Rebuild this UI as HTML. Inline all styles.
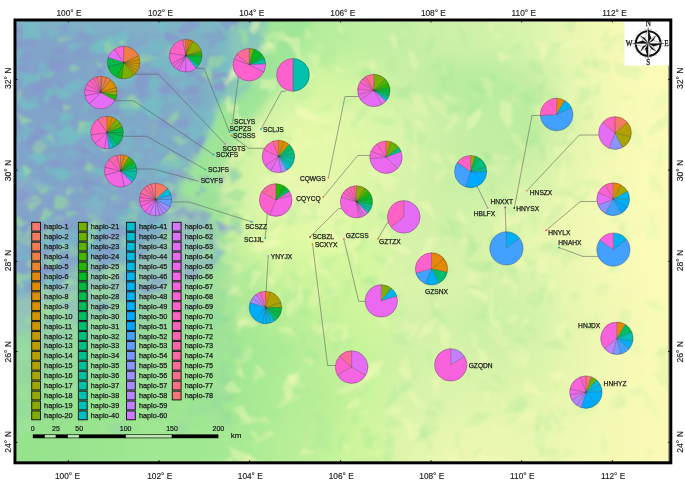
<!DOCTYPE html>
<html><head><meta charset="utf-8"><style>
html,body{margin:0;padding:0;background:#fff;}
body{width:685px;height:487px;overflow:hidden;}
svg{display:block;}
text{font-family:"Liberation Sans",sans-serif;}
.axv{font-size:8.6px !important;}
.ax{font-size:8.3px;fill:#1a1a1a;stroke:#1a1a1a;stroke-width:0.15px;}
.st{font-size:6.65px;fill:#1a1a1a;stroke:#1a1a1a;stroke-width:0.25px;}
.lg{font-size:7.3px;fill:#1a1a1a;stroke:#1a1a1a;stroke-width:0.25px;}
.sb{font-size:7px;fill:#1a1a1a;stroke:#1a1a1a;stroke-width:0.2px;}
.km{font-size:8px;fill:#1a1a1a;stroke:#1a1a1a;stroke-width:0.2px;}
.cp{font-family:"Liberation Serif",serif;font-size:7.2px;fill:#111;stroke:#111;stroke-width:0.25px;}
</style></head><body>
<svg width="685" height="487" viewBox="0 0 685 487">
<defs>
<filter id="bl" x="-5%" y="-5%" width="110%" height="110%"><feGaussianBlur stdDeviation="14"/></filter>
<filter id="bl2" x="-5%" y="-5%" width="110%" height="110%"><feGaussianBlur stdDeviation="4"/></filter>
<linearGradient id="bg1" gradientUnits="userSpaceOnUse" x1="0" y1="0" x2="240" y2="0">
<stop offset="0" stop-color="#82A2CA"/><stop offset="0.6" stop-color="#81A8C8"/><stop offset="0.85" stop-color="#7FB0C6"/><stop offset="1" stop-color="#7EBAC4"/></linearGradient>
<clipPath id="bc"><polygon points="0,0 238,0 238,22 236,45 231,70 224,90 218,106 211,125 204,142 194,160 184,176 176,192 168,210 160,235 140,255 110,268 70,280 40,290 0,300"/></clipPath>
<filter id="bl3" x="-5%" y="-5%" width="110%" height="110%"><feGaussianBlur stdDeviation="1.6"/></filter>
<clipPath id="mc"><rect x="16.5" y="21.5" width="652.8" height="440"/></clipPath>
</defs>
<g clip-path="url(#mc)">
<g filter="url(#bl)">
<rect x="-13" y="-8" width="71.5" height="70.5" fill="#86A2CC"/>
<rect x="58" y="-8" width="41.5" height="70.5" fill="#84ABC9"/>
<rect x="99" y="-8" width="41.5" height="70.5" fill="#82AFC8"/>
<rect x="140" y="-8" width="41.5" height="70.5" fill="#80B2C8"/>
<rect x="181" y="-8" width="41.5" height="70.5" fill="#7FB8C6"/>
<rect x="222" y="-8" width="41.5" height="70.5" fill="#8CCCB8"/>
<rect x="263" y="-8" width="41.5" height="70.5" fill="#A6E89B"/>
<rect x="304" y="-8" width="41.5" height="70.5" fill="#B6EE9B"/>
<rect x="345" y="-8" width="41.5" height="70.5" fill="#BEF09F"/>
<rect x="386" y="-8" width="41.5" height="70.5" fill="#C4EFA5"/>
<rect x="427" y="-8" width="41.5" height="70.5" fill="#CCF1A8"/>
<rect x="468" y="-8" width="41.5" height="70.5" fill="#D0F2A8"/>
<rect x="509" y="-8" width="41.5" height="70.5" fill="#D8F4AC"/>
<rect x="550" y="-8" width="41.5" height="70.5" fill="#E9F7B1"/>
<rect x="591" y="-8" width="41.5" height="70.5" fill="#F5F9B4"/>
<rect x="632" y="-8" width="71.5" height="70.5" fill="#FAFBB7"/>
<rect x="-13" y="62" width="71.5" height="40.5" fill="#879FCD"/>
<rect x="58" y="62" width="41.5" height="40.5" fill="#84A8CA"/>
<rect x="99" y="62" width="41.5" height="40.5" fill="#86A6CC"/>
<rect x="140" y="62" width="41.5" height="40.5" fill="#82AEC8"/>
<rect x="181" y="62" width="41.5" height="40.5" fill="#84AACA"/>
<rect x="222" y="62" width="41.5" height="40.5" fill="#A2DEA3"/>
<rect x="263" y="62" width="41.5" height="40.5" fill="#BEF09F"/>
<rect x="304" y="62" width="41.5" height="40.5" fill="#D6F6A3"/>
<rect x="345" y="62" width="41.5" height="40.5" fill="#CEF4A3"/>
<rect x="386" y="62" width="41.5" height="40.5" fill="#C8F0A6"/>
<rect x="427" y="62" width="41.5" height="40.5" fill="#B8EC9E"/>
<rect x="468" y="62" width="41.5" height="40.5" fill="#B4EC9E"/>
<rect x="509" y="62" width="41.5" height="40.5" fill="#C4EEA4"/>
<rect x="550" y="62" width="41.5" height="40.5" fill="#E1F6AE"/>
<rect x="591" y="62" width="41.5" height="40.5" fill="#F4F9B4"/>
<rect x="632" y="62" width="71.5" height="40.5" fill="#FAFBB7"/>
<rect x="-13" y="102" width="71.5" height="40.5" fill="#83A6CA"/>
<rect x="58" y="102" width="41.5" height="40.5" fill="#869FCD"/>
<rect x="99" y="102" width="41.5" height="40.5" fill="#889ACE"/>
<rect x="140" y="102" width="41.5" height="40.5" fill="#879FCD"/>
<rect x="181" y="102" width="41.5" height="40.5" fill="#88AEC4"/>
<rect x="222" y="102" width="41.5" height="40.5" fill="#C2EEA1"/>
<rect x="263" y="102" width="41.5" height="40.5" fill="#DEF8A7"/>
<rect x="304" y="102" width="41.5" height="40.5" fill="#E4F9A9"/>
<rect x="345" y="102" width="41.5" height="40.5" fill="#DAF7A7"/>
<rect x="386" y="102" width="41.5" height="40.5" fill="#D8F4AA"/>
<rect x="427" y="102" width="41.5" height="40.5" fill="#C8F0A6"/>
<rect x="468" y="102" width="41.5" height="40.5" fill="#C0EEA2"/>
<rect x="509" y="102" width="41.5" height="40.5" fill="#B8EC9E"/>
<rect x="550" y="102" width="41.5" height="40.5" fill="#DBF4AC"/>
<rect x="591" y="102" width="41.5" height="40.5" fill="#F3F9B4"/>
<rect x="632" y="102" width="71.5" height="40.5" fill="#FAFBB7"/>
<rect x="-13" y="142" width="71.5" height="40.5" fill="#869FCD"/>
<rect x="58" y="142" width="41.5" height="40.5" fill="#86A4CB"/>
<rect x="99" y="142" width="41.5" height="40.5" fill="#889ECE"/>
<rect x="140" y="142" width="41.5" height="40.5" fill="#84A6CA"/>
<rect x="181" y="142" width="41.5" height="40.5" fill="#A6DEA3"/>
<rect x="222" y="142" width="41.5" height="40.5" fill="#D2F4A3"/>
<rect x="263" y="142" width="41.5" height="40.5" fill="#E2F8A9"/>
<rect x="304" y="142" width="41.5" height="40.5" fill="#E4F9A9"/>
<rect x="345" y="142" width="41.5" height="40.5" fill="#DEF8A7"/>
<rect x="386" y="142" width="41.5" height="40.5" fill="#D8F4AA"/>
<rect x="427" y="142" width="41.5" height="40.5" fill="#C8F0A4"/>
<rect x="468" y="142" width="41.5" height="40.5" fill="#C0EEA2"/>
<rect x="509" y="142" width="41.5" height="40.5" fill="#CCF0A6"/>
<rect x="550" y="142" width="41.5" height="40.5" fill="#E4F6AE"/>
<rect x="591" y="142" width="41.5" height="40.5" fill="#F5F9B4"/>
<rect x="632" y="142" width="71.5" height="40.5" fill="#FAFBB7"/>
<rect x="-13" y="182" width="71.5" height="40.5" fill="#8AAAC8"/>
<rect x="58" y="182" width="41.5" height="40.5" fill="#889FCD"/>
<rect x="99" y="182" width="41.5" height="40.5" fill="#8AA2CC"/>
<rect x="140" y="182" width="41.5" height="40.5" fill="#88A8C8"/>
<rect x="181" y="182" width="41.5" height="40.5" fill="#A6DAA5"/>
<rect x="222" y="182" width="41.5" height="40.5" fill="#D6F4A5"/>
<rect x="263" y="182" width="41.5" height="40.5" fill="#E8F7B0"/>
<rect x="304" y="182" width="41.5" height="40.5" fill="#E8F7B0"/>
<rect x="345" y="182" width="41.5" height="40.5" fill="#DAF6A7"/>
<rect x="386" y="182" width="41.5" height="40.5" fill="#D4F2A8"/>
<rect x="427" y="182" width="41.5" height="40.5" fill="#CCF0A6"/>
<rect x="468" y="182" width="41.5" height="40.5" fill="#D0F2A8"/>
<rect x="509" y="182" width="41.5" height="40.5" fill="#DCF4AC"/>
<rect x="550" y="182" width="41.5" height="40.5" fill="#EEF8B1"/>
<rect x="591" y="182" width="41.5" height="40.5" fill="#F6FAB6"/>
<rect x="632" y="182" width="71.5" height="40.5" fill="#FAFBB7"/>
<rect x="-13" y="222" width="71.5" height="40.5" fill="#8CAEC6"/>
<rect x="58" y="222" width="41.5" height="40.5" fill="#8CA8C8"/>
<rect x="99" y="222" width="41.5" height="40.5" fill="#8EAEC6"/>
<rect x="140" y="222" width="41.5" height="40.5" fill="#94BCBC"/>
<rect x="181" y="222" width="41.5" height="40.5" fill="#A1D8A2"/>
<rect x="222" y="222" width="41.5" height="40.5" fill="#CDF49E"/>
<rect x="263" y="222" width="41.5" height="40.5" fill="#DDF9A2"/>
<rect x="304" y="222" width="41.5" height="40.5" fill="#E3FBA4"/>
<rect x="345" y="222" width="41.5" height="40.5" fill="#D5F8A0"/>
<rect x="386" y="222" width="41.5" height="40.5" fill="#D4F2A8"/>
<rect x="427" y="222" width="41.5" height="40.5" fill="#D4F2A8"/>
<rect x="468" y="222" width="41.5" height="40.5" fill="#D8F4AA"/>
<rect x="509" y="222" width="41.5" height="40.5" fill="#E4F6AE"/>
<rect x="550" y="222" width="41.5" height="40.5" fill="#F0F8B3"/>
<rect x="591" y="222" width="41.5" height="40.5" fill="#F7FAB6"/>
<rect x="632" y="222" width="71.5" height="40.5" fill="#FAFBB7"/>
<rect x="-13" y="262" width="71.5" height="40.5" fill="#90BCC0"/>
<rect x="58" y="262" width="41.5" height="40.5" fill="#90B8C0"/>
<rect x="99" y="262" width="41.5" height="40.5" fill="#94C0BA"/>
<rect x="140" y="262" width="41.5" height="40.5" fill="#98C8B4"/>
<rect x="181" y="262" width="41.5" height="40.5" fill="#9DD8A0"/>
<rect x="222" y="262" width="41.5" height="40.5" fill="#B5EC98"/>
<rect x="263" y="262" width="41.5" height="40.5" fill="#C5F29A"/>
<rect x="304" y="262" width="41.5" height="40.5" fill="#CDF49C"/>
<rect x="345" y="262" width="41.5" height="40.5" fill="#D1F69E"/>
<rect x="386" y="262" width="41.5" height="40.5" fill="#DCF4AC"/>
<rect x="427" y="262" width="41.5" height="40.5" fill="#DCF4AC"/>
<rect x="468" y="262" width="41.5" height="40.5" fill="#D4F2A8"/>
<rect x="509" y="262" width="41.5" height="40.5" fill="#D8F4AA"/>
<rect x="550" y="262" width="41.5" height="40.5" fill="#E9F7B0"/>
<rect x="591" y="262" width="41.5" height="40.5" fill="#F4F9B4"/>
<rect x="632" y="262" width="71.5" height="40.5" fill="#FAFBB6"/>
<rect x="-13" y="302" width="71.5" height="40.5" fill="#94C8B6"/>
<rect x="58" y="302" width="41.5" height="40.5" fill="#96CCB2"/>
<rect x="99" y="302" width="41.5" height="40.5" fill="#95D4A4"/>
<rect x="140" y="302" width="41.5" height="40.5" fill="#99DA9E"/>
<rect x="181" y="302" width="41.5" height="40.5" fill="#9DE09A"/>
<rect x="222" y="302" width="41.5" height="40.5" fill="#A5E892"/>
<rect x="263" y="302" width="41.5" height="40.5" fill="#B5EE96"/>
<rect x="304" y="302" width="41.5" height="40.5" fill="#C5F29A"/>
<rect x="345" y="302" width="41.5" height="40.5" fill="#CDF69C"/>
<rect x="386" y="302" width="41.5" height="40.5" fill="#D4F2A8"/>
<rect x="427" y="302" width="41.5" height="40.5" fill="#D0F2A6"/>
<rect x="468" y="302" width="41.5" height="40.5" fill="#C8F0A4"/>
<rect x="509" y="302" width="41.5" height="40.5" fill="#D0F2A8"/>
<rect x="550" y="302" width="41.5" height="40.5" fill="#E4F6AE"/>
<rect x="591" y="302" width="41.5" height="40.5" fill="#F1F8B2"/>
<rect x="632" y="302" width="71.5" height="40.5" fill="#F9FAB6"/>
<rect x="-13" y="342" width="71.5" height="40.5" fill="#95D4A2"/>
<rect x="58" y="342" width="41.5" height="40.5" fill="#97DA9C"/>
<rect x="99" y="342" width="41.5" height="40.5" fill="#99DE98"/>
<rect x="140" y="342" width="41.5" height="40.5" fill="#9DE296"/>
<rect x="181" y="342" width="41.5" height="40.5" fill="#9DE492"/>
<rect x="222" y="342" width="41.5" height="40.5" fill="#A1E892"/>
<rect x="263" y="342" width="41.5" height="40.5" fill="#ADEC96"/>
<rect x="304" y="342" width="41.5" height="40.5" fill="#BDF098"/>
<rect x="345" y="342" width="41.5" height="40.5" fill="#C5F49A"/>
<rect x="386" y="342" width="41.5" height="40.5" fill="#D0F2A6"/>
<rect x="427" y="342" width="41.5" height="40.5" fill="#D8F4AA"/>
<rect x="468" y="342" width="41.5" height="40.5" fill="#D4F2A8"/>
<rect x="509" y="342" width="41.5" height="40.5" fill="#D8F4AA"/>
<rect x="550" y="342" width="41.5" height="40.5" fill="#E7F6AE"/>
<rect x="591" y="342" width="41.5" height="40.5" fill="#F3F9B4"/>
<rect x="632" y="342" width="71.5" height="40.5" fill="#F9FAB6"/>
<rect x="-13" y="382" width="71.5" height="40.5" fill="#95E092"/>
<rect x="58" y="382" width="41.5" height="40.5" fill="#95E28E"/>
<rect x="99" y="382" width="41.5" height="40.5" fill="#99E48E"/>
<rect x="140" y="382" width="41.5" height="40.5" fill="#9DE492"/>
<rect x="181" y="382" width="41.5" height="40.5" fill="#9DE690"/>
<rect x="222" y="382" width="41.5" height="40.5" fill="#A5E892"/>
<rect x="263" y="382" width="41.5" height="40.5" fill="#B1EC96"/>
<rect x="304" y="382" width="41.5" height="40.5" fill="#B9EE96"/>
<rect x="345" y="382" width="41.5" height="40.5" fill="#C9F49C"/>
<rect x="386" y="382" width="41.5" height="40.5" fill="#D8F4AA"/>
<rect x="427" y="382" width="41.5" height="40.5" fill="#DCF4AC"/>
<rect x="468" y="382" width="41.5" height="40.5" fill="#E0F5AC"/>
<rect x="509" y="382" width="41.5" height="40.5" fill="#E0F5AC"/>
<rect x="550" y="382" width="41.5" height="40.5" fill="#E9F7B0"/>
<rect x="591" y="382" width="41.5" height="40.5" fill="#F3F9B4"/>
<rect x="632" y="382" width="71.5" height="40.5" fill="#F9FAB6"/>
<rect x="-13" y="422" width="71.5" height="70.5" fill="#95E48C"/>
<rect x="58" y="422" width="41.5" height="70.5" fill="#99E48E"/>
<rect x="99" y="422" width="41.5" height="70.5" fill="#9DE690"/>
<rect x="140" y="422" width="41.5" height="70.5" fill="#A1E892"/>
<rect x="181" y="422" width="41.5" height="70.5" fill="#A1E892"/>
<rect x="222" y="422" width="41.5" height="70.5" fill="#A9EA94"/>
<rect x="263" y="422" width="41.5" height="70.5" fill="#B5EE96"/>
<rect x="304" y="422" width="41.5" height="70.5" fill="#C1F29A"/>
<rect x="345" y="422" width="41.5" height="70.5" fill="#D1F69E"/>
<rect x="386" y="422" width="41.5" height="70.5" fill="#E0F5AC"/>
<rect x="427" y="422" width="41.5" height="70.5" fill="#E8F7B0"/>
<rect x="468" y="422" width="41.5" height="70.5" fill="#ECF8B2"/>
<rect x="509" y="422" width="41.5" height="70.5" fill="#E8F7B0"/>
<rect x="550" y="422" width="41.5" height="70.5" fill="#EFF8B3"/>
<rect x="591" y="422" width="41.5" height="70.5" fill="#F5F9B4"/>
<rect x="632" y="422" width="71.5" height="70.5" fill="#F9FAB6"/>
</g>
<g filter="url(#bl2)">
<polygon points="250,0 318,0 308,30 294,60 278,85 262,105 246,125 232,145 222,165 216,185 220,210 224,235 228,262 215,285 150,292 176,192 184,176 194,160 204,142 211,125 218,106 225,90 229,70 233,45 236,22" fill="#9EE598" />
<polygon points="176,192 196,205 212,222 220,245 214,268 190,285 150,292 100,300 50,312 0,325 0,300 40,290 70,280 110,268 140,255 160,235 168,210" fill="#94C2B8" />
<polygon points="0,0 238,0 238,22 236,45 231,70 224,90 218,106 211,125 204,142 194,160 184,176 176,192 168,210 160,235 140,255 110,268 70,280 40,290 0,300" fill="url(#bg1)" />
<polygon points="222,0 266,0 266,30 261,60 250,85 236,100 220,100 228,60 230,30" fill="#88C6BA" />
<polygon points="0,0 230,0 230,34 0,34" fill="#7EBCC6" fill-opacity="0.45"/>
</g>
<g filter="url(#bl3)">
<polygon points="639.4,449.7 633.7,442.6 627.9,430.2 631.7,426.8 637.5,440.1" fill="#F4FAB8" fill-opacity="0.27"/>
<polygon points="494.2,226.6 500.6,203.5 510.8,207.3" fill="#F4FAB8" fill-opacity="0.30"/>
<polygon points="511.2,164.7 513.8,156.8 524.1,152.3 523.1,158.6 518.3,166.2" fill="#A6E896" fill-opacity="0.26"/>
<polygon points="633.2,148.5 636.3,141.4 654.2,139.0 643.0,149.6" fill="#F4FAB8" fill-opacity="0.28"/>
<polygon points="297.2,351.3 282.2,357.0 270.1,343.4 295.0,344.2" fill="#A6E896" fill-opacity="0.33"/>
<polygon points="674.3,351.9 660.1,356.0 655.7,351.3 664.0,346.0" fill="#A6E896" fill-opacity="0.18"/>
<polygon points="535.6,287.4 522.0,254.5 535.8,261.5" fill="#A6E896" fill-opacity="0.16"/>
<polygon points="537.4,397.0 530.9,391.7 527.1,382.4 539.0,387.7" fill="#F4FAB8" fill-opacity="0.31"/>
<polygon points="424.0,102.6 415.4,102.3 409.0,94.0 413.6,89.2 421.5,95.7" fill="#F4FAB8" fill-opacity="0.33"/>
<polygon points="536.1,110.1 521.7,96.1 526.7,93.0" fill="#A6E896" fill-opacity="0.28"/>
<polygon points="659.0,131.2 659.8,120.4 674.2,104.2 670.9,123.2" fill="#A6E896" fill-opacity="0.17"/>
<polygon points="402.5,394.6 409.9,376.9 417.7,370.3 412.0,386.4" fill="#A6E896" fill-opacity="0.27"/>
<polygon points="560.7,25.4 570.8,22.8 569.7,27.3" fill="#A6E896" fill-opacity="0.22"/>
<polygon points="584.3,61.8 594.5,59.3 603.0,57.1 599.6,64.2 590.1,67.5" fill="#F4FAB8" fill-opacity="0.35"/>
<polygon points="351.2,428.0 352.4,413.3 360.7,415.6" fill="#A6E896" fill-opacity="0.34"/>
<polygon points="414.0,174.7 408.8,158.5 416.8,143.5 418.8,163.1" fill="#F4FAB8" fill-opacity="0.38"/>
<polygon points="652.7,165.4 657.1,156.3 668.5,149.3 661.6,165.7" fill="#F4FAB8" fill-opacity="0.37"/>
<polygon points="413.7,143.6 403.2,139.7 403.6,112.5 413.1,125.1" fill="#A6E896" fill-opacity="0.26"/>
<polygon points="312.2,367.1 301.6,358.6 312.6,356.7" fill="#F4FAB8" fill-opacity="0.36"/>
<polygon points="507.3,151.6 527.2,133.5 531.6,144.8" fill="#A6E896" fill-opacity="0.29"/>
<polygon points="592.7,82.5 574.0,75.0 576.5,66.3" fill="#A6E896" fill-opacity="0.21"/>
<polygon points="563.0,157.7 574.0,145.9 582.8,143.3 580.2,153.4 572.3,155.8" fill="#F4FAB8" fill-opacity="0.26"/>
<polygon points="265.2,376.7 260.3,373.7 254.1,366.1 258.9,366.1 263.7,372.2" fill="#F4FAB8" fill-opacity="0.49"/>
<polygon points="614.1,239.2 594.1,244.6 577.7,235.2 589.3,228.4" fill="#F4FAB8" fill-opacity="0.47"/>
<polygon points="381.9,284.2 380.1,278.2 381.1,273.6 383.6,280.0" fill="#F4FAB8" fill-opacity="0.48"/>
<polygon points="308.4,390.3 289.5,387.3 287.7,376.1 294.2,374.4" fill="#F4FAB8" fill-opacity="0.28"/>
<polygon points="271.9,286.9 265.7,277.1 272.1,275.9" fill="#F4FAB8" fill-opacity="0.46"/>
<polygon points="300.4,306.5 285.0,303.5 284.1,295.5 285.6,289.7 297.5,300.4" fill="#A6E896" fill-opacity="0.23"/>
<polygon points="241.0,445.1 245.4,421.9 253.8,418.1 255.1,432.4" fill="#A6E896" fill-opacity="0.44"/>
<polygon points="224.7,276.4 237.6,258.3 244.4,271.8" fill="#F4FAB8" fill-opacity="0.27"/>
<polygon points="649.9,307.2 640.5,301.5 639.7,294.7 646.8,299.8" fill="#F4FAB8" fill-opacity="0.29"/>
<polygon points="340.2,353.8 340.6,339.0 346.2,323.8 348.8,338.4" fill="#F4FAB8" fill-opacity="0.45"/>
<polygon points="225.3,296.1 237.9,284.8 240.0,289.8" fill="#F4FAB8" fill-opacity="0.34"/>
<polygon points="467.9,463.0 458.6,458.2 457.5,445.3 463.4,449.7 466.3,453.4" fill="#A6E896" fill-opacity="0.16"/>
<polygon points="615.5,157.8 604.1,150.6 602.5,143.6 605.9,138.0 617.5,147.8" fill="#A6E896" fill-opacity="0.11"/>
<polygon points="239.8,318.4 235.7,300.8 250.0,307.4" fill="#A6E896" fill-opacity="0.43"/>
<polygon points="424.8,131.0 412.4,122.8 421.1,119.8" fill="#F4FAB8" fill-opacity="0.41"/>
<polygon points="355.4,244.7 336.7,236.9 333.5,229.5 345.3,231.4" fill="#A6E896" fill-opacity="0.25"/>
<polygon points="592.4,118.7 585.8,119.9 581.0,117.9 583.7,115.5 589.7,114.1" fill="#A6E896" fill-opacity="0.25"/>
<polygon points="229.0,206.6 235.3,199.7 240.0,198.1 248.5,206.4 230.0,211.8" fill="#A6E896" fill-opacity="0.24"/>
<polygon points="419.4,151.6 417.2,128.4 427.4,136.4" fill="#A6E896" fill-opacity="0.27"/>
<polygon points="323.2,301.6 327.3,287.7 331.7,279.5 340.7,284.6 337.1,295.7" fill="#F4FAB8" fill-opacity="0.33"/>
<polygon points="511.3,159.0 493.8,162.8 491.7,151.9" fill="#F4FAB8" fill-opacity="0.31"/>
<polygon points="486.2,418.6 484.3,420.7 475.6,419.0 479.9,415.0 485.2,416.1" fill="#A6E896" fill-opacity="0.16"/>
<polygon points="557.2,53.8 542.3,55.4 532.8,38.2 556.3,46.7" fill="#F4FAB8" fill-opacity="0.48"/>
<polygon points="577.7,199.0 566.1,195.1 563.0,187.2 571.9,188.6" fill="#A6E896" fill-opacity="0.21"/>
<polygon points="565.7,387.4 560.3,379.3 562.8,375.6" fill="#A6E896" fill-opacity="0.19"/>
<polygon points="296.1,166.0 292.9,155.7 292.1,140.0 301.1,155.0" fill="#F4FAB8" fill-opacity="0.30"/>
<polygon points="322.7,274.6 320.7,268.2 327.3,257.5 326.1,269.2" fill="#A6E896" fill-opacity="0.27"/>
<polygon points="537.0,433.3 533.9,427.1 538.1,411.1 544.0,415.3 541.0,427.3" fill="#A6E896" fill-opacity="0.22"/>
<polygon points="241.0,77.6 231.2,80.5 221.2,79.4 216.5,72.7 239.1,70.0" fill="#F4FAB8" fill-opacity="0.27"/>
<polygon points="568.3,140.3 563.2,138.4 564.0,128.4 569.4,130.2" fill="#A6E896" fill-opacity="0.17"/>
<polygon points="512.1,56.2 499.5,62.8 497.3,51.4" fill="#F4FAB8" fill-opacity="0.50"/>
<polygon points="558.7,132.8 549.8,123.0 558.6,119.8" fill="#A6E896" fill-opacity="0.16"/>
<polygon points="317.0,332.8 318.8,322.4 334.2,314.5 337.3,323.5 329.6,331.5" fill="#A6E896" fill-opacity="0.20"/>
<polygon points="319.1,300.5 312.2,297.2 303.1,288.7 314.6,292.6" fill="#A6E896" fill-opacity="0.36"/>
<polygon points="224.3,87.5 224.4,76.9 235.2,62.4 238.2,66.0 235.7,76.3" fill="#F4FAB8" fill-opacity="0.45"/>
<polygon points="390.3,190.3 375.4,188.3 377.6,182.7" fill="#A6E896" fill-opacity="0.18"/>
<polygon points="334.5,240.6 330.7,236.7 350.1,226.1 357.4,230.3 339.8,244.2" fill="#F4FAB8" fill-opacity="0.34"/>
<polygon points="595.5,260.7 592.3,260.5 587.8,254.3 588.8,251.1 595.2,256.8" fill="#A6E896" fill-opacity="0.11"/>
<polygon points="461.3,174.2 464.2,163.9 469.8,164.9" fill="#A6E896" fill-opacity="0.37"/>
<polygon points="249.9,129.0 240.4,129.4 234.4,112.7 252.0,123.3" fill="#F4FAB8" fill-opacity="0.44"/>
<polygon points="548.4,274.8 544.0,278.0 535.2,271.4 545.5,271.8" fill="#A6E896" fill-opacity="0.28"/>
<polygon points="350.7,210.9 365.0,199.5 381.3,196.9 367.9,207.9" fill="#A6E896" fill-opacity="0.14"/>
<polygon points="516.5,102.8 523.7,91.2 542.6,83.8 545.6,92.4 533.3,98.8" fill="#A6E896" fill-opacity="0.25"/>
<polygon points="608.2,180.6 615.1,175.8 622.7,175.2 622.4,179.5 618.3,182.7" fill="#A6E896" fill-opacity="0.20"/>
<polygon points="285.4,152.2 294.3,142.9 311.8,137.3 320.0,142.2 299.2,152.0" fill="#F4FAB8" fill-opacity="0.29"/>
<polygon points="587.8,70.7 581.9,62.5 588.1,56.3" fill="#A6E896" fill-opacity="0.20"/>
<polygon points="638.8,80.2 619.1,75.6 615.6,70.9 612.9,60.0 637.1,70.0" fill="#A6E896" fill-opacity="0.17"/>
<polygon points="256.3,86.2 251.6,80.5 247.1,76.3 251.9,73.6 257.0,78.7" fill="#F4FAB8" fill-opacity="0.30"/>
<polygon points="269.1,180.0 269.3,170.2 277.4,158.4 277.6,172.4" fill="#A6E896" fill-opacity="0.20"/>
<polygon points="271.1,42.4 263.1,37.5 251.3,26.3 254.3,20.9 265.7,29.3" fill="#A6E896" fill-opacity="0.34"/>
<polygon points="226.8,186.0 224.2,187.1 221.4,175.2 225.2,176.6 228.9,182.2" fill="#F4FAB8" fill-opacity="0.25"/>
<polygon points="431.5,435.0 422.6,436.2 411.2,427.1 424.9,426.9" fill="#A6E896" fill-opacity="0.19"/>
<polygon points="502.9,334.1 490.1,324.3 490.0,317.5 499.7,321.1" fill="#F4FAB8" fill-opacity="0.47"/>
<polygon points="493.2,300.9 487.4,289.6 493.4,286.6" fill="#F4FAB8" fill-opacity="0.29"/>
<polygon points="234.2,90.7 237.7,79.8 252.4,74.4 249.3,82.5 245.8,85.2" fill="#A6E896" fill-opacity="0.29"/>
<polygon points="564.1,258.1 546.0,246.5 554.7,243.9" fill="#A6E896" fill-opacity="0.16"/>
<polygon points="353.0,239.4 348.6,235.4 352.0,225.7 355.8,226.0 355.6,235.9" fill="#A6E896" fill-opacity="0.27"/>
<polygon points="426.2,327.0 434.4,315.5 437.3,319.7" fill="#A6E896" fill-opacity="0.17"/>
<polygon points="344.9,33.3 343.0,37.3 337.0,27.7 337.8,24.4 342.7,28.2" fill="#F4FAB8" fill-opacity="0.39"/>
<polygon points="398.8,141.8 401.3,125.4 406.4,130.7" fill="#F4FAB8" fill-opacity="0.27"/>
<polygon points="495.3,270.4 475.5,272.8 461.5,261.3 489.0,261.1" fill="#A6E896" fill-opacity="0.30"/>
<polygon points="302.0,348.4 298.5,340.5 303.9,330.0 306.0,342.1" fill="#A6E896" fill-opacity="0.38"/>
<polygon points="251.8,156.1 248.3,155.8 243.6,146.4 250.3,143.2 252.5,151.8" fill="#A6E896" fill-opacity="0.34"/>
<polygon points="434.8,184.0 435.2,175.5 444.4,167.6 447.2,170.5 444.4,178.1" fill="#F4FAB8" fill-opacity="0.36"/>
<polygon points="390.6,468.8 384.4,458.4 385.3,433.3 392.1,433.6 394.9,448.3" fill="#A6E896" fill-opacity="0.27"/>
<polygon points="518.4,238.7 494.0,247.1 486.7,237.3 499.0,233.0" fill="#A6E896" fill-opacity="0.28"/>
<polygon points="459.9,118.7 450.9,119.3 449.0,112.5" fill="#A6E896" fill-opacity="0.28"/>
<polygon points="333.1,440.6 322.0,435.3 312.2,413.7 323.0,414.2 330.2,421.0" fill="#A6E896" fill-opacity="0.27"/>
<polygon points="588.3,169.6 586.4,162.8 589.1,157.1 590.4,166.6" fill="#F4FAB8" fill-opacity="0.26"/>
<polygon points="617.2,274.4 621.8,259.6 627.2,257.9 624.4,267.6" fill="#F4FAB8" fill-opacity="0.41"/>
<polygon points="283.6,378.1 295.6,373.4 301.0,377.0 293.4,382.1" fill="#F4FAB8" fill-opacity="0.34"/>
<polygon points="361.7,128.8 355.1,117.5 359.0,113.1 364.3,119.7" fill="#F4FAB8" fill-opacity="0.30"/>
<polygon points="434.1,454.1 419.4,434.6 430.2,435.5" fill="#A6E896" fill-opacity="0.20"/>
<polygon points="257.0,149.3 249.3,140.6 263.3,117.6 264.0,144.2" fill="#F4FAB8" fill-opacity="0.48"/>
<polygon points="348.6,325.8 330.1,333.2 313.2,323.4 329.7,321.5" fill="#F4FAB8" fill-opacity="0.28"/>
<polygon points="345.8,410.3 348.2,403.2 355.5,398.3 362.6,399.0 355.3,407.4" fill="#F4FAB8" fill-opacity="0.44"/>
<polygon points="393.7,160.4 384.9,150.6 391.5,149.0" fill="#F4FAB8" fill-opacity="0.43"/>
<polygon points="518.8,234.3 516.6,218.8 523.8,219.8" fill="#A6E896" fill-opacity="0.23"/>
<polygon points="369.7,451.8 382.3,439.9 384.4,447.0" fill="#A6E896" fill-opacity="0.19"/>
<polygon points="225.6,112.0 227.3,106.2 237.4,103.7 239.4,108.1 231.2,113.5" fill="#F4FAB8" fill-opacity="0.39"/>
<polygon points="231.9,409.2 224.4,407.6 216.7,390.1 223.3,389.1 230.0,399.3" fill="#A6E896" fill-opacity="0.36"/>
<polygon points="436.3,411.2 414.8,408.3 412.5,394.7" fill="#F4FAB8" fill-opacity="0.25"/>
<polygon points="539.5,146.8 530.1,142.6 529.5,127.7 538.6,135.2" fill="#A6E896" fill-opacity="0.26"/>
<polygon points="344.1,302.3 343.7,279.2 354.6,281.3" fill="#A6E896" fill-opacity="0.24"/>
<polygon points="261.8,189.6 267.9,182.7 282.4,188.4 280.1,196.7" fill="#F4FAB8" fill-opacity="0.30"/>
<polygon points="617.2,63.1 614.9,50.5 624.7,43.8" fill="#F4FAB8" fill-opacity="0.38"/>
<polygon points="416.9,432.3 425.9,420.1 432.3,412.2 437.2,421.1 427.3,429.1" fill="#A6E896" fill-opacity="0.17"/>
<polygon points="563.2,231.4 553.9,229.9 556.3,214.7 563.8,213.6 569.9,227.5" fill="#F4FAB8" fill-opacity="0.40"/>
<polygon points="417.9,339.5 423.5,325.1 438.8,315.7 430.5,333.2" fill="#F4FAB8" fill-opacity="0.47"/>
<polygon points="474.7,468.1 459.9,456.6 455.6,447.2 467.8,449.8" fill="#F4FAB8" fill-opacity="0.31"/>
<polygon points="407.0,341.1 418.0,323.3 418.8,330.0" fill="#F4FAB8" fill-opacity="0.48"/>
<polygon points="521.7,446.8 519.9,441.5 524.5,433.5 523.9,441.6" fill="#F4FAB8" fill-opacity="0.33"/>
<polygon points="443.3,135.2 453.1,111.1 459.8,118.8" fill="#F4FAB8" fill-opacity="0.42"/>
<polygon points="382.7,444.0 389.7,437.8 397.9,436.6 390.6,446.6" fill="#A6E896" fill-opacity="0.19"/>
<polygon points="332.0,231.1 335.0,218.9 347.2,219.7" fill="#A6E896" fill-opacity="0.24"/>
<polygon points="251.5,423.6 231.7,409.3 243.2,404.4" fill="#F4FAB8" fill-opacity="0.42"/>
<polygon points="348.4,454.4 343.7,448.6 339.4,438.4 349.6,445.7" fill="#F4FAB8" fill-opacity="0.27"/>
<polygon points="563.3,146.0 570.4,132.1 574.2,135.4" fill="#F4FAB8" fill-opacity="0.45"/>
<polygon points="242.6,235.0 247.4,225.7 259.6,228.2" fill="#F4FAB8" fill-opacity="0.26"/>
<polygon points="570.0,152.3 562.8,151.0 556.0,143.7 555.1,139.4 566.2,144.6" fill="#F4FAB8" fill-opacity="0.33"/>
<polygon points="579.1,193.8 574.0,189.5 570.9,172.8 581.2,186.4" fill="#A6E896" fill-opacity="0.14"/>
<polygon points="567.7,304.1 563.3,303.4 561.7,293.9 566.1,290.7 567.7,298.7" fill="#F4FAB8" fill-opacity="0.43"/>
<polygon points="369.6,237.3 368.0,234.4 376.5,225.8 380.3,230.0 371.9,241.5" fill="#F4FAB8" fill-opacity="0.50"/>
<polygon points="505.6,320.6 512.6,313.5 519.1,316.2 512.9,325.0" fill="#F4FAB8" fill-opacity="0.42"/>
<polygon points="570.3,340.0 565.7,338.4 562.8,330.2 566.4,326.9 569.6,333.9" fill="#A6E896" fill-opacity="0.26"/>
<polygon points="651.0,103.0 662.9,96.6 665.3,100.8 663.4,105.6" fill="#F4FAB8" fill-opacity="0.29"/>
<polygon points="471.1,241.9 459.9,244.1 451.4,237.2 463.3,236.9" fill="#F4FAB8" fill-opacity="0.37"/>
<polygon points="444.0,412.5 436.1,408.1 430.1,399.0 437.8,400.8 443.3,401.8" fill="#A6E896" fill-opacity="0.20"/>
<polygon points="396.8,78.7 390.9,73.1 385.3,60.5 392.7,60.0 394.9,66.7" fill="#A6E896" fill-opacity="0.22"/>
<polygon points="245.2,47.8 240.4,41.1 243.2,27.7 247.6,32.0 248.6,42.7" fill="#A6E896" fill-opacity="0.44"/>
<polygon points="275.4,409.9 286.7,391.5 303.7,396.4" fill="#F4FAB8" fill-opacity="0.30"/>
<polygon points="290.3,39.4 286.3,41.8 267.3,37.4 269.8,32.6 283.2,31.1" fill="#F4FAB8" fill-opacity="0.42"/>
<polygon points="592.7,95.3 589.2,94.7 597.3,83.4 601.7,81.7 599.0,95.7" fill="#A6E896" fill-opacity="0.20"/>
<polygon points="448.1,120.5 431.6,105.7 425.4,92.7 444.9,104.0" fill="#F4FAB8" fill-opacity="0.35"/>
<polygon points="237.3,334.1 235.9,313.0 244.3,304.5 248.9,320.2" fill="#F4FAB8" fill-opacity="0.37"/>
<polygon points="475.4,320.1 485.0,307.4 492.1,302.7 500.1,308.8 491.0,316.5" fill="#A6E896" fill-opacity="0.23"/>
<polygon points="495.3,40.4 493.3,36.4 501.2,30.1 501.8,34.2 498.2,39.5" fill="#F4FAB8" fill-opacity="0.32"/>
<polygon points="271.1,89.0 263.1,88.2 256.1,83.8 256.5,78.6 263.6,78.8" fill="#A6E896" fill-opacity="0.47"/>
<polygon points="649.9,59.9 657.2,58.2 658.7,63.1" fill="#F4FAB8" fill-opacity="0.35"/>
<polygon points="297.0,303.3 286.8,289.1 291.5,280.8" fill="#A6E896" fill-opacity="0.25"/>
<polygon points="475.2,345.8 469.0,333.5 476.2,331.9" fill="#F4FAB8" fill-opacity="0.37"/>
<polygon points="395.6,315.5 405.1,311.6 404.7,315.8" fill="#A6E896" fill-opacity="0.28"/>
<polygon points="598.9,55.9 602.3,45.3 611.2,43.4 613.8,45.4 608.4,53.5" fill="#A6E896" fill-opacity="0.14"/>
<polygon points="543.7,75.4 537.2,73.0 527.4,66.5 531.1,59.3 541.4,64.5" fill="#A6E896" fill-opacity="0.30"/>
<polygon points="272.0,239.7 269.7,234.2 281.3,223.2 279.2,235.2" fill="#F4FAB8" fill-opacity="0.45"/>
<polygon points="363.4,88.7 361.5,76.0 366.0,57.0 372.0,74.5" fill="#A6E896" fill-opacity="0.32"/>
<polygon points="345.5,395.0 367.2,366.2 372.9,376.1" fill="#F4FAB8" fill-opacity="0.35"/>
<polygon points="372.7,74.2 360.6,77.8 356.2,71.5 368.3,70.3" fill="#A6E896" fill-opacity="0.24"/>
<polygon points="606.1,155.6 601.1,138.0 609.1,135.7" fill="#A6E896" fill-opacity="0.14"/>
<polygon points="625.3,297.7 612.9,293.2 605.8,275.0 616.6,280.6" fill="#F4FAB8" fill-opacity="0.34"/>
<polygon points="646.7,240.0 646.4,228.8 650.9,220.9 656.6,222.6 654.9,230.0" fill="#A6E896" fill-opacity="0.14"/>
<polygon points="261.1,141.8 272.7,136.8 278.7,136.8 275.7,140.9" fill="#A6E896" fill-opacity="0.17"/>
<polygon points="332.3,254.6 327.2,238.8 333.5,225.6 337.9,239.8" fill="#F4FAB8" fill-opacity="0.30"/>
<polygon points="526.9,253.4 508.9,250.5 513.3,239.7" fill="#F4FAB8" fill-opacity="0.35"/>
<polygon points="310.6,37.6 307.7,43.7 288.1,33.4 291.2,25.5 307.6,33.0" fill="#A6E896" fill-opacity="0.38"/>
<polygon points="547.1,475.9 546.3,461.2 555.5,446.8 557.2,457.9 555.9,468.2" fill="#A6E896" fill-opacity="0.14"/>
<polygon points="360.9,281.0 351.9,269.0 348.0,249.6 360.1,265.1" fill="#A6E896" fill-opacity="0.23"/>
<polygon points="332.9,449.3 323.5,451.0 311.1,435.5 317.8,430.4 329.0,440.9" fill="#A6E896" fill-opacity="0.35"/>
<polygon points="305.8,225.5 297.9,224.6 292.4,218.2 303.2,220.9" fill="#F4FAB8" fill-opacity="0.37"/>
<polygon points="259.3,437.4 264.8,430.6 275.2,426.0 277.7,432.5 269.9,439.0" fill="#A6E896" fill-opacity="0.24"/>
<polygon points="547.7,376.2 551.9,371.8 562.5,371.3 564.9,375.0 560.4,381.1" fill="#F4FAB8" fill-opacity="0.40"/>
<polygon points="328.8,170.7 317.4,174.5 313.2,168.9 322.3,166.6" fill="#F4FAB8" fill-opacity="0.26"/>
<polygon points="436.4,220.2 416.1,202.5 428.8,200.2" fill="#F4FAB8" fill-opacity="0.49"/>
<polygon points="625.6,237.6 605.9,229.6 611.9,225.6" fill="#F4FAB8" fill-opacity="0.31"/>
<polygon points="315.3,223.5 307.0,203.9 319.1,200.4" fill="#A6E896" fill-opacity="0.20"/>
<polygon points="249.5,133.8 246.0,138.6 227.0,125.6 232.2,121.7 242.3,125.9" fill="#A6E896" fill-opacity="0.39"/>
<polygon points="556.1,351.0 551.9,333.8 556.9,336.4" fill="#A6E896" fill-opacity="0.17"/>
<polygon points="312.9,318.6 295.7,312.3 285.9,307.5 294.2,303.8 307.2,306.6" fill="#A6E896" fill-opacity="0.30"/>
<polygon points="412.7,250.7 406.4,255.4 389.8,247.2 391.8,241.0 404.1,245.9" fill="#F4FAB8" fill-opacity="0.48"/>
<polygon points="374.3,284.3 381.5,268.2 384.1,273.8" fill="#F4FAB8" fill-opacity="0.26"/>
<polygon points="536.2,217.3 546.6,210.4 554.6,214.2" fill="#F4FAB8" fill-opacity="0.44"/>
<polygon points="344.6,72.6 334.9,70.1 337.3,66.3" fill="#F4FAB8" fill-opacity="0.47"/>
<polygon points="413.4,383.6 397.2,370.9 405.8,356.0" fill="#F4FAB8" fill-opacity="0.46"/>
<polygon points="232.3,264.9 222.2,261.8 212.0,235.6 233.3,251.0" fill="#F4FAB8" fill-opacity="0.26"/>
<polygon points="268.9,70.9 257.2,66.4 247.9,56.5 256.3,51.4 268.8,60.5" fill="#A6E896" fill-opacity="0.36"/>
<polygon points="574.4,407.9 569.8,394.2 580.1,385.8 581.3,391.4 577.6,401.1" fill="#A6E896" fill-opacity="0.24"/>
<polygon points="500.6,224.8 501.5,214.7 527.0,212.1 520.9,222.4 509.9,225.8" fill="#F4FAB8" fill-opacity="0.48"/>
<polygon points="556.2,171.7 554.9,166.3 557.9,160.1 559.8,160.4 561.4,164.3" fill="#A6E896" fill-opacity="0.22"/>
<polygon points="403.2,425.6 387.5,429.3 383.3,422.0 391.9,415.4" fill="#A6E896" fill-opacity="0.24"/>
<polygon points="357.9,399.2 362.8,381.3 370.5,385.0" fill="#A6E896" fill-opacity="0.29"/>
<polygon points="296.6,313.3 293.4,301.3 302.1,290.8 303.6,297.9" fill="#F4FAB8" fill-opacity="0.38"/>
<polygon points="577.1,105.4 580.8,87.7 592.1,82.9 588.3,100.0" fill="#A6E896" fill-opacity="0.26"/>
<polygon points="260.0,322.6 273.9,310.6 280.8,312.2 278.3,324.5" fill="#A6E896" fill-opacity="0.41"/>
<polygon points="657.8,176.8 655.8,153.0 663.8,139.7 664.1,159.4" fill="#A6E896" fill-opacity="0.10"/>
<polygon points="360.0,365.2 343.6,364.0 339.7,358.3 340.6,354.8 348.7,357.1" fill="#A6E896" fill-opacity="0.39"/>
<polygon points="345.5,91.7 358.7,81.1 357.3,88.5" fill="#F4FAB8" fill-opacity="0.43"/>
<polygon points="548.2,404.7 552.7,396.4 566.4,392.4 557.6,401.9" fill="#F4FAB8" fill-opacity="0.41"/>
<polygon points="593.5,106.3 607.6,102.0 603.3,109.1" fill="#F4FAB8" fill-opacity="0.34"/>
<polygon points="344.7,258.8 342.0,248.9 348.4,241.1 348.3,250.4" fill="#A6E896" fill-opacity="0.33"/>
<polygon points="334.1,349.9 331.1,344.6 347.9,337.5 353.2,341.1 342.9,348.9" fill="#A6E896" fill-opacity="0.39"/>
<polygon points="384.4,270.2 383.8,264.3 391.0,254.4 393.9,258.9 392.1,263.4" fill="#F4FAB8" fill-opacity="0.48"/>
<polygon points="474.3,250.1 470.1,245.8 464.7,231.3 472.3,233.8 475.9,242.1" fill="#A6E896" fill-opacity="0.25"/>
<polygon points="330.4,278.4 312.2,268.3 307.4,262.0 313.9,256.9 323.4,260.0" fill="#F4FAB8" fill-opacity="0.46"/>
<polygon points="290.5,386.6 293.6,373.9 301.3,368.9 297.1,382.7" fill="#F4FAB8" fill-opacity="0.35"/>
<polygon points="604.4,52.8 609.4,38.4 616.8,37.8" fill="#A6E896" fill-opacity="0.13"/>
<polygon points="270.3,328.7 268.4,317.7 272.4,310.9 274.7,317.8" fill="#F4FAB8" fill-opacity="0.34"/>
<polygon points="411.3,425.0 407.7,428.4 400.5,416.9 410.8,421.2" fill="#F4FAB8" fill-opacity="0.48"/>
<polygon points="550.2,275.4 540.0,274.7 538.2,259.4 546.2,263.6" fill="#F4FAB8" fill-opacity="0.44"/>
<polygon points="605.8,412.2 598.8,406.9 602.2,390.1 608.5,386.8 608.9,408.0" fill="#F4FAB8" fill-opacity="0.34"/>
<polygon points="628.5,242.3 617.2,225.5 626.6,219.1" fill="#A6E896" fill-opacity="0.19"/>
<polygon points="255.4,224.3 250.4,219.5 251.7,213.0 255.4,213.9" fill="#A6E896" fill-opacity="0.17"/>
<polygon points="469.3,254.2 467.8,249.2 475.4,242.2 481.2,243.0 476.6,249.1" fill="#A6E896" fill-opacity="0.16"/>
<polygon points="407.2,112.1 413.3,107.7 419.5,107.8 416.0,111.0" fill="#F4FAB8" fill-opacity="0.35"/>
<polygon points="321.8,81.4 307.3,53.4 319.2,54.1" fill="#F4FAB8" fill-opacity="0.26"/>
<polygon points="412.7,443.1 421.2,432.3 429.3,430.5 425.6,439.2" fill="#A6E896" fill-opacity="0.27"/>
<polygon points="541.6,192.1 545.1,187.5 558.7,187.5 550.2,194.3" fill="#F4FAB8" fill-opacity="0.47"/>
<polygon points="260.9,180.4 271.3,174.6 277.8,176.7 267.4,182.7" fill="#F4FAB8" fill-opacity="0.48"/>
<polygon points="376.9,70.8 367.2,67.1 372.9,63.6" fill="#F4FAB8" fill-opacity="0.41"/>
<polygon points="370.2,301.9 365.0,289.7 374.8,284.2" fill="#A6E896" fill-opacity="0.34"/>
<polygon points="322.7,217.2 297.8,227.4 282.8,221.7 304.4,212.9" fill="#A6E896" fill-opacity="0.19"/>
<polygon points="628.3,39.4 640.3,27.0 650.8,28.3 641.4,35.5" fill="#A6E896" fill-opacity="0.16"/>
<polygon points="652.7,115.3 655.1,97.3 664.7,91.8 671.4,94.8 664.7,108.4" fill="#A6E896" fill-opacity="0.09"/>
<polygon points="404.1,292.2 400.2,285.1 402.2,278.2 403.9,284.7" fill="#F4FAB8" fill-opacity="0.29"/>
<polygon points="271.7,360.0 265.2,357.5 262.7,343.8 268.2,347.5 272.7,352.1" fill="#A6E896" fill-opacity="0.39"/>
<polygon points="269.9,43.7 267.4,29.6 274.2,13.9 278.9,22.0 280.7,33.5" fill="#A6E896" fill-opacity="0.25"/>
<polygon points="516.3,198.7 518.3,186.2 524.0,188.8" fill="#F4FAB8" fill-opacity="0.48"/>
<polygon points="590.7,378.9 589.9,364.9 598.1,365.8 603.1,370.0" fill="#F4FAB8" fill-opacity="0.31"/>
<polygon points="301.0,61.1 283.8,37.2 300.0,37.5" fill="#F4FAB8" fill-opacity="0.49"/>
<polygon points="464.5,236.7 456.6,244.1 444.1,230.3 453.0,225.0" fill="#A6E896" fill-opacity="0.32"/>
<polygon points="383.2,413.7 390.0,407.6 405.5,405.0 402.7,409.6 395.7,416.2" fill="#F4FAB8" fill-opacity="0.40"/>
<polygon points="228.7,370.2 235.8,359.6 245.9,364.3" fill="#A6E896" fill-opacity="0.40"/>
<polygon points="515.2,293.5 510.7,273.3 517.4,277.9" fill="#F4FAB8" fill-opacity="0.28"/>
<polygon points="336.3,314.1 325.5,290.0 339.5,285.2" fill="#A6E896" fill-opacity="0.18"/>
<polygon points="656.8,423.5 658.0,411.6 660.9,404.1 662.9,416.0" fill="#F4FAB8" fill-opacity="0.32"/>
<polygon points="459.0,178.6 451.4,175.1 477.1,160.8 479.9,170.3 464.2,183.4" fill="#A6E896" fill-opacity="0.26"/>
<polygon points="332.8,71.5 324.1,66.5 327.0,59.2" fill="#A6E896" fill-opacity="0.24"/>
<polygon points="573.9,197.6 558.6,196.7 541.6,187.4 550.4,185.1 564.2,191.5" fill="#A6E896" fill-opacity="0.21"/>
<polygon points="374.1,179.2 370.0,169.0 370.6,157.7 378.9,159.2 377.4,176.2" fill="#F4FAB8" fill-opacity="0.42"/>
<polygon points="672.3,388.1 660.2,385.7 652.6,370.8 664.0,374.1" fill="#A6E896" fill-opacity="0.16"/>
<polygon points="634.8,302.7 624.1,296.1 619.0,283.5 633.6,289.2" fill="#F4FAB8" fill-opacity="0.31"/>
<polygon points="253.8,248.8 263.7,238.6 283.9,242.6 260.4,251.7" fill="#F4FAB8" fill-opacity="0.33"/>
<polygon points="235.0,86.3 236.0,83.0 247.1,79.6 250.3,81.8 238.0,87.9" fill="#A6E896" fill-opacity="0.26"/>
<polygon points="357.4,413.2 368.2,410.7 368.5,415.8" fill="#F4FAB8" fill-opacity="0.38"/>
<polygon points="395.3,191.4 383.5,190.5 377.2,172.1 398.1,179.3" fill="#F4FAB8" fill-opacity="0.41"/>
<polygon points="409.4,440.8 405.1,433.6 408.9,423.1 418.7,424.6 419.3,433.3" fill="#F4FAB8" fill-opacity="0.47"/>
<polygon points="410.7,209.2 406.6,189.0 417.5,186.9" fill="#F4FAB8" fill-opacity="0.29"/>
<polygon points="253.6,57.1 277.7,39.1 276.5,52.4" fill="#F4FAB8" fill-opacity="0.34"/>
<polygon points="395.5,315.2 400.5,304.1 407.9,310.0" fill="#A6E896" fill-opacity="0.19"/>
<polygon points="315.4,79.0 301.2,70.1 310.9,70.6" fill="#F4FAB8" fill-opacity="0.50"/>
<polygon points="596.2,289.0 602.5,273.4 607.2,279.0" fill="#F4FAB8" fill-opacity="0.44"/>
<polygon points="518.1,327.3 527.2,315.9 530.3,321.9" fill="#F4FAB8" fill-opacity="0.50"/>
<polygon points="244.0,297.5 228.5,292.8 223.6,286.4 230.7,283.0 238.9,290.6" fill="#F4FAB8" fill-opacity="0.29"/>
<polygon points="572.7,131.8 558.6,112.4 574.5,111.5" fill="#A6E896" fill-opacity="0.29"/>
<polygon points="341.8,130.3 330.5,131.6 321.3,120.7 329.7,116.2" fill="#F4FAB8" fill-opacity="0.31"/>
<polygon points="649.4,224.1 646.4,216.2 650.3,209.8 657.7,210.1 653.5,221.6" fill="#A6E896" fill-opacity="0.10"/>
<polygon points="370.8,89.3 359.5,88.5 363.1,83.0" fill="#F4FAB8" fill-opacity="0.43"/>
<polygon points="258.8,63.3 255.7,56.8 260.6,51.7 262.8,59.1" fill="#A6E896" fill-opacity="0.52"/>
<polygon points="396.4,47.0 397.5,41.4 406.9,37.7 403.7,43.4" fill="#A6E896" fill-opacity="0.25"/>
<polygon points="605.3,100.2 603.0,92.5 608.5,84.3 609.0,93.4" fill="#F4FAB8" fill-opacity="0.34"/>
<polygon points="244.6,379.2 235.4,373.3 236.2,358.0 241.1,365.8" fill="#F4FAB8" fill-opacity="0.48"/>
<polygon points="641.4,150.7 632.4,143.6 626.9,125.8 642.8,136.1" fill="#A6E896" fill-opacity="0.10"/>
<polygon points="532.5,105.0 526.3,101.3 523.1,96.4 531.4,95.5" fill="#A6E896" fill-opacity="0.37"/>
<polygon points="250.3,446.5 269.7,429.3 275.6,434.4" fill="#F4FAB8" fill-opacity="0.35"/>
<polygon points="505.1,287.4 499.8,279.1 499.4,269.3 505.2,275.5" fill="#A6E896" fill-opacity="0.25"/>
<polygon points="605.5,40.5 603.3,30.1 611.3,28.5" fill="#A6E896" fill-opacity="0.13"/>
<polygon points="364.1,381.4 367.6,365.3 376.1,361.1 384.4,359.8 378.6,376.3" fill="#F4FAB8" fill-opacity="0.34"/>
<polygon points="550.2,340.6 555.0,327.1 568.2,319.8 565.7,335.6" fill="#F4FAB8" fill-opacity="0.42"/>
<polygon points="445.3,326.2 433.6,316.2 431.1,311.1 434.4,303.3 446.6,319.6" fill="#A6E896" fill-opacity="0.26"/>
<polygon points="626.5,211.0 634.0,205.4 647.6,203.0 647.1,206.0 636.3,211.5" fill="#F4FAB8" fill-opacity="0.43"/>
<polygon points="588.7,329.3 589.4,321.6 596.0,316.9 599.1,316.3 596.2,325.2" fill="#A6E896" fill-opacity="0.14"/>
<polygon points="562.3,155.0 555.7,153.9 551.6,144.4 558.8,148.1" fill="#F4FAB8" fill-opacity="0.38"/>
<polygon points="405.0,274.0 408.2,267.3 425.7,255.7 429.5,263.5 417.4,273.9" fill="#A6E896" fill-opacity="0.18"/>
<polygon points="401.6,217.4 390.2,219.7 376.3,213.9 389.5,208.3" fill="#A6E896" fill-opacity="0.28"/>
<polygon points="394.3,222.0 379.0,218.6 379.6,209.2" fill="#A6E896" fill-opacity="0.31"/>
<polygon points="325.6,332.5 316.3,334.0 313.8,327.8 312.7,323.7 324.9,326.5" fill="#F4FAB8" fill-opacity="0.46"/>
<polygon points="540.5,253.0 542.1,245.2 556.9,236.4 556.6,245.3" fill="#A6E896" fill-opacity="0.21"/>
<polygon points="355.8,123.9 357.5,116.1 360.2,114.9 361.7,120.5" fill="#A6E896" fill-opacity="0.31"/>
<polygon points="511.9,54.3 510.2,48.4 521.5,41.9 522.5,44.4 519.5,50.8" fill="#A6E896" fill-opacity="0.23"/>
<polygon points="525.0,104.9 519.2,106.2 512.8,100.9 508.8,95.1 517.5,98.9" fill="#F4FAB8" fill-opacity="0.26"/>
<polygon points="555.5,121.2 538.9,119.0 527.1,102.5 547.9,107.4" fill="#F4FAB8" fill-opacity="0.34"/>
<polygon points="523.2,252.5 535.5,233.7 543.9,237.8" fill="#F4FAB8" fill-opacity="0.38"/>
<polygon points="276.2,267.1 277.4,248.9 291.0,252.4" fill="#F4FAB8" fill-opacity="0.33"/>
<polygon points="242.1,330.8 217.9,322.2 225.5,312.7" fill="#A6E896" fill-opacity="0.46"/>
<polygon points="360.3,282.2 369.3,275.5 384.1,277.9 364.4,286.9" fill="#A6E896" fill-opacity="0.28"/>
<polygon points="441.6,417.1 423.2,416.0 428.5,403.7" fill="#A6E896" fill-opacity="0.27"/>
<polygon points="612.3,43.0 611.6,36.0 633.9,31.3 627.9,39.2 618.0,42.9" fill="#A6E896" fill-opacity="0.12"/>
<polygon points="411.2,346.7 395.5,344.0 389.8,333.5 402.2,334.5" fill="#A6E896" fill-opacity="0.25"/>
<polygon points="404.5,110.6 395.3,112.9 391.3,106.3" fill="#A6E896" fill-opacity="0.15"/>
<polygon points="322.6,362.0 304.3,352.8 310.3,346.6" fill="#A6E896" fill-opacity="0.43"/>
<polygon points="560.2,422.5 560.3,413.6 566.1,406.2 567.6,414.2" fill="#A6E896" fill-opacity="0.18"/>
<polygon points="539.2,451.2 547.9,446.7 562.7,451.3 541.9,456.5" fill="#A6E896" fill-opacity="0.16"/>
<polygon points="287.7,318.9 287.4,304.6 293.1,298.6 294.3,309.4" fill="#F4FAB8" fill-opacity="0.48"/>
<polygon points="415.8,263.1 429.7,256.1 429.0,264.1" fill="#A6E896" fill-opacity="0.26"/>
<polygon points="280.7,64.7 260.2,44.6 274.2,33.8" fill="#A6E896" fill-opacity="0.33"/>
<polygon points="380.1,288.5 376.0,289.8 368.8,280.9 374.5,279.1 382.3,286.6" fill="#A6E896" fill-opacity="0.29"/>
<polygon points="541.7,446.3 532.0,440.9 532.4,431.0 536.8,430.1 545.4,440.6" fill="#F4FAB8" fill-opacity="0.47"/>
<polygon points="454.3,271.9 438.4,273.6 432.4,265.7 436.6,261.6" fill="#A6E896" fill-opacity="0.28"/>
<polygon points="230.3,257.7 225.5,248.4 231.7,240.1" fill="#F4FAB8" fill-opacity="0.30"/>
<polygon points="650.5,73.0 625.3,55.6 637.3,52.2" fill="#F4FAB8" fill-opacity="0.26"/>
<polygon points="567.5,254.1 560.2,239.5 568.7,239.9" fill="#A6E896" fill-opacity="0.18"/>
<polygon points="644.5,237.7 657.7,229.8 657.0,235.7" fill="#A6E896" fill-opacity="0.10"/>
<polygon points="266.9,230.1 268.7,225.1 286.2,215.6 273.9,230.0" fill="#A6E896" fill-opacity="0.25"/>
<polygon points="611.2,236.8 606.7,226.3 609.6,217.6 618.3,233.5" fill="#F4FAB8" fill-opacity="0.44"/>
<polygon points="239.6,74.4 229.4,74.9 228.8,71.0 231.4,68.2" fill="#F4FAB8" fill-opacity="0.41"/>
<polygon points="322.8,348.5 309.4,338.5 306.4,329.7 317.6,332.9" fill="#A6E896" fill-opacity="0.19"/>
<polygon points="295.5,213.6 278.1,211.2 280.8,196.7" fill="#A6E896" fill-opacity="0.25"/>
<polygon points="546.6,116.0 541.6,102.3 550.6,95.0" fill="#F4FAB8" fill-opacity="0.43"/>
<polygon points="268.5,93.7 267.8,88.2 275.0,86.4 274.0,91.0" fill="#F4FAB8" fill-opacity="0.28"/>
<polygon points="552.1,305.7 547.6,302.5 546.6,293.0 547.7,290.2 553.8,298.1" fill="#A6E896" fill-opacity="0.25"/>
<polygon points="499.4,197.7 485.8,190.6 492.3,181.4" fill="#A6E896" fill-opacity="0.22"/>
<polygon points="431.9,312.0 428.4,288.1 441.7,280.5" fill="#A6E896" fill-opacity="0.27"/>
<polygon points="647.7,353.4 634.9,355.9 611.1,340.8 622.5,337.9 633.9,340.3" fill="#A6E896" fill-opacity="0.10"/>
<polygon points="363.4,380.0 372.9,362.5 384.8,359.4 377.9,370.9" fill="#F4FAB8" fill-opacity="0.40"/>
<polygon points="569.7,462.4 561.3,463.4 555.9,457.1 558.2,454.4 562.4,453.9" fill="#A6E896" fill-opacity="0.15"/>
<polygon points="418.4,437.8 424.7,426.1 439.4,425.6 435.0,435.0" fill="#A6E896" fill-opacity="0.23"/>
<polygon points="650.4,101.7 640.8,93.8 644.9,89.2 650.9,95.2" fill="#F4FAB8" fill-opacity="0.44"/>
<polygon points="339.4,146.5 324.9,141.6 321.5,128.8 332.3,136.5" fill="#F4FAB8" fill-opacity="0.34"/>
<polygon points="284.9,136.7 301.5,126.9 301.1,139.6" fill="#F4FAB8" fill-opacity="0.36"/>
<polygon points="511.2,218.0 504.7,209.1 500.3,194.6 506.8,196.3 517.4,214.8" fill="#A6E896" fill-opacity="0.27"/>
<polygon points="491.1,33.4 487.1,24.2 490.2,18.9 494.7,22.7" fill="#F4FAB8" fill-opacity="0.43"/>
<polygon points="484.2,167.1 484.9,156.2 489.4,154.3 490.7,159.4" fill="#A6E896" fill-opacity="0.38"/>
<polygon points="504.0,424.5 513.3,416.0 521.6,415.9 517.4,420.1" fill="#A6E896" fill-opacity="0.18"/>
<polygon points="423.2,147.9 432.0,141.6 434.4,145.7" fill="#A6E896" fill-opacity="0.21"/>
<polygon points="304.3,360.4 306.6,354.6 319.4,349.5 320.9,352.4 316.5,359.2" fill="#A6E896" fill-opacity="0.27"/>
<polygon points="505.7,434.6 497.2,434.0 490.9,426.3 505.2,426.1" fill="#F4FAB8" fill-opacity="0.41"/>
<polygon points="247.9,223.1 242.5,218.6 251.3,210.1 252.4,219.9" fill="#F4FAB8" fill-opacity="0.26"/>
<polygon points="583.3,380.7 583.9,373.9 593.8,367.7 595.4,369.0 591.9,374.9" fill="#F4FAB8" fill-opacity="0.32"/>
<polygon points="489.3,466.3 472.8,462.5 472.7,451.5 484.2,451.7" fill="#F4FAB8" fill-opacity="0.42"/>
<polygon points="544.9,163.5 537.6,155.5 540.8,142.1 545.5,148.1" fill="#A6E896" fill-opacity="0.29"/>
<polygon points="643.8,70.7 644.0,54.6 654.0,47.0 653.1,61.1" fill="#A6E896" fill-opacity="0.10"/>
<polygon points="270.0,423.1 260.7,419.9 264.9,416.0" fill="#F4FAB8" fill-opacity="0.41"/>
<polygon points="637.4,132.5 629.0,133.5 616.0,128.4 631.7,127.4" fill="#A6E896" fill-opacity="0.11"/>
<polygon points="384.1,463.6 364.8,468.2 355.9,461.9 375.3,456.3" fill="#A6E896" fill-opacity="0.24"/>
<polygon points="234.8,189.5 227.4,194.9 219.7,188.6 228.6,187.0" fill="#F4FAB8" fill-opacity="0.31"/>
<polygon points="575.1,205.5 572.5,199.6 591.5,188.3 586.9,199.9" fill="#A6E896" fill-opacity="0.21"/>
<polygon points="347.5,441.2 345.3,440.7 335.1,434.3 340.3,433.6 348.8,434.5" fill="#A6E896" fill-opacity="0.21"/>
<polygon points="596.4,68.9 592.4,64.8 590.2,52.6 595.1,49.1 598.3,60.7" fill="#A6E896" fill-opacity="0.20"/>
<polygon points="221.2,206.3 229.8,203.0 241.4,205.4 227.6,208.9" fill="#A6E896" fill-opacity="0.26"/>
<polygon points="315.2,452.6 298.5,456.3 302.9,447.6" fill="#F4FAB8" fill-opacity="0.44"/>
<polygon points="534.2,310.0 537.6,290.3 546.6,284.2 544.1,299.8" fill="#A6E896" fill-opacity="0.29"/>
<polygon points="614.4,184.0 608.1,175.2 615.6,163.1 622.7,174.1" fill="#F4FAB8" fill-opacity="0.44"/>
<polygon points="362.3,443.7 377.2,431.4 383.3,439.7" fill="#A6E896" fill-opacity="0.26"/>
<polygon points="482.3,287.3 477.2,289.7 473.0,288.8 467.5,285.3 481.0,283.8" fill="#A6E896" fill-opacity="0.33"/>
<polygon points="533.5,302.3 530.1,294.4 533.8,283.9 536.7,292.7" fill="#A6E896" fill-opacity="0.22"/>
<polygon points="273.2,291.4 269.1,280.7 273.0,271.2 274.8,283.1" fill="#F4FAB8" fill-opacity="0.31"/>
<polygon points="388.0,331.9 378.2,319.9 383.5,315.7" fill="#F4FAB8" fill-opacity="0.39"/>
<polygon points="310.5,448.9 310.3,445.8 318.3,441.8 322.1,445.1 316.3,450.1" fill="#A6E896" fill-opacity="0.36"/>
<polygon points="353.8,462.3 358.4,459.8 362.9,463.2" fill="#A6E896" fill-opacity="0.23"/>
<polygon points="561.3,251.6 556.1,257.3 539.0,248.4 545.2,243.2 558.0,246.0" fill="#A6E896" fill-opacity="0.18"/>
<polygon points="416.0,31.1 395.5,26.4 403.6,21.5" fill="#A6E896" fill-opacity="0.21"/>
<polygon points="269.0,174.1 267.2,159.8 273.8,162.9" fill="#A6E896" fill-opacity="0.16"/>
<polygon points="541.7,60.7 538.1,56.4 543.2,47.5 548.0,51.5 543.9,64.1" fill="#F4FAB8" fill-opacity="0.48"/>
<polygon points="355.2,274.7 351.6,247.6 358.8,255.6" fill="#F4FAB8" fill-opacity="0.45"/>
<polygon points="265.8,200.5 260.8,201.4 255.7,196.4 258.9,194.9" fill="#F4FAB8" fill-opacity="0.41"/>
<polygon points="389.5,464.7 380.8,457.9 381.1,453.3 388.1,455.9" fill="#A6E896" fill-opacity="0.32"/>
<polygon points="485.2,404.4 484.2,395.9 485.7,391.9 489.3,387.5 490.0,400.7" fill="#F4FAB8" fill-opacity="0.46"/>
<polygon points="260.2,322.0 253.2,327.7 236.2,325.3 239.1,320.2 250.1,317.8" fill="#F4FAB8" fill-opacity="0.43"/>
<polygon points="661.6,107.1 649.2,113.3 641.1,111.7 643.1,103.7 650.8,104.3" fill="#F4FAB8" fill-opacity="0.38"/>
<polygon points="418.6,407.0 410.6,398.4 407.8,391.1 414.9,392.1" fill="#F4FAB8" fill-opacity="0.43"/>
<polygon points="374.7,318.8 366.5,311.2 368.7,306.5" fill="#A6E896" fill-opacity="0.26"/>
<polygon points="418.7,166.8 410.6,163.0 406.3,150.1 414.2,155.4" fill="#A6E896" fill-opacity="0.18"/>
<polygon points="547.3,240.2 555.2,228.5 561.1,237.4" fill="#F4FAB8" fill-opacity="0.45"/>
<polygon points="597.1,296.9 589.0,278.2 597.2,279.5" fill="#F4FAB8" fill-opacity="0.43"/>
<polygon points="396.5,124.1 387.7,125.7 377.2,123.3 371.3,118.2 391.1,116.0" fill="#A6E896" fill-opacity="0.23"/>
<polygon points="661.3,313.5 657.2,302.3 667.8,303.9" fill="#F4FAB8" fill-opacity="0.38"/>
<polygon points="265.5,419.9 241.8,425.5 238.5,413.2" fill="#F4FAB8" fill-opacity="0.32"/>
<polygon points="546.2,435.8 542.0,419.7 552.0,411.6" fill="#A6E896" fill-opacity="0.23"/>
<polygon points="598.8,330.9 587.8,330.6 583.6,322.9 588.1,320.2" fill="#A6E896" fill-opacity="0.25"/>
<polygon points="358.2,253.7 353.8,247.9 367.9,234.0 365.3,247.4" fill="#A6E896" fill-opacity="0.24"/>
<polygon points="491.7,102.6 478.4,74.7 492.9,80.8" fill="#F4FAB8" fill-opacity="0.29"/>
<polygon points="561.3,255.2 560.1,243.0 567.9,244.5" fill="#A6E896" fill-opacity="0.12"/>
<polygon points="526.6,266.5 525.6,270.0 506.9,262.2 514.1,255.0 523.7,260.3" fill="#F4FAB8" fill-opacity="0.47"/>
<polygon points="443.8,112.2 451.6,106.6 463.6,105.1 461.0,112.5 450.2,114.2" fill="#A6E896" fill-opacity="0.33"/>
<polygon points="643.5,391.8 636.5,396.9 624.0,392.5 640.3,386.0" fill="#A6E896" fill-opacity="0.14"/>
<polygon points="311.3,393.5 306.4,395.5 300.4,391.6 295.7,387.6 307.2,387.3" fill="#A6E896" fill-opacity="0.35"/>
<polygon points="644.9,75.3 639.7,75.9 631.9,68.2 635.9,65.9 643.4,71.5" fill="#A6E896" fill-opacity="0.14"/>
<polygon points="289.6,143.9 286.2,139.6 285.8,135.4 290.6,133.2 292.5,137.7" fill="#A6E896" fill-opacity="0.22"/>
<polygon points="485.1,170.1 489.3,165.6 504.2,163.1 507.5,170.5 497.0,175.4" fill="#F4FAB8" fill-opacity="0.30"/>
<polygon points="490.9,225.1 486.4,213.4 493.4,210.6" fill="#F4FAB8" fill-opacity="0.29"/>
<polygon points="596.6,131.9 585.8,133.0 588.4,127.5" fill="#F4FAB8" fill-opacity="0.46"/>
<polygon points="666.2,311.4 654.8,310.3 644.7,303.5 645.1,299.2 657.9,301.3" fill="#A6E896" fill-opacity="0.15"/>
<polygon points="541.4,277.6 536.2,270.5 540.8,255.2 547.0,261.6 544.1,272.5" fill="#F4FAB8" fill-opacity="0.50"/>
<polygon points="377.8,68.4 373.7,69.6 354.4,63.8 363.6,60.8 375.8,60.2" fill="#F4FAB8" fill-opacity="0.31"/>
<polygon points="555.1,49.2 575.9,38.4 585.2,40.3 571.3,48.1" fill="#F4FAB8" fill-opacity="0.38"/>
<polygon points="239.3,365.5 237.0,359.2 249.7,344.1 253.6,350.7 251.0,359.1" fill="#F4FAB8" fill-opacity="0.26"/>
<polygon points="227.0,466.9 233.8,454.5 236.7,460.0" fill="#A6E896" fill-opacity="0.43"/>
<polygon points="467.5,117.0 470.5,104.0 482.4,95.7 480.1,104.1 474.9,112.1" fill="#A6E896" fill-opacity="0.30"/>
<polygon points="591.5,59.0 594.8,48.7 608.0,48.6 606.0,54.5 597.3,61.3" fill="#F4FAB8" fill-opacity="0.28"/>
<polygon points="244.9,296.1 241.3,291.9 262.2,288.3 260.8,294.7 248.6,303.1" fill="#A6E896" fill-opacity="0.33"/>
<polygon points="262.6,465.2 243.2,466.1 232.8,456.7 228.5,446.4 249.6,454.8" fill="#F4FAB8" fill-opacity="0.50"/>
<polygon points="506.1,412.3 500.9,402.7 505.3,397.1" fill="#F4FAB8" fill-opacity="0.39"/>
<polygon points="324.4,48.9 318.7,48.0 316.1,45.5 318.6,42.9" fill="#F4FAB8" fill-opacity="0.27"/>
<polygon points="501.2,232.2 506.4,229.0 511.2,226.4 515.9,228.3 508.6,232.0" fill="#A6E896" fill-opacity="0.14"/>
<polygon points="498.3,284.0 504.6,271.7 511.4,284.3" fill="#F4FAB8" fill-opacity="0.39"/>
<polygon points="607.8,204.7 611.8,197.6 634.1,192.3 632.0,201.0 619.5,205.9" fill="#F4FAB8" fill-opacity="0.47"/>
<polygon points="570.0,317.3 575.7,308.1 577.6,312.9" fill="#F4FAB8" fill-opacity="0.43"/>
<polygon points="339.6,452.2 337.5,448.3 338.7,437.5 343.4,436.8 342.7,445.0" fill="#A6E896" fill-opacity="0.41"/>
<polygon points="543.4,298.1 553.5,278.6 557.0,284.5" fill="#F4FAB8" fill-opacity="0.45"/>
<polygon points="508.7,236.5 507.7,234.9 518.0,229.9 521.6,231.4 514.5,237.7" fill="#A6E896" fill-opacity="0.14"/>
<polygon points="306.9,403.5 309.4,399.2 321.3,393.3 313.2,403.3" fill="#A6E896" fill-opacity="0.28"/>
<polygon points="653.9,193.4 650.2,189.0 650.6,178.8 656.7,187.3" fill="#A6E896" fill-opacity="0.15"/>
<polygon points="372.8,282.9 372.2,286.9 363.5,279.2 364.7,276.8 370.6,277.0" fill="#A6E896" fill-opacity="0.31"/>
<polygon points="519.2,87.8 504.3,91.7 511.5,83.8" fill="#A6E896" fill-opacity="0.39"/>
<polygon points="284.6,260.2 281.8,263.4 275.2,257.2 275.4,252.6 281.9,256.5" fill="#F4FAB8" fill-opacity="0.47"/>
<polygon points="363.2,126.5 343.3,111.4 356.6,113.8" fill="#F4FAB8" fill-opacity="0.31"/>
<polygon points="571.0,37.8 563.5,15.9 578.2,17.7" fill="#A6E896" fill-opacity="0.20"/>
<polygon points="360.9,147.3 354.3,148.6 349.5,143.2 353.2,141.0" fill="#F4FAB8" fill-opacity="0.40"/>
<polygon points="661.5,240.0 651.2,235.3 633.1,218.9 640.7,213.3 657.1,224.2" fill="#F4FAB8" fill-opacity="0.46"/>
<polygon points="456.3,449.1 454.2,432.2 461.0,433.7" fill="#A6E896" fill-opacity="0.18"/>
<polygon points="487.3,83.5 488.8,77.9 495.6,74.6 493.4,80.8" fill="#A6E896" fill-opacity="0.29"/>
<polygon points="275.0,49.2 266.2,47.2 265.2,41.5 264.7,35.0 272.7,43.3" fill="#F4FAB8" fill-opacity="0.36"/>
<polygon points="286.0,228.0 286.3,218.5 292.8,214.1 298.1,217.2 293.4,223.8" fill="#A6E896" fill-opacity="0.23"/>
<polygon points="543.6,58.8 548.7,45.0 562.5,41.7 555.1,55.3" fill="#A6E896" fill-opacity="0.25"/>
<polygon points="473.6,105.8 465.6,99.0 463.2,90.4 471.3,94.5" fill="#A6E896" fill-opacity="0.25"/>
<polygon points="642.5,382.0 638.7,372.3 641.7,363.3 643.4,369.7" fill="#F4FAB8" fill-opacity="0.30"/>
<polygon points="293.4,287.6 287.8,282.5 291.1,270.0 295.9,274.3" fill="#A6E896" fill-opacity="0.22"/>
<polygon points="654.9,240.0 652.1,230.2 654.9,223.6 656.0,229.6" fill="#A6E896" fill-opacity="0.14"/>
<polygon points="429.9,366.7 424.8,351.5 432.1,351.4" fill="#A6E896" fill-opacity="0.26"/>
<polygon points="508.6,207.6 513.5,201.1 521.6,201.3 524.2,203.3 514.3,208.9" fill="#F4FAB8" fill-opacity="0.40"/>
<polygon points="575.1,94.5 567.2,93.6 557.3,86.7 569.0,86.3" fill="#F4FAB8" fill-opacity="0.33"/>
<polygon points="418.7,265.6 415.9,260.5 423.9,249.2 426.4,256.2 422.3,262.8" fill="#F4FAB8" fill-opacity="0.36"/>
<polygon points="444.3,350.8 437.3,329.0 443.1,322.9 451.6,334.9" fill="#F4FAB8" fill-opacity="0.45"/>
<polygon points="314.5,123.6 298.4,116.7 293.0,102.4 309.6,111.3" fill="#F4FAB8" fill-opacity="0.34"/>
<polygon points="469.3,177.7 468.5,182.4 453.2,177.0 452.8,167.3 473.4,170.8" fill="#F4FAB8" fill-opacity="0.47"/>
<polygon points="611.7,66.4 607.3,74.7 583.7,63.0 592.7,58.0 608.7,61.5" fill="#A6E896" fill-opacity="0.19"/>
<polygon points="229.0,109.5 224.6,102.4 227.8,96.0 230.6,96.3 231.0,108.4" fill="#F4FAB8" fill-opacity="0.49"/>
<polygon points="563.2,470.1 563.3,455.9 569.9,459.2" fill="#F4FAB8" fill-opacity="0.30"/>
<polygon points="415.8,328.7 409.7,332.8 401.2,327.0 405.5,321.2 417.1,323.9" fill="#F4FAB8" fill-opacity="0.33"/>
<polygon points="568.1,168.9 563.4,149.9 573.9,154.3" fill="#A6E896" fill-opacity="0.16"/>
<polygon points="274.6,145.3 274.4,135.3 281.2,130.0 286.3,134.5 280.6,145.9" fill="#A6E896" fill-opacity="0.23"/>
<polygon points="591.7,61.6 590.0,56.1 601.3,46.9 604.0,50.2 595.6,61.0" fill="#F4FAB8" fill-opacity="0.28"/>
<polygon points="518.3,176.6 514.7,167.8 516.4,161.3 521.0,158.0 522.5,173.6" fill="#F4FAB8" fill-opacity="0.31"/>
<polygon points="248.3,147.7 227.1,141.8 224.2,125.8" fill="#A6E896" fill-opacity="0.32"/>
<polygon points="270.7,306.4 271.4,297.3 281.4,290.2 280.1,298.1" fill="#F4FAB8" fill-opacity="0.37"/>
<polygon points="474.2,170.5 471.3,160.9 478.0,152.1 477.9,166.7" fill="#A6E896" fill-opacity="0.29"/>
<polygon points="616.6,207.3 610.4,194.4 614.7,185.2 622.3,193.1" fill="#F4FAB8" fill-opacity="0.40"/>
<polygon points="516.0,421.5 516.3,417.1 536.1,407.9 538.8,413.8 529.8,422.5" fill="#F4FAB8" fill-opacity="0.47"/>
<polygon points="394.1,267.1 383.7,266.1 372.3,257.7 372.7,252.7 385.7,258.3" fill="#A6E896" fill-opacity="0.21"/>
<polygon points="597.5,250.6 590.8,224.6 601.1,228.2" fill="#F4FAB8" fill-opacity="0.39"/>
<polygon points="631.2,322.4 639.6,305.3 646.0,312.3" fill="#F4FAB8" fill-opacity="0.48"/>
<polygon points="373.1,449.0 364.7,447.4 358.5,431.6 367.7,425.2 372.8,435.7" fill="#A6E896" fill-opacity="0.32"/>
<polygon points="527.3,149.8 517.7,147.9 509.3,131.2 518.9,135.6" fill="#F4FAB8" fill-opacity="0.32"/>
<polygon points="616.8,366.6 610.3,362.9 601.2,355.3 607.2,350.5 614.5,359.8" fill="#F4FAB8" fill-opacity="0.40"/>
<polygon points="293.2,100.5 298.8,92.5 311.2,89.6 313.2,90.9 307.9,100.2" fill="#A6E896" fill-opacity="0.17"/>
<polygon points="668.5,197.5 663.2,198.6 652.5,185.9 669.7,190.4" fill="#F4FAB8" fill-opacity="0.34"/>
<polygon points="322.5,118.9 314.6,121.7 297.0,114.3 298.3,107.5 316.1,114.0" fill="#F4FAB8" fill-opacity="0.47"/>
<polygon points="518.5,287.5 501.7,264.6 516.1,267.1" fill="#A6E896" fill-opacity="0.31"/>
<polygon points="337.9,252.4 345.4,243.3 356.7,237.4 362.2,242.0 346.2,252.2" fill="#F4FAB8" fill-opacity="0.44"/>
<polygon points="480.8,354.2 470.8,344.5 476.1,338.7" fill="#F4FAB8" fill-opacity="0.26"/>
<polygon points="438.9,92.4 440.6,74.5 450.7,75.6" fill="#A6E896" fill-opacity="0.29"/>
<polygon points="287.4,400.4 281.8,386.5 289.8,373.1 294.9,375.5 293.9,394.7" fill="#F4FAB8" fill-opacity="0.48"/>
<polygon points="424.7,54.8 428.1,41.4 434.7,35.0 434.5,45.4" fill="#A6E896" fill-opacity="0.34"/>
<polygon points="514.5,103.3 529.0,97.6 552.1,97.4 531.7,108.6" fill="#A6E896" fill-opacity="0.24"/>
<polygon points="560.1,79.1 553.8,73.3 554.0,67.6 558.4,68.9" fill="#A6E896" fill-opacity="0.17"/>
<polygon points="309.3,307.7 308.2,297.6 313.6,287.6 323.1,285.2 317.7,303.5" fill="#F4FAB8" fill-opacity="0.39"/>
<polygon points="595.0,309.7 584.0,311.0 577.5,290.4 594.3,299.0" fill="#F4FAB8" fill-opacity="0.31"/>
<polygon points="463.5,425.5 473.5,413.2 484.8,411.0 493.5,413.3 477.1,425.8" fill="#A6E896" fill-opacity="0.19"/>
<polygon points="282.5,348.3 273.1,341.6 272.5,333.7 280.2,338.5" fill="#A6E896" fill-opacity="0.39"/>
<polygon points="620.3,56.7 615.2,46.6 615.3,42.6 622.1,48.6" fill="#F4FAB8" fill-opacity="0.27"/>
<polygon points="465.1,263.1 467.9,238.8 481.2,245.9" fill="#A6E896" fill-opacity="0.32"/>
<polygon points="294.4,38.8 301.7,25.3 305.0,34.9" fill="#A6E896" fill-opacity="0.33"/>
<polygon points="526.7,292.0 533.7,286.9 537.8,290.0" fill="#F4FAB8" fill-opacity="0.27"/>
<polygon points="350.9,130.0 353.7,113.9 374.0,100.6 364.4,117.0" fill="#A6E896" fill-opacity="0.23"/>
<polygon points="538.2,92.0 543.6,76.7 547.1,83.5" fill="#A6E896" fill-opacity="0.33"/>
<polygon points="246.9,468.4 243.5,463.5 246.9,455.3 251.6,458.4" fill="#F4FAB8" fill-opacity="0.44"/>
<polygon points="471.0,467.5 452.3,466.2 440.4,447.2 457.9,454.7" fill="#F4FAB8" fill-opacity="0.37"/>
<polygon points="595.2,124.4 584.8,106.5 590.8,105.0" fill="#A6E896" fill-opacity="0.19"/>
<polygon points="310.2,300.7 305.1,303.0 303.5,296.2 301.9,288.2 309.5,294.2" fill="#A6E896" fill-opacity="0.34"/>
<polygon points="604.0,457.8 601.8,452.4 599.5,435.4 606.4,435.4 607.4,448.2" fill="#A6E896" fill-opacity="0.13"/>
<polygon points="664.3,228.0 648.7,236.3 637.6,226.7 654.8,224.1" fill="#F4FAB8" fill-opacity="0.38"/>
<polygon points="662.8,150.0 642.8,155.8 644.1,148.7" fill="#F4FAB8" fill-opacity="0.41"/>
<polygon points="402.1,393.5 398.9,387.0 401.5,379.4 403.8,387.9" fill="#A6E896" fill-opacity="0.20"/>
<polygon points="394.9,395.5 405.2,381.6 407.8,389.9" fill="#A6E896" fill-opacity="0.29"/>
<polygon points="605.8,85.5 581.1,88.9 567.2,82.6 591.1,76.8" fill="#F4FAB8" fill-opacity="0.36"/>
<polygon points="561.6,109.9 549.2,100.8 546.1,90.7 558.8,95.9" fill="#A6E896" fill-opacity="0.26"/>
<polygon points="243.7,282.6 241.0,273.8 259.5,261.6 253.5,280.4" fill="#A6E896" fill-opacity="0.45"/>
<polygon points="542.0,456.9 532.4,440.6 536.6,424.6 546.0,439.6" fill="#A6E896" fill-opacity="0.20"/>
<polygon points="257.3,307.1 270.7,296.7 270.7,303.8" fill="#F4FAB8" fill-opacity="0.44"/>
<polygon points="241.6,260.5 233.7,262.1 219.3,260.6 221.4,252.5 233.7,251.4" fill="#A6E896" fill-opacity="0.36"/>
<polygon points="234.4,373.0 233.4,362.1 239.3,354.8 243.4,358.9" fill="#A6E896" fill-opacity="0.52"/>
<polygon points="490.7,317.8 501.3,307.1 503.2,312.5" fill="#F4FAB8" fill-opacity="0.26"/>
<polygon points="512.1,146.8 505.8,144.9 505.0,141.2 509.7,143.7" fill="#A6E896" fill-opacity="0.35"/>
<polygon points="591.8,391.1 596.8,387.0 602.7,389.9 605.3,392.8 597.9,393.7" fill="#F4FAB8" fill-opacity="0.29"/>
<polygon points="267.0,233.6 264.0,225.7 268.2,214.5 269.0,223.8" fill="#A6E896" fill-opacity="0.17"/>
<polygon points="467.4,130.8 465.4,106.9 480.9,106.3" fill="#A6E896" fill-opacity="0.28"/>
<polygon points="605.3,189.5 591.1,189.3 577.9,184.2 580.6,178.4 600.7,179.7" fill="#A6E896" fill-opacity="0.14"/>
<polygon points="599.8,42.9 600.3,37.8 607.9,33.3 608.0,40.3" fill="#A6E896" fill-opacity="0.18"/>
<polygon points="393.3,224.0 382.8,213.9 390.7,204.2" fill="#F4FAB8" fill-opacity="0.30"/>
<polygon points="562.0,257.5 569.8,245.3 592.7,249.3 579.8,260.0" fill="#A6E896" fill-opacity="0.17"/>
<polygon points="386.2,303.0 388.2,291.5 406.3,294.7 393.2,306.1" fill="#A6E896" fill-opacity="0.15"/>
<polygon points="544.0,227.3 548.5,213.2 564.3,197.0 567.7,203.3 557.7,220.4" fill="#A6E896" fill-opacity="0.21"/>
<polygon points="290.3,96.1 284.3,95.6 285.1,89.6" fill="#F4FAB8" fill-opacity="0.34"/>
<polygon points="486.9,290.6 463.1,281.0 472.3,273.3" fill="#F4FAB8" fill-opacity="0.35"/>
<polygon points="272.4,148.5 267.7,135.2 269.3,122.7 276.9,130.3" fill="#A6E896" fill-opacity="0.26"/>
<polygon points="480.4,300.1 480.7,283.0 490.7,279.2" fill="#A6E896" fill-opacity="0.16"/>
<polygon points="254.0,34.7 248.8,30.4 257.9,10.5 262.3,12.8 259.3,26.1" fill="#F4FAB8" fill-opacity="0.48"/>
<polygon points="667.8,380.6 659.6,370.8 658.1,346.1 670.7,364.9" fill="#A6E896" fill-opacity="0.13"/>
<polygon points="265.1,420.6 268.5,414.5 277.5,406.5 279.6,410.4 274.4,420.9" fill="#A6E896" fill-opacity="0.39"/>
<polygon points="488.4,92.8 474.9,92.7 465.6,81.6 479.1,81.0" fill="#A6E896" fill-opacity="0.29"/>
<polygon points="644.5,463.1 649.1,448.4 654.2,451.2" fill="#A6E896" fill-opacity="0.14"/>
<polygon points="294.4,297.0 284.0,284.1 289.0,274.1 294.0,281.8" fill="#F4FAB8" fill-opacity="0.26"/>
<polygon points="577.2,452.7 564.0,457.8 562.8,450.2" fill="#A6E896" fill-opacity="0.16"/>
<polygon points="640.6,287.0 617.3,273.4 624.9,269.9" fill="#F4FAB8" fill-opacity="0.48"/>
<polygon points="264.0,242.7 271.4,239.4 284.1,240.3 284.9,243.8 271.7,247.0" fill="#F4FAB8" fill-opacity="0.43"/>
<polygon points="362.1,395.1 354.6,379.2 361.5,355.4 370.1,374.9" fill="#F4FAB8" fill-opacity="0.27"/>
<polygon points="217.8,391.2 232.2,381.1 242.5,391.4 229.4,394.3" fill="#F4FAB8" fill-opacity="0.41"/>
<polygon points="628.0,244.1 621.6,236.5 618.1,226.0 621.1,225.3 630.1,238.9" fill="#A6E896" fill-opacity="0.19"/>
<polygon points="481.7,371.6 478.6,358.0 477.6,348.7 485.5,351.1 488.3,359.8" fill="#F4FAB8" fill-opacity="0.47"/>
<polygon points="232.2,254.4 225.6,256.0 218.8,250.8 221.8,246.4 231.8,249.6" fill="#A6E896" fill-opacity="0.22"/>
<polygon points="488.8,93.4 473.9,90.5 474.6,85.2" fill="#A6E896" fill-opacity="0.33"/>
<polygon points="508.3,388.0 490.6,377.4 497.1,373.0" fill="#A6E896" fill-opacity="0.24"/>
<polygon points="621.1,91.3 602.9,87.8 606.3,77.2" fill="#F4FAB8" fill-opacity="0.46"/>
<polygon points="213.2,468.0 232.3,456.1 233.2,463.5" fill="#F4FAB8" fill-opacity="0.44"/>
<polygon points="446.8,284.1 443.3,277.6 449.5,262.3 450.9,277.7" fill="#A6E896" fill-opacity="0.14"/>
<polygon points="527.7,146.4 535.4,131.3 540.8,140.0" fill="#A6E896" fill-opacity="0.37"/>
<polygon points="585.3,467.7 582.2,454.0 596.1,441.4 601.7,446.1 596.6,456.2" fill="#F4FAB8" fill-opacity="0.42"/>
<polygon points="245.1,250.6 255.3,244.4 272.0,242.9 271.8,247.7 252.5,253.3" fill="#F4FAB8" fill-opacity="0.36"/>
<polygon points="553.0,391.9 553.1,387.0 559.9,381.5 558.2,387.3" fill="#A6E896" fill-opacity="0.16"/>
<polygon points="292.2,401.8 289.2,383.8 300.7,387.6" fill="#A6E896" fill-opacity="0.29"/>
<polygon points="459.8,100.7 447.5,101.2 441.8,96.2 447.6,94.4" fill="#F4FAB8" fill-opacity="0.32"/>
<polygon points="303.7,41.4 306.0,26.5 313.4,36.2" fill="#F4FAB8" fill-opacity="0.34"/>
<polygon points="490.3,298.8 485.1,302.8 467.3,290.3 470.9,287.8 484.4,292.1" fill="#F4FAB8" fill-opacity="0.49"/>
<polygon points="415.2,72.5 409.3,62.9 409.7,48.2 419.0,61.1" fill="#F4FAB8" fill-opacity="0.40"/>
<polygon points="596.2,222.7 592.1,217.1 594.3,207.7 597.8,207.4 600.6,218.3" fill="#F4FAB8" fill-opacity="0.27"/>
<polygon points="469.4,225.6 457.9,219.8 455.3,213.1 461.0,207.6 465.3,214.9" fill="#F4FAB8" fill-opacity="0.37"/>
<polygon points="534.9,305.5 526.7,303.0 525.8,297.4 534.3,300.0" fill="#A6E896" fill-opacity="0.23"/>
<polygon points="337.6,342.4 332.3,341.0 327.0,335.3 334.0,335.2" fill="#F4FAB8" fill-opacity="0.27"/>
<polygon points="447.8,90.0 442.9,89.3 437.9,79.0 448.3,83.1" fill="#A6E896" fill-opacity="0.26"/>
<polygon points="302.0,63.9 299.4,66.4 290.0,62.9 294.2,59.2 301.5,59.2" fill="#F4FAB8" fill-opacity="0.47"/>
<polygon points="315.6,191.5 315.9,174.8 320.7,179.9" fill="#F4FAB8" fill-opacity="0.33"/>
<polygon points="516.4,262.5 509.9,256.0 520.4,236.3 523.9,252.3" fill="#A6E896" fill-opacity="0.26"/>
<polygon points="506.2,243.2 519.7,235.2 518.9,243.8" fill="#A6E896" fill-opacity="0.21"/>
<polygon points="260.6,116.9 254.3,109.0 252.0,96.2 262.7,108.9" fill="#A6E896" fill-opacity="0.36"/>
<polygon points="507.7,347.2 499.7,346.4 482.1,326.0 493.3,328.7 508.9,339.9" fill="#F4FAB8" fill-opacity="0.31"/>
<polygon points="326.3,194.4 321.5,194.4 327.1,182.6 329.8,180.1 328.4,191.3" fill="#A6E896" fill-opacity="0.15"/>
<polygon points="312.2,115.2 330.8,101.7 330.7,108.4" fill="#A6E896" fill-opacity="0.26"/>
<polygon points="559.8,430.3 552.0,418.6 551.5,411.6 559.7,420.9" fill="#A6E896" fill-opacity="0.21"/>
<polygon points="392.6,304.8 393.2,298.0 399.7,288.6 401.1,300.2" fill="#A6E896" fill-opacity="0.15"/>
<polygon points="509.6,413.0 502.6,410.5 520.4,395.9 528.5,400.9 517.6,411.0" fill="#A6E896" fill-opacity="0.28"/>
<polygon points="567.2,107.1 566.5,100.6 570.2,95.4 573.1,94.3 573.4,99.8" fill="#F4FAB8" fill-opacity="0.41"/>
<polygon points="328.3,298.2 324.9,293.4 330.9,282.3 333.7,291.1" fill="#A6E896" fill-opacity="0.27"/>
<polygon points="619.1,233.6 633.9,223.3 644.0,225.4 638.5,237.3" fill="#F4FAB8" fill-opacity="0.37"/>
<polygon points="321.8,59.6 327.8,49.7 330.2,55.2" fill="#A6E896" fill-opacity="0.27"/>
<polygon points="610.6,297.5 599.4,286.9 606.9,282.6" fill="#F4FAB8" fill-opacity="0.36"/>
<polygon points="457.8,165.9 451.4,163.3 445.0,154.5 454.3,155.0" fill="#F4FAB8" fill-opacity="0.39"/>
<polygon points="469.9,195.1 470.2,178.7 479.2,162.7 482.7,174.6" fill="#A6E896" fill-opacity="0.32"/>
<polygon points="543.8,434.3 548.5,423.7 554.9,428.1" fill="#A6E896" fill-opacity="0.20"/>
<polygon points="583.2,299.4 573.1,299.6 570.0,292.0 580.7,291.9" fill="#A6E896" fill-opacity="0.17"/>
<polygon points="313.2,335.0 318.7,316.9 323.7,323.8" fill="#A6E896" fill-opacity="0.31"/>
<polygon points="315.4,69.5 322.7,52.8 337.0,46.4 335.1,62.3" fill="#A6E896" fill-opacity="0.31"/>
<polygon points="650.3,135.8 646.7,132.5 658.4,117.8 662.1,122.8 656.5,133.4" fill="#A6E896" fill-opacity="0.17"/>
<polygon points="569.3,348.5 559.8,350.5 541.7,343.7 557.7,339.7" fill="#A6E896" fill-opacity="0.25"/>
<polygon points="560.9,183.8 559.1,172.4 564.1,163.6 564.4,177.7" fill="#F4FAB8" fill-opacity="0.48"/>
<polygon points="527.5,366.6 517.1,367.8 506.2,357.2 508.8,349.8 519.0,353.4" fill="#F4FAB8" fill-opacity="0.29"/>
<polygon points="571.0,415.6 579.3,407.4 594.2,403.4 596.6,409.5 582.9,415.0" fill="#A6E896" fill-opacity="0.14"/>
<polygon points="452.7,87.6 444.4,59.1 454.7,67.3" fill="#A6E896" fill-opacity="0.27"/>
<polygon points="439.3,37.2 439.8,23.7 446.7,22.0" fill="#A6E896" fill-opacity="0.17"/>
<polygon points="379.6,200.1 375.8,204.5 366.2,201.6 363.9,196.0 379.4,195.8" fill="#F4FAB8" fill-opacity="0.37"/>
<polygon points="504.6,392.4 479.7,390.2 480.9,379.7" fill="#A6E896" fill-opacity="0.18"/>
<polygon points="273.5,284.0 273.0,265.9 282.7,255.2 282.3,273.8" fill="#F4FAB8" fill-opacity="0.29"/>
<polygon points="241.4,445.3 233.6,440.4 236.6,436.1" fill="#A6E896" fill-opacity="0.41"/>
<polygon points="368.4,308.0 375.0,296.2 383.3,292.7 377.8,304.8" fill="#F4FAB8" fill-opacity="0.29"/>
<polygon points="667.5,405.0 657.8,401.1 649.9,383.4 664.6,394.6" fill="#F4FAB8" fill-opacity="0.37"/>
<polygon points="260.7,83.7 259.8,79.9 277.4,78.8 275.8,88.0 258.8,89.7" fill="#F4FAB8" fill-opacity="0.47"/>
<polygon points="259.1,51.8 259.6,46.6 267.8,42.0 274.4,44.4 267.7,49.6" fill="#F4FAB8" fill-opacity="0.38"/>
<polygon points="435.7,394.7 430.6,382.3 434.8,375.9 441.9,371.5 440.3,382.8" fill="#F4FAB8" fill-opacity="0.42"/>
<polygon points="298.9,203.1 305.5,186.2 318.2,175.6 311.2,189.8" fill="#F4FAB8" fill-opacity="0.48"/>
<polygon points="608.5,407.4 612.7,400.8 619.5,395.1 626.1,403.6 619.3,408.9" fill="#A6E896" fill-opacity="0.20"/>
<polygon points="623.7,53.4 618.3,44.6 625.8,42.7" fill="#A6E896" fill-opacity="0.12"/>
<polygon points="289.9,33.1 269.5,22.8 281.1,18.7" fill="#A6E896" fill-opacity="0.29"/>
<polygon points="495.9,83.1 492.4,80.2 491.4,71.2 497.9,78.6" fill="#A6E896" fill-opacity="0.32"/>
<polygon points="232.0,318.0 225.1,313.1 224.1,299.7 227.1,300.8 233.7,309.0" fill="#A6E896" fill-opacity="0.47"/>
<polygon points="298.4,295.7 297.7,284.4 305.0,285.1" fill="#F4FAB8" fill-opacity="0.35"/>
<polygon points="260.6,339.9 254.5,341.2 253.6,336.2 257.0,334.3" fill="#A6E896" fill-opacity="0.50"/>
<polygon points="534.1,237.2 528.2,213.0 544.0,212.8" fill="#A6E896" fill-opacity="0.14"/>
<polygon points="620.6,150.0 608.7,131.1 625.3,124.8" fill="#F4FAB8" fill-opacity="0.25"/>
<polygon points="389.8,322.6 396.0,305.0 396.8,312.5" fill="#A6E896" fill-opacity="0.28"/>
<polygon points="670.4,320.7 658.0,316.2 661.2,310.4" fill="#F4FAB8" fill-opacity="0.30"/>
<polygon points="426.5,71.9 441.2,56.2 440.7,67.8" fill="#A6E896" fill-opacity="0.27"/>
<polygon points="633.9,285.3 626.0,280.7 622.3,259.8 634.9,276.2" fill="#F4FAB8" fill-opacity="0.46"/>
<polygon points="233.8,121.5 236.3,106.5 238.8,112.7" fill="#F4FAB8" fill-opacity="0.45"/>
<polygon points="384.3,119.1 393.1,108.6 395.4,113.1" fill="#F4FAB8" fill-opacity="0.39"/>
<polygon points="258.6,441.2 252.1,435.8 249.9,432.3 252.1,428.9 258.9,435.8" fill="#F4FAB8" fill-opacity="0.33"/>
<polygon points="660.1,422.3 645.4,407.7 638.6,383.5 656.1,403.1" fill="#A6E896" fill-opacity="0.10"/>
<polygon points="398.7,49.6 393.1,47.1 388.4,36.4 394.3,33.6 396.6,39.8" fill="#F4FAB8" fill-opacity="0.39"/>
<polygon points="664.0,319.5 661.2,316.3 660.2,307.1 663.7,308.9 666.3,315.3" fill="#F4FAB8" fill-opacity="0.47"/>
<polygon points="606.7,270.9 610.9,265.4 621.0,268.6 613.6,272.5" fill="#A6E896" fill-opacity="0.20"/>
<polygon points="316.8,267.3 318.8,258.3 341.5,254.4 328.9,270.7" fill="#A6E896" fill-opacity="0.23"/>
<polygon points="494.0,159.1 482.1,156.7 483.2,150.9" fill="#A6E896" fill-opacity="0.37"/>
<polygon points="593.7,378.1 597.6,364.7 607.1,365.0" fill="#F4FAB8" fill-opacity="0.43"/>
<polygon points="624.1,410.3 615.5,392.6 620.4,388.5 627.8,399.2" fill="#A6E896" fill-opacity="0.13"/>
<polygon points="589.9,248.6 571.1,246.7 560.8,236.5 577.4,241.7" fill="#F4FAB8" fill-opacity="0.27"/>
<polygon points="548.8,399.6 521.8,390.5 526.2,378.0" fill="#F4FAB8" fill-opacity="0.50"/>
<polygon points="469.7,380.6 463.7,374.4 461.8,363.8 465.5,367.2 468.7,372.9" fill="#A6E896" fill-opacity="0.19"/>
<polygon points="246.7,38.9 229.6,26.4 238.5,25.1" fill="#A6E896" fill-opacity="0.37"/>
<polygon points="473.5,459.3 472.9,453.2 480.2,447.9 484.7,446.0 480.2,453.3" fill="#A6E896" fill-opacity="0.21"/>
<polygon points="439.3,309.3 435.8,308.2 431.0,297.4 438.1,304.3" fill="#F4FAB8" fill-opacity="0.43"/>
<polygon points="335.8,108.0 342.4,98.9 357.0,96.7 342.0,113.1" fill="#A6E896" fill-opacity="0.25"/>
<polygon points="250.1,291.0 252.9,269.5 261.6,272.4" fill="#F4FAB8" fill-opacity="0.40"/>
<polygon points="546.9,120.5 563.7,95.4 576.0,100.0" fill="#F4FAB8" fill-opacity="0.34"/>
<polygon points="504.1,250.4 504.5,238.2 509.9,239.7" fill="#F4FAB8" fill-opacity="0.38"/>
<polygon points="470.2,466.3 478.7,456.1 489.8,456.0 479.3,465.3" fill="#F4FAB8" fill-opacity="0.34"/>
<polygon points="263.9,147.9 266.9,133.6 281.2,133.2 275.7,141.6" fill="#F4FAB8" fill-opacity="0.27"/>
<polygon points="304.0,279.4 298.0,272.1 303.3,268.6" fill="#F4FAB8" fill-opacity="0.41"/>
<polygon points="442.1,241.4 440.2,236.0 440.1,223.6 443.7,225.3 446.9,232.2" fill="#A6E896" fill-opacity="0.22"/>
<polygon points="294.2,332.0 295.3,336.1 280.4,332.3 277.9,327.9 289.1,325.8" fill="#F4FAB8" fill-opacity="0.42"/>
<polygon points="510.8,412.5 520.2,403.2 528.7,404.3 521.6,413.0" fill="#A6E896" fill-opacity="0.26"/>
<polygon points="467.0,48.2 461.8,41.2 456.4,23.1 466.5,33.0" fill="#A6E896" fill-opacity="0.28"/>
<polygon points="498.3,245.4 493.1,223.6 508.2,220.0" fill="#F4FAB8" fill-opacity="0.37"/>
<polygon points="508.7,129.7 499.3,115.5 500.4,99.4 511.6,102.7 512.6,121.2" fill="#F4FAB8" fill-opacity="0.47"/>
<polygon points="551.2,143.0 560.2,140.0 572.6,139.2 568.1,146.9 559.3,147.2" fill="#A6E896" fill-opacity="0.25"/>
<polygon points="525.6,272.2 532.6,264.5 536.3,269.1" fill="#F4FAB8" fill-opacity="0.48"/>
<polygon points="233.4,165.3 228.2,161.9 238.2,143.0 245.4,150.1 240.6,161.0" fill="#F4FAB8" fill-opacity="0.38"/>
<polygon points="429.6,118.6 415.5,110.4 413.7,98.5 426.4,105.5" fill="#F4FAB8" fill-opacity="0.37"/>
<polygon points="290.5,69.7 282.2,70.7 270.3,50.7 288.6,57.7" fill="#A6E896" fill-opacity="0.31"/>
<polygon points="334.3,394.3 341.0,387.8 353.1,383.2 354.3,386.8 344.0,394.5" fill="#F4FAB8" fill-opacity="0.38"/>
<polygon points="578.9,254.8 594.0,244.9 595.3,251.4" fill="#F4FAB8" fill-opacity="0.41"/>
<polygon points="338.3,39.0 344.3,29.0 346.0,36.2" fill="#A6E896" fill-opacity="0.42"/>
<polygon points="536.9,339.0 532.1,335.7 523.4,325.5 530.1,322.4 539.0,335.0" fill="#A6E896" fill-opacity="0.16"/>
<polygon points="480.6,267.2 489.9,260.7 496.4,259.4 506.6,259.4 489.8,268.5" fill="#A6E896" fill-opacity="0.24"/>
<polygon points="466.8,130.9 466.9,118.1 480.1,107.5 482.5,113.6 473.7,127.0" fill="#F4FAB8" fill-opacity="0.48"/>
<polygon points="491.0,321.7 487.3,311.4 491.2,300.0 495.1,305.0 493.6,312.6" fill="#F4FAB8" fill-opacity="0.47"/>
<polygon points="383.6,410.1 394.0,383.9 399.7,396.1" fill="#A6E896" fill-opacity="0.30"/>
<polygon points="515.9,298.5 509.5,280.8 518.2,285.2" fill="#F4FAB8" fill-opacity="0.31"/>
<polygon points="260.2,258.4 249.5,236.7 261.8,230.9" fill="#F4FAB8" fill-opacity="0.39"/>
<polygon points="391.3,97.3 407.9,83.6 413.9,87.7 421.5,92.3 404.3,98.8" fill="#A6E896" fill-opacity="0.35"/>
<polygon points="570.7,206.3 557.0,204.2 549.3,193.0 572.4,199.5" fill="#F4FAB8" fill-opacity="0.29"/>
<polygon points="527.5,369.3 519.1,361.0 517.4,344.7 525.2,351.3 530.6,354.5" fill="#F4FAB8" fill-opacity="0.35"/>
<polygon points="373.1,149.1 364.2,148.1 360.4,138.2 369.5,143.4" fill="#F4FAB8" fill-opacity="0.32"/>
<polygon points="315.1,239.4 316.8,226.3 325.4,230.0" fill="#A6E896" fill-opacity="0.25"/>
<polygon points="651.7,356.7 660.7,351.0 674.3,351.5 661.9,356.8" fill="#A6E896" fill-opacity="0.17"/>
<polygon points="361.4,439.6 355.0,433.0 360.9,429.9" fill="#F4FAB8" fill-opacity="0.32"/>
<polygon points="627.1,226.7 614.0,215.8 616.9,198.8 622.7,206.0" fill="#F4FAB8" fill-opacity="0.38"/>
<polygon points="337.8,128.4 325.2,131.5 318.7,125.7 329.1,122.8" fill="#A6E896" fill-opacity="0.12"/>
<polygon points="444.7,167.1 428.9,156.3 438.2,151.7" fill="#F4FAB8" fill-opacity="0.46"/>
<polygon points="622.8,330.6 617.1,328.8 620.4,310.1 630.5,310.7 630.0,327.0" fill="#A6E896" fill-opacity="0.21"/>
<polygon points="334.1,112.3 338.5,106.0 347.6,102.4 346.7,106.3 340.9,112.4" fill="#F4FAB8" fill-opacity="0.34"/>
<polygon points="608.1,224.2 614.2,216.7 622.9,218.6 616.7,222.7" fill="#A6E896" fill-opacity="0.17"/>
<polygon points="564.6,271.5 557.3,249.2 573.4,256.2" fill="#A6E896" fill-opacity="0.16"/>
<polygon points="462.9,229.3 454.9,228.8 446.0,223.8 445.2,217.7 459.6,222.1" fill="#A6E896" fill-opacity="0.32"/>
<polygon points="386.5,249.2 380.2,237.8 381.8,227.6 388.0,228.3 390.3,238.5" fill="#F4FAB8" fill-opacity="0.41"/>
<polygon points="412.5,99.5 399.2,96.9 385.5,86.9 406.8,87.6" fill="#A6E896" fill-opacity="0.20"/>
<polygon points="662.5,197.9 652.1,183.1 649.9,171.8 657.9,175.9 661.5,186.6" fill="#A6E896" fill-opacity="0.14"/>
<polygon points="230.6,163.5 236.8,157.9 244.1,157.5 243.4,162.2 237.9,166.1" fill="#A6E896" fill-opacity="0.29"/>
<polygon points="634.6,98.0 621.5,98.4 624.0,94.1" fill="#A6E896" fill-opacity="0.18"/>
<polygon points="421.3,262.3 426.4,237.2 439.1,239.0" fill="#F4FAB8" fill-opacity="0.46"/>
<polygon points="289.4,220.3 285.8,212.1 300.5,196.3 304.2,199.6 298.8,214.4" fill="#A6E896" fill-opacity="0.22"/>
<polygon points="579.2,270.2 569.5,272.1 563.1,268.1 571.0,266.3" fill="#F4FAB8" fill-opacity="0.35"/>
<polygon points="316.5,77.1 302.6,79.2 304.6,73.2" fill="#F4FAB8" fill-opacity="0.45"/>
<polygon points="252.2,383.7 254.5,371.2 264.4,374.3" fill="#F4FAB8" fill-opacity="0.31"/>
<polygon points="590.3,162.8 584.8,156.8 589.2,153.8" fill="#A6E896" fill-opacity="0.14"/>
<polygon points="573.1,386.2 565.6,385.0 554.8,376.3 562.7,371.4 573.3,380.0" fill="#F4FAB8" fill-opacity="0.34"/>
<polygon points="595.6,294.5 595.1,287.6 604.5,281.9 610.9,287.1 605.3,294.3" fill="#A6E896" fill-opacity="0.16"/>
<polygon points="528.6,340.0 524.9,345.6 514.2,341.0 511.2,338.2 520.2,336.6" fill="#A6E896" fill-opacity="0.21"/>
<polygon points="299.0,181.8 282.7,181.6 270.3,167.6 285.6,165.6" fill="#F4FAB8" fill-opacity="0.50"/>
<polygon points="481.8,278.9 470.3,278.3 468.4,272.3 468.9,270.1 482.1,273.7" fill="#F4FAB8" fill-opacity="0.36"/>
<polygon points="553.3,433.5 560.3,426.7 566.6,425.4 563.4,432.5" fill="#A6E896" fill-opacity="0.14"/>
<polygon points="626.9,451.4 626.3,445.1 640.7,436.0 640.4,440.6 632.0,452.3" fill="#F4FAB8" fill-opacity="0.47"/>
<g clip-path="url(#bc)">
<polygon points="91.9,58.5 86.4,60.2 81.3,60.1 81.9,56.4 87.3,52.5" fill="#8696CC" fill-opacity="0.43"/>
<polygon points="170.1,175.5 152.4,187.5 146.8,176.2" fill="#74BEC4" fill-opacity="0.63"/>
<polygon points="203.4,67.4 197.1,70.7 190.9,66.3 197.4,60.7" fill="#8696CC" fill-opacity="0.66"/>
<polygon points="105.7,86.0 88.0,90.1 92.9,81.0" fill="#74BEC4" fill-opacity="0.71"/>
<polygon points="118.2,226.6 94.5,239.3 99.3,224.3" fill="#74BEC4" fill-opacity="0.60"/>
<polygon points="129.4,242.8 122.3,249.4 114.5,238.1 122.6,236.3" fill="#74BEC4" fill-opacity="0.44"/>
<polygon points="170.6,19.9 158.3,25.8 162.9,14.8" fill="#74BEC4" fill-opacity="0.47"/>
<polygon points="58.9,127.6 50.5,141.5 41.0,126.7 45.4,122.9" fill="#74BEC4" fill-opacity="0.45"/>
<polygon points="70.1,153.4 62.4,156.1 62.3,147.0" fill="#8696CC" fill-opacity="0.51"/>
<polygon points="170.8,225.0 168.8,233.2 157.3,230.5 153.2,223.8 161.7,220.7" fill="#74BEC4" fill-opacity="0.75"/>
<polygon points="14.5,57.1 5.5,62.6 8.0,54.5" fill="#74BEC4" fill-opacity="0.55"/>
<polygon points="40.8,152.7 38.2,159.3 33.6,154.9 38.9,150.3" fill="#98D8A2" fill-opacity="0.59"/>
<polygon points="52.8,171.2 47.3,175.5 32.4,173.0 37.6,163.8 44.3,158.3" fill="#74BEC4" fill-opacity="0.61"/>
<polygon points="247.2,255.5 237.9,270.4 226.2,260.8 224.9,255.0 238.8,247.1" fill="#8696CC" fill-opacity="0.73"/>
<polygon points="180.9,113.5 171.0,120.1 175.2,109.8" fill="#98D8A2" fill-opacity="0.43"/>
<polygon points="170.7,245.0 164.6,253.1 146.3,244.7 164.8,236.0" fill="#74BEC4" fill-opacity="0.66"/>
<polygon points="107.1,285.2 98.9,288.1 100.3,281.5" fill="#8696CC" fill-opacity="0.47"/>
<polygon points="239.5,59.7 230.6,68.9 218.5,61.1 218.0,57.1 226.2,51.2" fill="#74BEC4" fill-opacity="0.41"/>
<polygon points="84.9,136.3 69.4,146.4 62.1,132.1 65.5,125.6" fill="#74BEC4" fill-opacity="0.76"/>
<polygon points="218.1,236.2 207.9,239.6 207.7,232.0" fill="#8696CC" fill-opacity="0.71"/>
<polygon points="194.8,43.8 193.5,49.9 186.5,46.6 192.9,41.5" fill="#8696CC" fill-opacity="0.50"/>
<polygon points="72.1,96.5 54.6,101.4 41.3,101.2 51.1,88.7 55.1,85.0" fill="#74BEC4" fill-opacity="0.72"/>
<polygon points="40.2,79.8 21.5,88.5 24.3,70.6" fill="#74BEC4" fill-opacity="0.67"/>
<polygon points="70.7,283.7 63.4,293.7 54.8,292.4 56.2,282.7 64.4,278.6" fill="#74BEC4" fill-opacity="0.59"/>
<polygon points="18.0,110.8 11.4,111.2 9.0,105.2" fill="#8696CC" fill-opacity="0.60"/>
<polygon points="59.4,229.0 50.5,239.7 45.2,232.7 38.7,228.5 53.4,225.1" fill="#8696CC" fill-opacity="0.74"/>
<polygon points="230.5,197.2 223.9,199.8 225.4,192.6" fill="#8696CC" fill-opacity="0.43"/>
<polygon points="48.7,162.9 35.5,169.5 35.0,161.8" fill="#74BEC4" fill-opacity="0.44"/>
<polygon points="169.5,93.0 163.6,95.6 164.3,89.7" fill="#8696CC" fill-opacity="0.80"/>
<polygon points="207.6,136.8 200.8,145.0 184.3,133.8 192.0,125.1" fill="#74BEC4" fill-opacity="0.73"/>
<polygon points="244.3,250.4 236.8,259.8 227.9,250.4 236.8,249.8" fill="#74BEC4" fill-opacity="0.65"/>
<polygon points="62.4,92.0 47.9,98.9 45.7,92.4 51.2,82.2" fill="#74BEC4" fill-opacity="0.55"/>
<polygon points="137.1,69.0 126.6,79.4 118.5,71.6 132.2,62.0" fill="#74BEC4" fill-opacity="0.40"/>
<polygon points="54.3,269.4 44.9,275.0 33.8,266.4 45.8,261.8" fill="#8696CC" fill-opacity="0.64"/>
<polygon points="185.4,162.5 174.8,170.7 159.1,163.6 165.0,157.3 170.7,151.3" fill="#98D8A2" fill-opacity="0.70"/>
<polygon points="41.0,251.8 36.1,257.2 22.1,255.0 25.1,251.7 38.8,247.5" fill="#8696CC" fill-opacity="0.65"/>
<polygon points="205.6,259.9 192.0,263.6 191.7,246.5" fill="#74BEC4" fill-opacity="0.70"/>
<polygon points="162.8,199.8 155.4,205.3 137.7,198.3 149.0,192.9" fill="#74BEC4" fill-opacity="0.46"/>
<polygon points="133.3,217.4 121.2,226.6 117.3,212.5" fill="#74BEC4" fill-opacity="0.59"/>
<polygon points="132.4,296.5 125.2,301.9 124.1,294.3" fill="#98D8A2" fill-opacity="0.55"/>
<polygon points="84.7,44.3 73.0,52.6 67.2,45.8 73.7,43.1" fill="#74BEC4" fill-opacity="0.60"/>
<polygon points="94.1,110.1 82.5,114.3 85.9,98.8" fill="#74BEC4" fill-opacity="0.56"/>
<polygon points="98.6,137.7 91.7,142.5 90.6,134.3" fill="#74BEC4" fill-opacity="0.42"/>
<polygon points="195.6,241.1 190.7,241.9 180.6,239.9 183.9,236.0 192.8,234.1" fill="#74BEC4" fill-opacity="0.41"/>
<polygon points="229.6,173.6 221.7,177.8 212.4,172.9 219.2,167.9" fill="#74BEC4" fill-opacity="0.57"/>
<polygon points="57.4,72.9 43.4,80.3 43.0,71.0" fill="#98D8A2" fill-opacity="0.60"/>
<polygon points="148.5,108.1 132.7,114.5 131.7,99.7" fill="#74BEC4" fill-opacity="0.72"/>
<polygon points="35.6,96.7 32.3,101.1 16.8,99.4 17.9,91.0 31.8,86.1" fill="#98D8A2" fill-opacity="0.45"/>
<polygon points="50.2,132.4 38.3,143.0 32.7,140.1 35.2,132.2 38.9,126.7" fill="#8696CC" fill-opacity="0.72"/>
<polygon points="37.9,250.9 37.1,254.3 29.3,252.4 37.7,246.1" fill="#8696CC" fill-opacity="0.74"/>
<polygon points="139.6,140.2 134.2,146.9 125.0,142.3 131.0,130.0" fill="#8696CC" fill-opacity="0.44"/>
<polygon points="163.8,266.5 158.0,269.6 157.5,262.6" fill="#74BEC4" fill-opacity="0.49"/>
<polygon points="33.2,79.4 28.0,82.7 22.9,78.6 28.7,77.1" fill="#74BEC4" fill-opacity="0.55"/>
<polygon points="237.2,105.1 228.5,108.5 232.2,98.7" fill="#8696CC" fill-opacity="0.49"/>
<polygon points="223.3,32.6 219.1,34.1 214.3,25.7" fill="#8696CC" fill-opacity="0.77"/>
<polygon points="219.5,224.6 213.4,227.8 205.3,222.4 216.0,219.8" fill="#98D8A2" fill-opacity="0.77"/>
<polygon points="43.1,38.9 29.6,41.5 33.8,32.9" fill="#74BEC4" fill-opacity="0.57"/>
<polygon points="176.3,72.1 173.1,78.3 167.8,69.9 170.1,67.6" fill="#74BEC4" fill-opacity="0.58"/>
<polygon points="232.2,86.9 225.7,94.7 211.3,86.7 219.8,81.3" fill="#8696CC" fill-opacity="0.76"/>
<polygon points="152.2,245.5 142.0,248.4 146.2,239.2" fill="#98D8A2" fill-opacity="0.43"/>
<polygon points="52.6,159.1 42.2,163.8 26.4,158.0 37.1,150.7" fill="#74BEC4" fill-opacity="0.77"/>
<polygon points="191.2,83.3 186.9,88.8 177.2,88.0 172.0,80.2 187.8,82.0" fill="#74BEC4" fill-opacity="0.41"/>
<polygon points="48.2,147.3 40.3,153.7 31.9,150.6 35.1,141.4 41.1,139.5" fill="#98D8A2" fill-opacity="0.49"/>
<polygon points="51.9,265.7 44.6,270.3 41.3,267.1 41.0,260.9" fill="#8696CC" fill-opacity="0.53"/>
<polygon points="70.8,140.9 58.7,147.7 58.6,138.2" fill="#74BEC4" fill-opacity="0.75"/>
<polygon points="121.7,90.5 112.8,95.6 101.4,83.0" fill="#8696CC" fill-opacity="0.78"/>
<polygon points="27.6,222.8 20.7,227.0 10.9,223.7 17.9,215.9" fill="#98D8A2" fill-opacity="0.73"/>
<polygon points="171.1,58.5 165.5,70.0 151.9,60.6 161.4,51.7" fill="#74BEC4" fill-opacity="0.66"/>
<polygon points="215.6,301.5 212.0,302.2 204.4,304.7 200.0,295.4 208.5,295.3" fill="#74BEC4" fill-opacity="0.48"/>
<polygon points="51.5,242.5 45.3,250.4 34.1,247.9 46.2,234.8" fill="#74BEC4" fill-opacity="0.63"/>
<polygon points="203.2,101.6 198.6,107.0 185.5,99.6 196.4,93.7" fill="#8696CC" fill-opacity="0.42"/>
<polygon points="159.4,189.7 154.6,193.2 147.9,194.8 150.9,187.7 155.8,184.5" fill="#74BEC4" fill-opacity="0.59"/>
<polygon points="31.4,256.7 23.2,260.0 11.2,259.2 12.1,250.1 15.7,241.3" fill="#74BEC4" fill-opacity="0.64"/>
<polygon points="123.9,141.8 113.3,149.5 114.5,133.8" fill="#8696CC" fill-opacity="0.73"/>
<polygon points="167.8,26.6 161.1,34.2 154.4,24.1 166.7,15.1" fill="#74BEC4" fill-opacity="0.77"/>
<polygon points="186.8,249.4 176.8,253.6 169.6,249.2 179.0,243.1" fill="#74BEC4" fill-opacity="0.79"/>
<polygon points="90.4,191.9 86.6,196.5 79.4,190.6 82.6,185.4" fill="#98D8A2" fill-opacity="0.58"/>
<polygon points="231.7,208.9 226.4,214.4 219.4,208.5 226.7,206.1" fill="#98D8A2" fill-opacity="0.47"/>
<polygon points="243.7,194.0 239.2,198.2 230.1,196.2 241.2,190.1" fill="#74BEC4" fill-opacity="0.72"/>
<polygon points="143.0,106.0 134.2,109.6 118.9,107.5 122.4,100.8 132.6,93.7" fill="#98D8A2" fill-opacity="0.75"/>
<polygon points="28.3,28.8 21.7,34.7 14.0,33.3 10.3,28.4 20.8,26.5" fill="#8696CC" fill-opacity="0.52"/>
<polygon points="38.2,199.3 27.2,208.0 20.0,196.0 33.2,188.1" fill="#8696CC" fill-opacity="0.71"/>
<polygon points="128.1,61.1 120.1,64.5 118.3,54.4" fill="#74BEC4" fill-opacity="0.42"/>
<polygon points="50.8,72.6 48.8,76.9 33.1,72.9 35.9,68.2 44.2,66.1" fill="#8696CC" fill-opacity="0.60"/>
<polygon points="224.3,38.4 212.4,42.3 219.4,33.8" fill="#8696CC" fill-opacity="0.47"/>
<polygon points="39.2,193.5 21.4,202.3 14.8,200.2 13.6,185.3 22.2,189.4" fill="#8696CC" fill-opacity="0.67"/>
<polygon points="234.5,71.1 217.6,82.8 204.7,70.1 223.6,57.7" fill="#74BEC4" fill-opacity="0.64"/>
<polygon points="118.9,222.1 109.7,225.0 103.6,217.4" fill="#8696CC" fill-opacity="0.52"/>
<polygon points="59.3,294.8 42.8,297.1 43.4,287.2" fill="#8696CC" fill-opacity="0.41"/>
<polygon points="206.5,245.9 202.7,252.8 182.8,252.0 186.5,240.1 202.4,241.6" fill="#98D8A2" fill-opacity="0.43"/>
<polygon points="39.2,41.7 31.1,46.0 23.2,40.9 35.1,36.9" fill="#8696CC" fill-opacity="0.48"/>
<polygon points="126.4,98.5 113.8,101.9 111.6,91.2" fill="#8696CC" fill-opacity="0.72"/>
<polygon points="35.0,249.5 29.3,251.9 28.0,242.0" fill="#74BEC4" fill-opacity="0.40"/>
<polygon points="241.5,182.3 233.9,193.3 225.1,193.0 217.2,181.4 240.1,173.4" fill="#98D8A2" fill-opacity="0.61"/>
<polygon points="157.3,117.3 156.9,119.0 149.2,117.3 148.1,113.6 154.7,112.4" fill="#74BEC4" fill-opacity="0.56"/>
<polygon points="144.8,230.2 132.7,237.6 123.3,231.3 133.6,224.4" fill="#8696CC" fill-opacity="0.66"/>
<polygon points="70.4,109.1 63.0,113.5 60.4,113.3 57.4,108.1 63.0,106.1" fill="#8696CC" fill-opacity="0.68"/>
<polygon points="61.4,292.2 53.7,298.0 50.4,294.9 50.9,291.0 53.6,289.1" fill="#8696CC" fill-opacity="0.44"/>
<polygon points="25.0,127.6 25.9,138.8 13.6,135.5 9.5,119.1 23.4,118.5" fill="#8696CC" fill-opacity="0.68"/>
<polygon points="215.9,208.6 206.3,212.9 196.6,211.8 195.2,203.7 211.5,197.5" fill="#8696CC" fill-opacity="0.75"/>
<polygon points="168.2,86.5 153.9,98.4 150.2,89.9 145.7,76.2 154.1,79.3" fill="#74BEC4" fill-opacity="0.58"/>
<polygon points="65.8,219.4 58.9,223.3 53.1,218.4 60.2,215.2" fill="#98D8A2" fill-opacity="0.48"/>
<polygon points="239.9,75.9 225.4,81.9 222.6,72.0" fill="#8696CC" fill-opacity="0.56"/>
<polygon points="229.4,195.8 218.0,197.3 219.3,189.7" fill="#8696CC" fill-opacity="0.63"/>
<polygon points="66.2,52.7 58.8,55.2 51.5,54.6 55.3,48.3 64.3,47.8" fill="#8696CC" fill-opacity="0.72"/>
<polygon points="164.7,236.7 157.3,240.7 152.4,234.0" fill="#74BEC4" fill-opacity="0.71"/>
<polygon points="86.8,80.7 77.4,90.7 68.5,85.4 75.2,78.5" fill="#74BEC4" fill-opacity="0.59"/>
<polygon points="231.7,168.1 228.4,168.2 224.8,168.6 224.3,163.7 226.6,161.2" fill="#74BEC4" fill-opacity="0.63"/>
<polygon points="203.9,66.6 186.4,66.6 188.7,55.3" fill="#98D8A2" fill-opacity="0.64"/>
<polygon points="188.1,142.0 180.2,146.1 171.9,137.1 179.2,135.8" fill="#98D8A2" fill-opacity="0.62"/>
<polygon points="159.8,225.9 151.6,230.4 142.2,225.1 140.4,218.8 146.3,216.6" fill="#74BEC4" fill-opacity="0.53"/>
<polygon points="172.7,281.6 171.5,285.5 164.0,284.1 161.8,276.4 172.1,274.7" fill="#74BEC4" fill-opacity="0.79"/>
<polygon points="234.3,93.6 215.1,104.0 212.0,89.5" fill="#74BEC4" fill-opacity="0.50"/>
<polygon points="248.2,197.4 240.3,212.2 223.3,202.4 233.2,193.0" fill="#8696CC" fill-opacity="0.53"/>
<polygon points="113.6,47.4 97.4,53.4 91.0,45.0 103.7,38.0" fill="#74BEC4" fill-opacity="0.73"/>
<polygon points="169.7,74.8 161.2,79.6 164.9,72.1" fill="#8696CC" fill-opacity="0.58"/>
<polygon points="202.4,237.9 198.8,244.2 193.5,237.3 199.4,233.0" fill="#8696CC" fill-opacity="0.50"/>
<polygon points="193.1,134.6 182.4,138.0 185.7,132.1" fill="#8696CC" fill-opacity="0.56"/>
<polygon points="41.8,195.3 24.3,203.1 29.6,195.8" fill="#74BEC4" fill-opacity="0.46"/>
<polygon points="125.6,90.9 119.5,99.8 115.0,94.7 113.3,89.6 121.0,87.1" fill="#8696CC" fill-opacity="0.58"/>
<polygon points="81.4,291.7 64.5,296.8 61.5,278.1" fill="#8696CC" fill-opacity="0.40"/>
<polygon points="207.6,189.3 202.2,194.1 193.9,191.8 195.7,185.6 208.6,181.2" fill="#74BEC4" fill-opacity="0.78"/>
<polygon points="198.9,178.7 193.5,187.7 179.6,179.1 181.6,173.4 196.5,171.1" fill="#74BEC4" fill-opacity="0.42"/>
<polygon points="175.6,185.4 172.3,196.8 155.0,183.9 166.0,181.2" fill="#98D8A2" fill-opacity="0.72"/>
<polygon points="223.0,300.7 222.0,304.1 207.7,299.8 205.8,289.5 215.4,289.3" fill="#74BEC4" fill-opacity="0.79"/>
<polygon points="172.9,147.4 155.6,154.8 157.4,141.1" fill="#74BEC4" fill-opacity="0.50"/>
<polygon points="220.2,266.4 216.3,271.2 211.6,269.5 211.2,262.2 216.8,260.6" fill="#74BEC4" fill-opacity="0.59"/>
<polygon points="128.6,262.3 121.7,264.2 116.3,258.3" fill="#74BEC4" fill-opacity="0.59"/>
<polygon points="218.3,157.0 205.6,162.0 204.5,154.5 207.5,149.3" fill="#8696CC" fill-opacity="0.50"/>
<polygon points="40.3,32.6 25.8,36.5 19.9,26.3 26.3,24.4" fill="#8696CC" fill-opacity="0.75"/>
<polygon points="74.8,37.6 58.3,43.1 58.2,37.8" fill="#98D8A2" fill-opacity="0.60"/>
<polygon points="99.2,272.4 86.2,275.9 86.4,269.6" fill="#98D8A2" fill-opacity="0.73"/>
<polygon points="19.8,69.0 13.1,77.1 3.7,71.8 9.4,66.2" fill="#8696CC" fill-opacity="0.64"/>
<polygon points="169.4,19.5 162.7,21.9 163.8,13.1" fill="#8696CC" fill-opacity="0.48"/>
<polygon points="241.0,277.6 225.8,285.2 225.5,275.8" fill="#74BEC4" fill-opacity="0.41"/>
<polygon points="27.8,218.1 20.5,225.0 20.0,215.5" fill="#8696CC" fill-opacity="0.46"/>
<polygon points="128.4,107.4 125.8,108.8 120.2,108.0 118.7,104.5 128.3,101.7" fill="#98D8A2" fill-opacity="0.45"/>
<polygon points="229.7,45.6 216.1,49.4 217.0,35.0" fill="#74BEC4" fill-opacity="0.76"/>
<polygon points="117.6,241.9 111.5,244.3 102.2,242.5 113.2,235.5" fill="#98D8A2" fill-opacity="0.51"/>
<polygon points="34.8,38.0 27.7,43.3 24.8,40.4 29.4,35.2" fill="#8696CC" fill-opacity="0.60"/>
<polygon points="214.2,279.3 210.8,286.9 188.0,276.4 201.5,269.9" fill="#74BEC4" fill-opacity="0.54"/>
<polygon points="217.3,117.8 200.2,125.1 194.8,124.5 192.1,109.6 210.0,109.7" fill="#74BEC4" fill-opacity="0.55"/>
<polygon points="151.5,271.0 143.9,274.7 136.0,271.8 137.2,269.6 143.3,262.3" fill="#74BEC4" fill-opacity="0.44"/>
<polygon points="28.0,43.7 14.1,50.6 12.3,38.1" fill="#8696CC" fill-opacity="0.48"/>
<polygon points="58.1,90.7 51.0,96.1 45.0,94.1 51.0,88.9" fill="#74BEC4" fill-opacity="0.63"/>
<polygon points="238.6,20.5 226.3,31.3 221.8,25.1 218.3,16.5 238.6,12.4" fill="#8696CC" fill-opacity="0.68"/>
<polygon points="225.0,248.0 219.6,252.5 218.3,249.9 215.2,246.1 220.0,242.1" fill="#8696CC" fill-opacity="0.42"/>
<polygon points="74.5,138.0 59.7,139.0 54.1,134.1 63.3,128.9" fill="#74BEC4" fill-opacity="0.80"/>
<polygon points="137.5,277.9 137.4,280.9 133.0,280.3 131.7,274.0 136.7,276.7" fill="#8696CC" fill-opacity="0.50"/>
<polygon points="155.5,281.2 142.3,291.7 134.3,282.5 147.5,273.7" fill="#74BEC4" fill-opacity="0.60"/>
<polygon points="107.0,171.2 100.8,176.8 90.2,171.3 99.4,167.1" fill="#74BEC4" fill-opacity="0.76"/>
<polygon points="95.9,262.1 92.8,263.4 83.6,260.3 89.9,254.7" fill="#74BEC4" fill-opacity="0.62"/>
<polygon points="136.0,255.5 132.3,256.2 123.5,256.8 122.6,248.3 132.8,248.7" fill="#74BEC4" fill-opacity="0.71"/>
<polygon points="186.3,229.0 179.6,231.3 169.4,229.9 167.9,220.2 183.6,219.9" fill="#8696CC" fill-opacity="0.59"/>
<polygon points="199.0,262.3 191.8,271.8 178.6,262.9 184.3,255.2" fill="#8696CC" fill-opacity="0.55"/>
<polygon points="243.9,122.9 232.4,127.1 237.1,116.5" fill="#74BEC4" fill-opacity="0.61"/>
<polygon points="72.2,106.6 64.2,111.5 62.3,104.7" fill="#98D8A2" fill-opacity="0.76"/>
<polygon points="117.1,250.8 106.7,256.4 105.7,250.2 109.7,245.0" fill="#8696CC" fill-opacity="0.57"/>
<polygon points="149.5,180.8 138.3,185.8 134.2,177.7 138.1,173.3" fill="#8696CC" fill-opacity="0.79"/>
<polygon points="41.3,107.1 23.6,110.4 19.4,105.7 27.4,95.5" fill="#74BEC4" fill-opacity="0.66"/>
<polygon points="64.4,68.1 52.3,71.0 43.5,71.1 53.9,57.1" fill="#8696CC" fill-opacity="0.64"/>
<polygon points="108.4,43.4 95.8,48.5 101.2,35.9" fill="#74BEC4" fill-opacity="0.41"/>
<polygon points="110.8,47.5 102.2,52.8 101.1,45.7" fill="#74BEC4" fill-opacity="0.70"/>
<polygon points="165.2,208.6 158.3,218.0 156.7,205.5" fill="#8696CC" fill-opacity="0.46"/>
<polygon points="119.4,122.7 118.0,130.2 106.8,132.4 107.6,123.5 120.1,118.6" fill="#74BEC4" fill-opacity="0.76"/>
<polygon points="114.1,86.1 104.9,90.9 105.3,81.8" fill="#98D8A2" fill-opacity="0.79"/>
<polygon points="196.3,85.6 190.8,87.2 191.7,81.3" fill="#74BEC4" fill-opacity="0.54"/>
<polygon points="164.9,287.7 161.9,291.5 154.7,290.9 152.2,287.2 159.3,284.9" fill="#74BEC4" fill-opacity="0.77"/>
<polygon points="209.1,50.6 198.8,57.4 195.9,47.0" fill="#74BEC4" fill-opacity="0.73"/>
<polygon points="138.2,80.7 123.8,89.8 116.4,86.4 110.9,76.7 130.0,74.2" fill="#74BEC4" fill-opacity="0.45"/>
<polygon points="214.2,223.5 210.4,228.6 198.4,226.4 201.6,221.4 208.9,218.9" fill="#8696CC" fill-opacity="0.41"/>
<polygon points="131.2,101.2 121.7,106.2 120.9,94.5" fill="#74BEC4" fill-opacity="0.52"/>
<polygon points="163.4,262.1 155.6,269.9 146.8,259.8 157.6,254.5" fill="#98D8A2" fill-opacity="0.47"/>
<polygon points="160.5,67.6 155.9,71.3 150.4,68.0 150.2,62.8 158.5,60.5" fill="#74BEC4" fill-opacity="0.77"/>
<polygon points="153.9,80.7 144.6,88.8 126.2,78.2 143.9,72.1" fill="#74BEC4" fill-opacity="0.61"/>
<polygon points="177.2,295.0 173.1,297.9 162.3,293.3 171.7,288.9" fill="#8696CC" fill-opacity="0.41"/>
<polygon points="41.9,286.4 32.3,291.4 24.8,286.9 22.7,278.4 35.6,279.1" fill="#74BEC4" fill-opacity="0.77"/>
<polygon points="62.7,290.0 49.7,291.0 47.0,282.9" fill="#8696CC" fill-opacity="0.62"/>
<polygon points="114.9,72.3 112.0,77.8 99.4,78.7 100.7,69.1 109.3,66.2" fill="#74BEC4" fill-opacity="0.45"/>
<polygon points="79.1,190.6 58.3,199.1 56.7,188.1" fill="#74BEC4" fill-opacity="0.57"/>
<polygon points="18.7,154.6 14.9,157.5 7.3,153.8 11.6,150.8" fill="#74BEC4" fill-opacity="0.76"/>
<polygon points="18.2,298.8 14.2,305.6 5.1,302.0 6.7,295.6 11.9,293.2" fill="#8696CC" fill-opacity="0.43"/>
<polygon points="157.5,220.7 147.5,225.6 146.2,219.9" fill="#8696CC" fill-opacity="0.66"/>
<polygon points="212.1,278.1 201.6,285.7 193.4,280.2 202.7,268.5" fill="#74BEC4" fill-opacity="0.71"/>
<polygon points="70.4,24.8 68.7,33.6 56.4,27.6 61.1,23.9 65.3,22.6" fill="#8696CC" fill-opacity="0.65"/>
<polygon points="159.9,130.0 153.7,135.4 150.9,128.1 154.9,124.0" fill="#98D8A2" fill-opacity="0.74"/>
<polygon points="142.6,131.4 131.3,139.9 114.7,138.6 119.0,129.0 132.8,125.9" fill="#74BEC4" fill-opacity="0.58"/>
<polygon points="124.4,168.9 114.7,177.5 98.3,166.5 109.8,153.9" fill="#8696CC" fill-opacity="0.46"/>
<polygon points="126.0,198.2 121.7,201.7 116.7,201.0 117.1,197.2 122.3,195.7" fill="#74BEC4" fill-opacity="0.54"/>
<polygon points="114.7,44.6 102.4,53.5 89.6,51.9 91.4,44.8 105.6,38.4" fill="#74BEC4" fill-opacity="0.76"/>
<polygon points="186.2,273.8 180.8,278.8 175.9,275.1 176.4,269.8 178.6,268.9" fill="#8696CC" fill-opacity="0.74"/>
<polygon points="103.5,64.5 98.8,67.6 94.8,61.2" fill="#98D8A2" fill-opacity="0.63"/>
<polygon points="68.6,103.4 48.5,106.4 50.0,94.5" fill="#8696CC" fill-opacity="0.57"/>
<polygon points="95.3,232.7 86.1,237.3 87.3,228.3" fill="#8696CC" fill-opacity="0.73"/>
<polygon points="99.6,107.4 98.6,113.5 85.3,112.4 88.4,106.5 92.2,104.8" fill="#8696CC" fill-opacity="0.41"/>
<polygon points="238.0,264.4 224.3,276.8 219.7,271.1 212.7,261.5 233.7,255.1" fill="#8696CC" fill-opacity="0.73"/>
<polygon points="30.3,71.7 18.6,73.7 7.6,63.0 16.5,57.9" fill="#8696CC" fill-opacity="0.67"/>
<polygon points="91.8,51.0 77.8,58.5 71.3,53.6 79.4,46.2" fill="#8696CC" fill-opacity="0.48"/>
<polygon points="218.3,187.3 209.5,193.9 206.9,181.9" fill="#8696CC" fill-opacity="0.69"/>
<polygon points="250.4,26.0 234.9,31.0 234.9,13.7" fill="#8696CC" fill-opacity="0.71"/>
<polygon points="231.4,210.8 225.4,216.2 219.6,214.1 218.7,203.5 230.2,204.3" fill="#74BEC4" fill-opacity="0.71"/>
<polygon points="219.9,246.9 213.4,249.1 213.5,243.7" fill="#98D8A2" fill-opacity="0.46"/>
<polygon points="30.8,103.1 33.4,109.6 18.1,104.2 16.6,97.4 33.6,94.5" fill="#74BEC4" fill-opacity="0.69"/>
<polygon points="179.8,277.0 174.8,281.9 174.2,274.0" fill="#8696CC" fill-opacity="0.53"/>
<polygon points="105.1,71.4 104.0,74.1 98.4,76.8 96.9,68.8 101.1,68.8" fill="#8696CC" fill-opacity="0.75"/>
<polygon points="165.8,20.9 158.6,25.8 153.4,19.8 157.4,15.9" fill="#74BEC4" fill-opacity="0.41"/>
<polygon points="160.7,112.3 156.6,121.0 142.8,112.0 157.4,98.3" fill="#74BEC4" fill-opacity="0.64"/>
<polygon points="52.5,19.6 39.5,26.2 37.7,14.9" fill="#74BEC4" fill-opacity="0.61"/>
<polygon points="151.0,82.5 138.1,92.1 133.5,80.9 142.6,68.8" fill="#8696CC" fill-opacity="0.73"/>
<polygon points="45.7,18.1 36.5,23.2 36.4,17.2 40.5,14.2" fill="#74BEC4" fill-opacity="0.66"/>
<polygon points="202.6,92.8 183.4,95.6 185.3,80.7" fill="#8696CC" fill-opacity="0.70"/>
<polygon points="219.1,74.2 211.7,83.0 199.1,78.8 206.7,67.2" fill="#98D8A2" fill-opacity="0.76"/>
<polygon points="31.2,174.2 28.6,181.8 19.3,180.1 16.8,169.2 25.4,165.0" fill="#74BEC4" fill-opacity="0.77"/>
<polygon points="69.4,174.5 62.6,182.2 50.8,174.6 57.4,166.9" fill="#74BEC4" fill-opacity="0.75"/>
<polygon points="239.8,77.6 236.0,81.7 223.9,76.1 225.1,74.9 233.1,73.1" fill="#74BEC4" fill-opacity="0.71"/>
<polygon points="227.5,57.4 213.7,63.9 215.4,53.5" fill="#8696CC" fill-opacity="0.44"/>
<polygon points="219.6,181.8 214.4,184.0 209.8,178.8" fill="#74BEC4" fill-opacity="0.65"/>
<polygon points="88.7,262.9 77.4,271.9 76.8,256.6" fill="#74BEC4" fill-opacity="0.59"/>
<polygon points="139.7,257.4 130.6,264.8 124.0,250.5" fill="#98D8A2" fill-opacity="0.43"/>
<polygon points="236.3,70.4 232.5,75.2 226.0,71.8 236.2,65.3" fill="#74BEC4" fill-opacity="0.72"/>
<polygon points="79.0,134.6 69.9,143.9 64.5,131.8" fill="#74BEC4" fill-opacity="0.55"/>
<polygon points="230.2,88.5 219.0,91.7 219.9,79.9" fill="#8696CC" fill-opacity="0.55"/>
<polygon points="152.0,204.5 134.0,219.4 120.3,208.9 134.8,199.7" fill="#74BEC4" fill-opacity="0.67"/>
<polygon points="189.7,124.1 186.8,127.9 172.5,126.2 177.6,119.7 186.5,117.5" fill="#8696CC" fill-opacity="0.56"/>
<polygon points="102.5,183.3 81.8,193.3 83.8,178.3" fill="#8696CC" fill-opacity="0.80"/>
<polygon points="208.5,142.6 198.8,157.8 194.7,151.5 192.0,144.0 201.6,134.8" fill="#8696CC" fill-opacity="0.73"/>
<polygon points="140.1,143.7 126.2,153.4 118.6,147.2 128.5,136.0" fill="#74BEC4" fill-opacity="0.56"/>
<polygon points="71.0,118.0 60.2,125.5 58.8,112.0" fill="#74BEC4" fill-opacity="0.55"/>
<polygon points="79.2,88.2 65.1,100.2 61.9,91.3 68.2,82.7" fill="#74BEC4" fill-opacity="0.61"/>
<polygon points="181.9,98.4 171.6,103.0 165.9,96.0 172.8,92.5" fill="#74BEC4" fill-opacity="0.66"/>
<polygon points="94.0,38.1 85.9,39.2 76.3,39.8 80.6,30.9 89.9,32.1" fill="#8696CC" fill-opacity="0.55"/>
<polygon points="34.0,130.0 24.2,137.4 19.3,119.7" fill="#74BEC4" fill-opacity="0.70"/>
<polygon points="193.3,46.6 185.2,50.8 184.9,43.9" fill="#74BEC4" fill-opacity="0.43"/>
<polygon points="124.5,30.4 122.0,34.3 116.1,35.8 115.3,29.2 122.3,27.9" fill="#8696CC" fill-opacity="0.57"/>
<polygon points="106.1,203.1 99.4,211.6 89.8,204.0 95.5,198.8" fill="#74BEC4" fill-opacity="0.56"/>
<polygon points="165.4,282.0 153.5,284.4 154.7,278.0" fill="#8696CC" fill-opacity="0.68"/>
<polygon points="137.4,131.3 135.2,138.3 126.7,131.0 133.7,128.0" fill="#8696CC" fill-opacity="0.53"/>
<polygon points="68.3,62.3 53.5,78.5 50.1,56.1" fill="#8696CC" fill-opacity="0.45"/>
<polygon points="135.2,204.1 118.4,212.3 121.1,202.7" fill="#8696CC" fill-opacity="0.52"/>
<polygon points="39.3,30.5 40.8,37.3 23.7,40.0 22.6,26.4 35.0,22.1" fill="#74BEC4" fill-opacity="0.73"/>
<polygon points="147.0,60.8 137.5,61.3 134.9,54.8" fill="#98D8A2" fill-opacity="0.53"/>
<polygon points="66.9,169.8 65.1,173.5 57.3,172.1 56.9,167.1 60.7,165.8" fill="#74BEC4" fill-opacity="0.59"/>
<polygon points="22.9,240.3 11.2,241.3 8.8,234.4" fill="#98D8A2" fill-opacity="0.77"/>
<polygon points="220.2,254.4 214.0,260.8 211.0,252.1" fill="#74BEC4" fill-opacity="0.77"/>
<polygon points="97.3,151.0 86.6,156.7 84.2,142.5" fill="#74BEC4" fill-opacity="0.55"/>
<polygon points="154.3,147.6 143.2,149.0 144.1,139.3" fill="#74BEC4" fill-opacity="0.61"/>
<polygon points="100.8,203.8 103.1,213.0 86.4,211.6 86.5,200.2 95.0,197.8" fill="#74BEC4" fill-opacity="0.40"/>
<polygon points="144.3,164.0 131.0,166.6 127.5,160.6 131.0,155.5" fill="#74BEC4" fill-opacity="0.48"/>
<polygon points="200.1,212.7 191.6,222.4 187.8,209.0" fill="#74BEC4" fill-opacity="0.70"/>
<polygon points="229.0,39.2 214.8,44.3 209.8,42.9 201.9,35.5 214.7,32.0" fill="#8696CC" fill-opacity="0.49"/>
<polygon points="40.6,230.6 33.2,238.1 15.4,228.8 25.7,223.6" fill="#8696CC" fill-opacity="0.47"/>
<polygon points="54.4,74.3 34.3,82.2 40.5,59.5" fill="#74BEC4" fill-opacity="0.53"/>
<polygon points="161.0,72.5 158.9,77.3 149.8,70.9 153.9,66.7" fill="#8696CC" fill-opacity="0.74"/>
<polygon points="237.8,272.3 225.9,282.6 216.5,280.5 215.0,266.6 224.6,262.5" fill="#8696CC" fill-opacity="0.73"/>
<polygon points="203.8,87.4 183.7,95.2 190.4,82.5" fill="#8696CC" fill-opacity="0.49"/>
<polygon points="169.8,127.0 160.4,138.8 150.4,129.0 167.4,117.0" fill="#8696CC" fill-opacity="0.71"/>
<polygon points="18.8,155.0 12.0,159.0 0.6,155.6 11.8,149.3" fill="#74BEC4" fill-opacity="0.44"/>
<polygon points="36.8,90.9 31.7,98.3 22.3,93.7 24.6,90.1 30.1,86.2" fill="#8696CC" fill-opacity="0.58"/>
<polygon points="215.6,266.5 202.6,278.2 185.6,269.6 193.4,260.4" fill="#98D8A2" fill-opacity="0.52"/>
<polygon points="238.3,149.0 224.4,153.3 215.7,148.0 225.0,137.5" fill="#8696CC" fill-opacity="0.50"/>
<polygon points="137.2,110.3 128.0,118.4 119.0,106.3 126.3,98.4" fill="#74BEC4" fill-opacity="0.52"/>
<polygon points="28.1,253.0 22.4,258.2 16.7,250.5 18.4,246.1" fill="#8696CC" fill-opacity="0.62"/>
<polygon points="81.1,69.1 71.8,72.1 69.0,67.8 72.7,64.2" fill="#98D8A2" fill-opacity="0.60"/>
<polygon points="35.3,287.7 29.2,291.6 25.7,291.1 26.5,282.1 32.1,282.8" fill="#8696CC" fill-opacity="0.60"/>
<polygon points="90.8,162.4 80.1,167.3 74.1,168.9 75.2,161.9 82.0,159.9" fill="#8696CC" fill-opacity="0.76"/>
<polygon points="75.5,129.3 69.8,131.2 62.7,129.2 67.9,124.2" fill="#74BEC4" fill-opacity="0.79"/>
<polygon points="142.6,202.5 130.2,207.2 131.1,199.6" fill="#8696CC" fill-opacity="0.56"/>
<polygon points="201.0,25.3 182.6,35.9 177.8,29.9 191.4,17.7" fill="#8696CC" fill-opacity="0.63"/>
<polygon points="185.8,281.9 179.3,289.7 165.9,282.5 162.8,275.3 174.9,274.7" fill="#74BEC4" fill-opacity="0.47"/>
<polygon points="214.0,166.1 211.0,171.0 204.2,164.8 210.9,162.5" fill="#74BEC4" fill-opacity="0.67"/>
<polygon points="149.1,94.0 137.9,98.4 141.1,87.5" fill="#8696CC" fill-opacity="0.72"/>
<polygon points="214.7,198.5 200.3,211.2 188.5,204.5 186.9,191.6 200.1,192.0" fill="#8696CC" fill-opacity="0.45"/>
<polygon points="145.1,269.3 145.1,271.3 138.6,270.9 135.9,267.5 143.3,263.4" fill="#74BEC4" fill-opacity="0.41"/>
<polygon points="30.4,255.2 26.3,259.1 9.6,253.1 13.1,241.7 23.8,244.6" fill="#74BEC4" fill-opacity="0.49"/>
<polygon points="54.0,244.7 53.8,252.9 43.8,250.1 47.6,243.3 51.1,240.7" fill="#74BEC4" fill-opacity="0.55"/>
<polygon points="171.1,88.1 161.6,92.3 154.0,88.6 160.0,82.2" fill="#8696CC" fill-opacity="0.63"/>
<polygon points="186.9,163.8 180.1,172.9 170.2,169.8 166.4,160.6 181.8,157.8" fill="#74BEC4" fill-opacity="0.48"/>
<polygon points="99.7,132.6 98.1,140.8 83.3,135.0 84.5,133.2 93.6,124.0" fill="#8696CC" fill-opacity="0.66"/>
<polygon points="202.0,146.9 194.3,149.7 188.3,138.6" fill="#74BEC4" fill-opacity="0.44"/>
<polygon points="238.1,256.5 231.5,262.6 226.3,254.2 234.1,251.3" fill="#74BEC4" fill-opacity="0.50"/>
<polygon points="104.0,247.4 98.0,251.9 98.2,243.7" fill="#8696CC" fill-opacity="0.45"/>
<polygon points="196.7,73.5 186.8,80.6 184.6,75.1 188.0,65.5" fill="#8696CC" fill-opacity="0.77"/>
<polygon points="43.7,266.3 34.7,269.3 27.3,266.8 25.4,261.4 37.8,257.5" fill="#98D8A2" fill-opacity="0.58"/>
<polygon points="70.2,200.1 60.4,204.2 64.7,197.7" fill="#8696CC" fill-opacity="0.59"/>
<polygon points="146.7,225.2 140.2,229.7 138.4,230.0 138.4,224.9 143.4,222.7" fill="#74BEC4" fill-opacity="0.70"/>
<polygon points="166.4,280.6 152.5,279.6 150.1,272.7" fill="#74BEC4" fill-opacity="0.46"/>
<polygon points="165.7,101.3 150.8,119.2 138.2,107.1 153.1,95.3" fill="#74BEC4" fill-opacity="0.78"/>
<polygon points="35.4,30.8 31.0,38.0 20.7,28.5 30.4,21.2" fill="#74BEC4" fill-opacity="0.52"/>
<polygon points="172.9,292.5 164.1,302.9 161.0,299.6 156.0,292.2 164.2,288.9" fill="#8696CC" fill-opacity="0.43"/>
<polygon points="242.5,235.7 229.2,244.5 234.0,225.7" fill="#74BEC4" fill-opacity="0.43"/>
<polygon points="65.1,232.3 48.7,240.1 49.9,221.4" fill="#8696CC" fill-opacity="0.43"/>
<polygon points="57.4,285.4 52.3,289.6 36.7,287.6 53.0,275.4" fill="#74BEC4" fill-opacity="0.68"/>
<polygon points="157.4,229.8 151.1,232.4 152.8,227.7" fill="#8696CC" fill-opacity="0.53"/>
<polygon points="191.7,84.2 184.4,86.0 183.7,77.7" fill="#74BEC4" fill-opacity="0.43"/>
<polygon points="62.4,166.5 45.2,176.9 32.6,169.5 52.6,155.9" fill="#8696CC" fill-opacity="0.62"/>
<polygon points="121.6,50.6 109.7,54.9 105.4,52.2 104.0,44.4 110.3,37.6" fill="#98D8A2" fill-opacity="0.64"/>
<polygon points="166.6,180.5 159.3,187.1 153.9,189.0 152.1,178.3 161.3,175.8" fill="#8696CC" fill-opacity="0.64"/>
<polygon points="229.3,144.4 220.6,147.1 215.5,141.0 223.3,139.9" fill="#98D8A2" fill-opacity="0.50"/>
<polygon points="210.3,80.4 203.8,82.2 192.6,81.7 195.3,77.6 199.6,73.9" fill="#8696CC" fill-opacity="0.72"/>
<polygon points="205.8,30.1 202.3,34.7 196.8,32.0 199.6,28.8 205.4,28.1" fill="#74BEC4" fill-opacity="0.44"/>
<polygon points="102.8,163.3 93.0,167.9 89.7,160.7" fill="#74BEC4" fill-opacity="0.50"/>
<polygon points="98.9,197.3 92.4,201.7 92.2,195.4" fill="#74BEC4" fill-opacity="0.75"/>
<polygon points="145.1,154.8 135.7,162.5 132.6,149.3" fill="#74BEC4" fill-opacity="0.59"/>
<polygon points="100.1,35.0 83.2,34.3 87.1,24.0" fill="#74BEC4" fill-opacity="0.59"/>
<polygon points="77.1,63.3 61.0,66.7 63.1,56.4" fill="#8696CC" fill-opacity="0.48"/>
<polygon points="41.6,94.9 42.9,102.7 26.5,98.2 19.7,88.3 35.9,88.0" fill="#8696CC" fill-opacity="0.43"/>
<polygon points="133.7,190.0 121.7,192.9 113.5,189.8 127.4,182.6" fill="#8696CC" fill-opacity="0.46"/>
<polygon points="65.1,24.5 59.5,28.4 55.1,22.1" fill="#74BEC4" fill-opacity="0.46"/>
<polygon points="129.9,37.3 127.7,40.9 113.8,41.5 115.9,31.0 126.5,29.7" fill="#74BEC4" fill-opacity="0.74"/>
<polygon points="117.4,110.0 108.4,123.0 92.9,111.9 104.1,105.2" fill="#8696CC" fill-opacity="0.41"/>
<polygon points="80.1,172.2 63.7,180.2 65.5,170.1" fill="#74BEC4" fill-opacity="0.57"/>
<polygon points="206.8,243.3 189.6,244.9 185.2,233.2" fill="#74BEC4" fill-opacity="0.63"/>
<polygon points="46.0,19.2 22.4,27.4 29.6,11.4" fill="#74BEC4" fill-opacity="0.52"/>
<polygon points="44.6,87.5 43.5,95.9 28.2,84.0 38.6,77.4" fill="#8696CC" fill-opacity="0.63"/>
<polygon points="75.4,115.4 62.3,126.0 63.4,111.8" fill="#74BEC4" fill-opacity="0.67"/>
<polygon points="97.4,233.9 89.4,245.4 77.2,234.4 95.8,220.1" fill="#98D8A2" fill-opacity="0.76"/>
<polygon points="67.6,223.7 64.3,227.1 58.6,226.0 63.2,221.8" fill="#74BEC4" fill-opacity="0.67"/>
<polygon points="157.6,281.6 145.5,293.2 134.7,286.2 132.2,281.3 145.1,274.9" fill="#8696CC" fill-opacity="0.54"/>
<polygon points="65.3,84.5 53.2,94.6 43.2,82.0 57.6,79.7" fill="#8696CC" fill-opacity="0.71"/>
<polygon points="20.1,169.2 11.3,173.3 2.0,159.7" fill="#8696CC" fill-opacity="0.51"/>
<polygon points="200.7,79.5 185.1,89.3 183.6,74.5" fill="#74BEC4" fill-opacity="0.43"/>
<polygon points="76.1,28.2 68.4,35.9 66.1,27.6" fill="#74BEC4" fill-opacity="0.46"/>
<polygon points="51.9,186.9 42.1,194.9 33.3,182.4" fill="#98D8A2" fill-opacity="0.72"/>
<polygon points="32.0,56.9 23.2,67.4 17.5,60.6 25.7,52.8" fill="#8696CC" fill-opacity="0.58"/>
<polygon points="160.9,81.8 161.1,87.7 150.4,89.1 151.3,81.4 155.8,75.5" fill="#74BEC4" fill-opacity="0.57"/>
<polygon points="251.3,274.3 232.8,280.7 229.9,272.4 240.4,266.1" fill="#74BEC4" fill-opacity="0.42"/>
<polygon points="154.8,40.9 149.8,44.4 148.4,34.9" fill="#74BEC4" fill-opacity="0.61"/>
<polygon points="214.6,208.8 208.0,213.4 208.6,207.4" fill="#74BEC4" fill-opacity="0.52"/>
<polygon points="93.6,153.2 84.2,155.0 77.7,149.7 85.7,146.6" fill="#8696CC" fill-opacity="0.71"/>
<polygon points="213.3,283.0 208.2,293.2 202.6,286.9 202.0,281.5 211.5,280.7" fill="#8696CC" fill-opacity="0.43"/>
<polygon points="83.8,235.8 73.9,237.8 70.7,228.1" fill="#74BEC4" fill-opacity="0.44"/>
<polygon points="179.5,117.0 172.2,124.2 166.5,122.0 169.4,115.9 174.7,113.3" fill="#98D8A2" fill-opacity="0.58"/>
<polygon points="193.8,52.1 178.2,61.1 175.9,41.5" fill="#74BEC4" fill-opacity="0.78"/>
<polygon points="240.7,191.1 238.3,195.7 221.8,191.9 233.1,185.9" fill="#74BEC4" fill-opacity="0.69"/>
<polygon points="32.1,297.2 19.7,307.0 12.3,297.0 21.3,287.7" fill="#74BEC4" fill-opacity="0.53"/>
<polygon points="199.0,181.5 187.9,187.6 178.8,184.2 174.2,171.1 186.4,167.6" fill="#98D8A2" fill-opacity="0.73"/>
<polygon points="102.8,244.4 84.0,259.1 80.4,248.0 91.9,240.0" fill="#74BEC4" fill-opacity="0.74"/>
<polygon points="121.3,111.0 112.8,122.6 114.1,107.0" fill="#8696CC" fill-opacity="0.71"/>
<polygon points="104.7,188.9 96.5,198.8 85.3,187.2 93.6,183.8" fill="#74BEC4" fill-opacity="0.42"/>
<polygon points="212.1,228.0 205.8,232.0 192.4,227.7 195.1,223.5 205.3,215.5" fill="#74BEC4" fill-opacity="0.77"/>
<polygon points="175.6,48.4 168.8,55.7 163.7,56.0 166.2,47.0 175.9,44.1" fill="#98D8A2" fill-opacity="0.41"/>
<polygon points="33.8,121.2 21.9,124.3 17.3,114.0" fill="#98D8A2" fill-opacity="0.70"/>
<polygon points="65.3,169.7 47.6,174.0 43.7,166.4" fill="#74BEC4" fill-opacity="0.67"/>
<polygon points="217.8,44.9 205.3,51.2 211.7,42.2" fill="#8696CC" fill-opacity="0.42"/>
<polygon points="230.9,175.1 222.3,180.2 220.6,169.3" fill="#74BEC4" fill-opacity="0.65"/>
<polygon points="39.7,16.9 31.2,23.1 22.7,25.9 25.3,7.5 30.4,8.4" fill="#74BEC4" fill-opacity="0.69"/>
<polygon points="151.0,78.1 148.8,78.3 141.1,78.0 141.9,75.5 149.9,71.4" fill="#8696CC" fill-opacity="0.57"/>
<polygon points="98.3,232.3 83.0,243.1 82.9,228.3" fill="#74BEC4" fill-opacity="0.48"/>
<polygon points="156.3,51.2 148.1,58.8 134.6,50.7 145.6,44.0" fill="#74BEC4" fill-opacity="0.57"/>
<polygon points="100.4,123.2 93.2,128.2 82.5,126.0 80.3,123.2 94.6,119.6" fill="#74BEC4" fill-opacity="0.44"/>
<polygon points="162.1,278.1 158.2,282.0 148.0,276.6 154.4,273.4" fill="#74BEC4" fill-opacity="0.57"/>
<polygon points="146.4,76.3 140.6,85.4 138.4,82.2 134.9,74.1 143.3,69.4" fill="#8696CC" fill-opacity="0.46"/>
<polygon points="96.5,165.5 90.0,172.3 84.1,169.2 87.4,161.6" fill="#98D8A2" fill-opacity="0.66"/>
<polygon points="157.9,18.9 155.6,21.1 150.6,17.5 153.5,15.7" fill="#98D8A2" fill-opacity="0.52"/>
<polygon points="76.0,225.9 63.7,227.9 62.4,218.2" fill="#8696CC" fill-opacity="0.76"/>
<polygon points="212.5,126.9 207.0,129.8 197.9,120.2" fill="#74BEC4" fill-opacity="0.75"/>
<polygon points="160.0,48.8 161.3,52.9 150.1,50.9 148.6,43.9 153.5,40.3" fill="#74BEC4" fill-opacity="0.47"/>
<polygon points="227.0,58.6 217.9,67.0 206.6,68.8 209.2,57.1 224.5,55.3" fill="#98D8A2" fill-opacity="0.72"/>
<polygon points="97.9,127.8 93.7,134.0 77.6,133.4 79.1,120.8 92.3,123.1" fill="#98D8A2" fill-opacity="0.74"/>
<polygon points="187.8,74.7 171.1,76.9 162.4,69.8 178.5,57.7" fill="#74BEC4" fill-opacity="0.67"/>
<polygon points="203.9,249.6 193.0,257.1 177.3,248.6 196.3,238.8" fill="#98D8A2" fill-opacity="0.68"/>
<polygon points="132.4,254.2 117.5,260.2 113.8,245.8" fill="#74BEC4" fill-opacity="0.57"/>
<polygon points="40.8,95.6 34.2,101.9 19.9,99.2 32.2,88.3" fill="#74BEC4" fill-opacity="0.75"/>
<polygon points="83.0,237.1 69.5,250.0 56.1,246.0 53.8,230.9 71.8,231.6" fill="#74BEC4" fill-opacity="0.60"/>
<polygon points="190.7,59.3 181.8,67.2 175.3,62.6 177.1,53.7 180.9,46.0" fill="#8696CC" fill-opacity="0.42"/>
<polygon points="227.8,74.6 211.7,81.8 211.7,71.1" fill="#8696CC" fill-opacity="0.75"/>
<polygon points="59.2,159.0 47.6,160.5 51.7,150.3" fill="#74BEC4" fill-opacity="0.47"/>
<polygon points="239.6,234.4 234.1,237.7 226.1,235.4 233.2,229.7" fill="#8696CC" fill-opacity="0.61"/>
<polygon points="60.2,87.4 55.3,94.9 48.2,90.0 55.6,81.2" fill="#74BEC4" fill-opacity="0.45"/>
<polygon points="158.3,57.5 136.0,66.0 140.7,53.9" fill="#98D8A2" fill-opacity="0.55"/>
<polygon points="26.9,75.6 17.5,79.1 11.1,74.2 12.5,67.3 16.5,69.0" fill="#74BEC4" fill-opacity="0.51"/>
<polygon points="58.6,96.6 56.8,101.8 50.2,102.9 49.6,95.2 58.8,94.3" fill="#8696CC" fill-opacity="0.68"/>
<polygon points="173.1,217.0 164.9,222.4 159.7,219.0 166.1,215.3" fill="#74BEC4" fill-opacity="0.42"/>
<polygon points="157.8,293.7 136.5,303.5 141.2,288.0" fill="#98D8A2" fill-opacity="0.49"/>
<polygon points="181.1,37.6 163.8,44.7 164.8,31.4" fill="#8696CC" fill-opacity="0.79"/>
<polygon points="31.8,137.2 19.3,142.7 15.6,138.8 18.6,128.6" fill="#74BEC4" fill-opacity="0.55"/>
<polygon points="204.9,60.3 194.8,65.7 187.6,68.4 182.5,59.4 196.1,52.4" fill="#74BEC4" fill-opacity="0.63"/>
<polygon points="210.3,184.0 199.0,187.3 201.3,177.4" fill="#74BEC4" fill-opacity="0.59"/>
<polygon points="60.0,31.9 50.7,41.9 46.9,29.2" fill="#74BEC4" fill-opacity="0.53"/>
<polygon points="54.2,136.9 56.4,144.5 44.5,140.1 45.9,135.5 51.8,133.0" fill="#98D8A2" fill-opacity="0.44"/>
<polygon points="38.5,225.5 31.2,230.1 29.5,221.6" fill="#8696CC" fill-opacity="0.60"/>
<polygon points="172.2,42.5 160.6,51.1 147.3,44.9 161.6,37.0" fill="#74BEC4" fill-opacity="0.61"/>
<polygon points="32.2,170.6 24.9,178.0 22.9,164.6" fill="#98D8A2" fill-opacity="0.77"/>
<polygon points="34.0,180.1 18.5,188.3 24.4,179.0" fill="#98D8A2" fill-opacity="0.45"/>
<polygon points="179.2,245.0 172.9,249.6 169.7,238.0" fill="#74BEC4" fill-opacity="0.53"/>
<polygon points="58.3,143.0 55.9,148.4 40.8,141.9 36.5,135.2 46.1,135.0" fill="#74BEC4" fill-opacity="0.45"/>
<polygon points="102.5,267.6 89.4,273.8 79.8,265.9 80.6,261.5 94.1,257.3" fill="#98D8A2" fill-opacity="0.53"/>
<polygon points="101.4,158.9 96.7,168.9 88.6,163.3 91.8,152.5" fill="#8696CC" fill-opacity="0.49"/>
<polygon points="120.0,122.1 112.5,126.0 107.6,126.4 105.0,115.8 119.3,115.4" fill="#74BEC4" fill-opacity="0.68"/>
<polygon points="130.0,38.8 111.6,47.9 103.4,34.1" fill="#74BEC4" fill-opacity="0.66"/>
<polygon points="103.2,129.5 93.9,139.6 75.5,136.1 81.4,129.9 88.8,119.5" fill="#74BEC4" fill-opacity="0.64"/>
<polygon points="24.5,51.1 18.8,58.8 15.7,52.9 20.9,48.2" fill="#74BEC4" fill-opacity="0.57"/>
<polygon points="25.7,63.6 10.1,69.1 11.4,56.9" fill="#74BEC4" fill-opacity="0.57"/>
<polygon points="77.1,18.2 67.8,25.5 66.3,15.0" fill="#74BEC4" fill-opacity="0.55"/>
<polygon points="151.4,181.0 146.1,187.6 138.5,182.0 131.4,173.8 148.0,169.9" fill="#74BEC4" fill-opacity="0.44"/>
<polygon points="42.1,74.8 38.7,79.8 34.1,75.9 36.8,71.7" fill="#74BEC4" fill-opacity="0.57"/>
<polygon points="134.1,173.7 132.3,176.3 120.1,175.8 124.5,166.1 131.7,163.6" fill="#74BEC4" fill-opacity="0.59"/>
<polygon points="41.9,91.5 33.2,96.6 31.0,87.0" fill="#8696CC" fill-opacity="0.58"/>
<polygon points="116.5,141.6 104.4,153.5 95.6,142.3 108.5,136.9" fill="#98D8A2" fill-opacity="0.54"/>
<polygon points="99.6,192.3 81.9,200.1 84.7,185.5" fill="#8696CC" fill-opacity="0.51"/>
<polygon points="173.3,44.0 167.0,52.4 160.0,48.0 162.5,41.9" fill="#74BEC4" fill-opacity="0.41"/>
<polygon points="54.6,278.9 46.7,281.2 43.1,276.4 45.5,271.0" fill="#8696CC" fill-opacity="0.42"/>
<polygon points="184.0,90.5 175.2,96.3 157.4,92.8 161.1,87.1 170.5,82.6" fill="#8696CC" fill-opacity="0.45"/>
<polygon points="242.2,241.6 234.4,245.0 224.8,245.1 228.4,233.5 233.2,232.4" fill="#98D8A2" fill-opacity="0.73"/>
<polygon points="31.6,276.2 14.8,285.7 9.1,280.4 11.8,270.9" fill="#98D8A2" fill-opacity="0.69"/>
<polygon points="120.1,80.8 117.5,85.6 110.1,84.9 108.6,81.7 115.4,75.2" fill="#74BEC4" fill-opacity="0.53"/>
<polygon points="223.2,260.9 219.9,268.7 208.8,259.5 218.1,255.3" fill="#98D8A2" fill-opacity="0.58"/>
<polygon points="221.0,126.7 216.8,135.9 205.4,123.8 211.9,118.7" fill="#74BEC4" fill-opacity="0.55"/>
<polygon points="41.4,136.6 29.0,149.1 25.4,141.1 30.2,132.3" fill="#8696CC" fill-opacity="0.58"/>
<polygon points="172.1,130.8 159.1,138.4 154.6,124.1" fill="#74BEC4" fill-opacity="0.46"/>
<polygon points="39.2,95.7 27.9,103.0 19.9,95.5 28.2,86.5" fill="#8696CC" fill-opacity="0.59"/>
<polygon points="152.6,273.7 139.6,279.3 124.8,276.3 132.4,268.9 142.2,261.9" fill="#8696CC" fill-opacity="0.47"/>
<polygon points="51.3,79.3 43.2,82.5 39.7,74.8" fill="#8696CC" fill-opacity="0.56"/>
<polygon points="126.9,44.3 121.7,46.1 117.8,42.4 122.7,40.4" fill="#98D8A2" fill-opacity="0.75"/>
<polygon points="151.7,197.0 137.3,211.8 140.0,193.9" fill="#74BEC4" fill-opacity="0.59"/>
<polygon points="147.8,268.8 143.1,275.0 135.7,271.0 144.0,264.9" fill="#74BEC4" fill-opacity="0.48"/>
<polygon points="41.1,78.7 34.4,84.1 31.3,74.3" fill="#74BEC4" fill-opacity="0.53"/>
<polygon points="171.6,167.2 165.5,178.1 148.2,169.8 148.9,164.4 167.2,160.4" fill="#74BEC4" fill-opacity="0.57"/>
<polygon points="170.5,174.6 150.7,184.7 158.0,169.9" fill="#74BEC4" fill-opacity="0.63"/>
<polygon points="82.8,153.5 62.9,157.7 65.6,150.0" fill="#74BEC4" fill-opacity="0.48"/>
</g>
<polygon points="113.8,316.9 109.4,318.8 105.6,317.5 102.7,311.7 111.2,311.0" fill="#96DC9C" fill-opacity="0.53"/>
<polygon points="100.7,285.4 96.3,292.6 91.5,290.8 91.7,286.8 95.4,285.6" fill="#A2E29C" fill-opacity="0.57"/>
<polygon points="27.0,339.2 18.7,344.6 18.3,333.7" fill="#96DC9C" fill-opacity="0.68"/>
<polygon points="211.5,267.2 196.8,276.4 199.8,264.8" fill="#A2E29C" fill-opacity="0.35"/>
<polygon points="164.9,258.1 159.6,261.4 160.7,254.6" fill="#8AA2CE" fill-opacity="0.49"/>
<polygon points="127.5,424.9 118.1,432.8 112.9,427.7 120.3,421.1" fill="#96DC9C" fill-opacity="0.48"/>
<polygon points="210.7,337.4 205.4,339.1 200.3,338.1 203.2,334.0" fill="#A2E29C" fill-opacity="0.42"/>
<polygon points="156.4,201.0 148.0,206.5 143.0,204.8 151.0,200.0" fill="#84B4C8" fill-opacity="0.40"/>
<polygon points="237.0,397.5 225.2,404.8 227.1,393.1" fill="#96DC9C" fill-opacity="0.39"/>
<polygon points="132.7,412.4 124.1,417.6 121.4,417.4 119.8,408.9 124.7,404.4" fill="#96DC9C" fill-opacity="0.52"/>
<polygon points="150.0,204.4 140.1,214.4 131.0,208.2 132.5,202.3 139.6,199.9" fill="#84B4C8" fill-opacity="0.69"/>
<polygon points="26.3,254.5 13.8,260.2 8.9,248.2 18.4,240.8" fill="#8AA2CE" fill-opacity="0.51"/>
<polygon points="213.9,278.0 212.8,281.8 205.5,283.2 202.8,275.3 215.9,272.3" fill="#A2E29C" fill-opacity="0.55"/>
<polygon points="116.1,290.2 108.2,297.0 98.6,289.2 108.7,286.5" fill="#96DC9C" fill-opacity="0.53"/>
<polygon points="80.2,346.3 75.5,352.5 60.7,351.5 67.4,341.4 72.5,339.8" fill="#96DC9C" fill-opacity="0.67"/>
<polygon points="227.4,227.2 219.4,231.6 216.5,220.5" fill="#8AA2CE" fill-opacity="0.66"/>
<polygon points="103.2,331.2 99.1,336.3 92.3,335.3 91.1,329.5 98.5,328.7" fill="#96DC9C" fill-opacity="0.64"/>
<polygon points="115.6,174.2 102.8,184.9 105.1,172.0" fill="#96DC9C" fill-opacity="0.40"/>
<polygon points="54.3,382.3 52.3,392.0 39.4,388.9 42.4,379.0 54.5,375.9" fill="#A2E29C" fill-opacity="0.61"/>
<polygon points="30.2,408.3 22.6,420.8 12.7,414.7 8.0,407.2 19.8,401.4" fill="#96DC9C" fill-opacity="0.51"/>
<polygon points="205.0,410.7 186.7,421.7 190.1,402.7" fill="#96DC9C" fill-opacity="0.49"/>
<polygon points="24.9,286.2 19.5,289.5 17.3,278.5" fill="#A2E29C" fill-opacity="0.52"/>
<polygon points="127.6,429.9 116.1,436.0 104.4,429.8 115.6,420.4" fill="#96DC9C" fill-opacity="0.59"/>
<polygon points="133.0,391.6 127.2,394.2 122.0,393.2 120.5,386.3 124.2,382.7" fill="#96DC9C" fill-opacity="0.48"/>
<polygon points="128.6,276.0 123.1,279.8 120.7,276.5 120.1,271.9 128.8,269.4" fill="#96DC9C" fill-opacity="0.52"/>
<polygon points="223.7,307.2 222.0,309.6 216.5,305.8 220.0,301.8" fill="#96DC9C" fill-opacity="0.36"/>
<polygon points="29.9,361.6 18.2,367.6 21.5,353.0" fill="#96DC9C" fill-opacity="0.44"/>
<polygon points="218.9,306.2 207.4,320.0 201.6,313.8 203.6,303.5 217.0,301.2" fill="#96DC9C" fill-opacity="0.54"/>
<polygon points="37.8,233.2 30.9,240.4 24.5,235.0 30.7,223.9" fill="#96DC9C" fill-opacity="0.38"/>
<polygon points="92.2,353.1 79.3,359.4 85.6,345.5" fill="#96DC9C" fill-opacity="0.70"/>
<polygon points="51.8,197.4 47.6,204.7 42.2,202.8 41.8,197.6 46.6,197.8" fill="#8AA2CE" fill-opacity="0.45"/>
<polygon points="174.8,390.1 165.7,396.4 156.0,394.0 173.4,378.6" fill="#96DC9C" fill-opacity="0.61"/>
<polygon points="232.4,315.8 228.3,324.8 220.6,319.7 225.7,313.6" fill="#96DC9C" fill-opacity="0.47"/>
<polygon points="109.3,214.7 102.5,223.9 93.7,219.5 104.6,212.0" fill="#8AA2CE" fill-opacity="0.63"/>
<polygon points="163.1,316.5 159.2,321.1 156.1,321.2 153.5,315.5 161.9,313.6" fill="#96DC9C" fill-opacity="0.70"/>
<polygon points="17.8,238.1 0.7,248.4 -7.9,241.2 4.2,232.1" fill="#8AA2CE" fill-opacity="0.54"/>
<polygon points="231.4,211.1 227.0,216.9 217.5,216.7 217.9,208.5 229.6,205.8" fill="#96DC9C" fill-opacity="0.52"/>
<polygon points="191.8,175.8 178.1,181.4 168.1,172.0 174.3,167.5" fill="#8AA2CE" fill-opacity="0.57"/>
<polygon points="116.6,290.0 109.6,302.7 98.6,301.1 90.0,291.4 104.3,288.4" fill="#96DC9C" fill-opacity="0.53"/>
<polygon points="94.1,208.0 85.4,214.4 82.2,208.1 78.0,204.4 91.6,201.0" fill="#84B4C8" fill-opacity="0.57"/>
<polygon points="94.5,238.7 88.3,246.1 82.0,245.4 83.7,238.6 86.5,237.6" fill="#96DC9C" fill-opacity="0.56"/>
<polygon points="16.1,228.6 6.3,232.1 3.1,221.6" fill="#84B4C8" fill-opacity="0.67"/>
<polygon points="207.6,190.7 200.4,193.4 199.8,182.9" fill="#84B4C8" fill-opacity="0.57"/>
<polygon points="72.7,368.3 73.3,370.6 65.2,370.2 64.2,365.2 69.4,364.3" fill="#96DC9C" fill-opacity="0.58"/>
<polygon points="169.9,188.6 161.3,202.5 149.5,192.6 160.2,179.9" fill="#84B4C8" fill-opacity="0.59"/>
<polygon points="173.4,245.9 163.3,247.5 161.2,238.6" fill="#A2E29C" fill-opacity="0.51"/>
<polygon points="98.7,271.1 98.3,274.0 88.4,272.3 91.9,269.8 94.8,267.1" fill="#8AA2CE" fill-opacity="0.63"/>
<polygon points="10.7,386.8 5.1,391.4 2.4,390.2 1.8,385.3 5.6,385.8" fill="#96DC9C" fill-opacity="0.46"/>
<polygon points="192.6,305.6 181.4,314.0 176.4,302.9 186.9,297.7" fill="#96DC9C" fill-opacity="0.47"/>
<polygon points="207.3,379.2 208.8,383.5 201.5,380.1 200.0,378.3 206.6,376.8" fill="#A2E29C" fill-opacity="0.69"/>
<polygon points="99.7,308.3 95.3,309.6 89.2,310.4 91.9,305.4 93.2,304.5" fill="#A2E29C" fill-opacity="0.52"/>
<polygon points="65.9,230.1 42.9,236.6 51.3,222.4" fill="#96DC9C" fill-opacity="0.43"/>
<polygon points="209.1,295.0 197.0,300.5 200.3,290.9" fill="#A2E29C" fill-opacity="0.58"/>
<polygon points="132.6,244.5 121.3,248.8 122.4,233.8" fill="#A2E29C" fill-opacity="0.43"/>
<polygon points="196.0,205.5 193.5,216.4 179.3,218.0 177.5,198.1 184.4,200.5" fill="#A2E29C" fill-opacity="0.40"/>
<polygon points="176.5,195.3 175.3,199.1 163.1,198.8 168.1,193.2 173.7,188.9" fill="#8AA2CE" fill-opacity="0.68"/>
<polygon points="232.1,418.7 230.7,428.4 216.8,419.1 228.8,416.0" fill="#96DC9C" fill-opacity="0.54"/>
<polygon points="116.1,390.5 102.9,397.6 104.5,390.0" fill="#96DC9C" fill-opacity="0.45"/>
<polygon points="94.4,309.2 92.9,312.9 87.1,313.3 86.9,307.6 90.9,307.8" fill="#96DC9C" fill-opacity="0.49"/>
<polygon points="155.4,204.7 147.5,209.6 142.2,199.5" fill="#8AA2CE" fill-opacity="0.42"/>
<polygon points="25.6,408.6 15.1,413.5 10.8,401.7" fill="#96DC9C" fill-opacity="0.58"/>
<polygon points="240.8,374.5 235.4,378.7 231.2,375.9 233.1,370.2" fill="#A2E29C" fill-opacity="0.36"/>
<polygon points="68.3,311.4 62.8,315.1 57.3,311.0 58.1,305.8 61.0,307.3" fill="#96DC9C" fill-opacity="0.56"/>
<polygon points="64.1,321.7 57.6,323.7 52.4,319.5 55.2,313.6" fill="#96DC9C" fill-opacity="0.68"/>
<polygon points="44.8,365.4 35.9,369.4 35.7,360.3" fill="#96DC9C" fill-opacity="0.40"/>
<polygon points="24.9,179.8 17.8,183.1 12.6,180.8 13.7,177.2 17.5,173.9" fill="#84B4C8" fill-opacity="0.68"/>
<polygon points="33.7,276.8 27.2,278.9 25.4,275.5 27.4,270.3" fill="#96DC9C" fill-opacity="0.44"/>
<polygon points="227.5,319.4 219.8,325.4 210.0,313.6 219.4,309.2" fill="#96DC9C" fill-opacity="0.66"/>
<polygon points="225.4,252.1 216.4,260.9 211.4,259.1 208.6,250.7 221.7,249.5" fill="#84B4C8" fill-opacity="0.67"/>
<polygon points="39.3,409.3 21.0,415.2 21.9,400.9" fill="#A2E29C" fill-opacity="0.68"/>
<polygon points="163.1,279.8 155.8,282.9 153.0,276.9" fill="#8AA2CE" fill-opacity="0.53"/>
<polygon points="20.5,401.8 17.4,406.3 11.0,407.8 10.2,397.6 15.2,396.3" fill="#96DC9C" fill-opacity="0.47"/>
<polygon points="173.5,187.7 164.8,190.3 160.8,181.3" fill="#84B4C8" fill-opacity="0.66"/>
<polygon points="21.8,194.5 8.4,204.0 5.8,199.9 10.0,188.9" fill="#8AA2CE" fill-opacity="0.67"/>
<polygon points="53.4,217.2 46.9,228.4 40.9,214.9 45.4,211.9" fill="#84B4C8" fill-opacity="0.63"/>
<polygon points="164.8,290.6 158.3,293.8 155.5,286.9" fill="#84B4C8" fill-opacity="0.38"/>
<polygon points="54.7,212.7 38.8,222.4 44.5,207.7" fill="#96DC9C" fill-opacity="0.63"/>
<polygon points="53.2,314.6 38.1,319.5 42.8,310.0" fill="#96DC9C" fill-opacity="0.58"/>
<polygon points="194.0,214.7 187.2,218.8 177.7,212.3 182.5,205.3" fill="#8AA2CE" fill-opacity="0.50"/>
<polygon points="179.4,321.0 164.1,325.5 167.0,316.4" fill="#96DC9C" fill-opacity="0.40"/>
<polygon points="47.5,334.4 38.9,340.7 38.1,332.2" fill="#A2E29C" fill-opacity="0.57"/>
<polygon points="29.4,384.0 25.2,389.4 12.0,386.9 18.6,379.1 26.3,376.8" fill="#96DC9C" fill-opacity="0.41"/>
<polygon points="40.8,360.9 34.2,371.3 26.9,365.6 38.2,354.5" fill="#A2E29C" fill-opacity="0.35"/>
<polygon points="180.1,228.9 173.3,234.8 172.9,230.6 176.8,223.9" fill="#8AA2CE" fill-opacity="0.43"/>
<polygon points="186.5,316.7 173.4,324.5 172.4,313.9" fill="#A2E29C" fill-opacity="0.67"/>
<polygon points="53.2,312.7 43.2,318.4 34.5,313.0 43.6,308.3" fill="#96DC9C" fill-opacity="0.43"/>
<polygon points="73.8,419.5 69.5,421.0 61.0,423.2 58.9,413.4 71.1,410.0" fill="#96DC9C" fill-opacity="0.61"/>
<polygon points="11.3,255.9 6.2,259.1 0.6,253.8 5.0,250.4" fill="#8AA2CE" fill-opacity="0.66"/>
<polygon points="56.8,278.1 52.8,279.7 45.3,281.2 45.4,274.5 52.9,273.8" fill="#A2E29C" fill-opacity="0.53"/>
<polygon points="78.2,256.1 70.7,266.8 65.3,266.8 65.1,256.3 69.5,252.0" fill="#8AA2CE" fill-opacity="0.36"/>
<polygon points="93.8,373.3 89.8,376.8 85.8,374.9 89.7,370.9" fill="#A2E29C" fill-opacity="0.39"/>
<polygon points="169.1,230.4 156.3,240.3 159.1,228.3" fill="#8AA2CE" fill-opacity="0.50"/>
<polygon points="224.0,406.4 221.2,411.9 211.1,404.8 216.3,400.4" fill="#96DC9C" fill-opacity="0.65"/>
<polygon points="50.0,290.7 51.1,297.6 39.9,294.2 36.2,290.6 47.9,281.9" fill="#A2E29C" fill-opacity="0.48"/>
<polygon points="99.7,376.8 95.7,388.9 86.7,380.3 92.8,371.0" fill="#96DC9C" fill-opacity="0.52"/>
<polygon points="69.9,300.3 60.8,303.0 51.7,307.9 48.8,295.8 57.2,292.3" fill="#96DC9C" fill-opacity="0.57"/>
<polygon points="44.8,257.9 39.9,260.5 34.3,257.2 38.7,253.2" fill="#A2E29C" fill-opacity="0.45"/>
<polygon points="19.6,188.5 14.3,193.7 8.6,188.0 14.2,180.2" fill="#84B4C8" fill-opacity="0.39"/>
<polygon points="174.7,237.6 161.3,239.5 162.2,230.5" fill="#96DC9C" fill-opacity="0.59"/>
<polygon points="158.2,387.2 152.0,391.8 141.4,388.4 145.0,384.5 150.0,380.1" fill="#96DC9C" fill-opacity="0.48"/>
<polygon points="98.5,345.9 89.0,349.5 91.9,340.6" fill="#96DC9C" fill-opacity="0.70"/>
<polygon points="212.1,213.9 205.8,221.8 200.0,218.6 199.2,210.5 205.2,210.9" fill="#8AA2CE" fill-opacity="0.65"/>
<polygon points="36.1,410.7 27.8,420.2 19.5,413.7 22.6,404.4" fill="#96DC9C" fill-opacity="0.39"/>
<polygon points="142.1,209.3 132.5,215.3 131.5,205.8" fill="#84B4C8" fill-opacity="0.58"/>
<polygon points="198.3,271.7 197.7,278.3 186.6,276.6 186.0,271.8 197.9,269.2" fill="#8AA2CE" fill-opacity="0.58"/>
<polygon points="167.9,239.0 164.1,243.8 156.7,239.1 162.9,237.2" fill="#8AA2CE" fill-opacity="0.37"/>
<polygon points="198.0,386.1 191.1,388.2 187.5,384.9 192.1,380.1" fill="#A2E29C" fill-opacity="0.39"/>
<polygon points="162.8,381.5 158.5,383.7 155.0,381.5 156.3,377.7" fill="#A2E29C" fill-opacity="0.47"/>
<polygon points="53.4,260.4 47.9,263.9 49.2,257.7" fill="#8AA2CE" fill-opacity="0.41"/>
<polygon points="218.0,256.0 208.6,261.4 207.0,252.3 210.2,245.0" fill="#96DC9C" fill-opacity="0.70"/>
<polygon points="216.5,372.8 213.3,379.6 204.3,373.9 205.8,368.7 210.9,364.9" fill="#96DC9C" fill-opacity="0.61"/>
<polygon points="169.6,288.0 160.0,291.2 162.6,284.0" fill="#96DC9C" fill-opacity="0.48"/>
<polygon points="21.9,182.5 7.2,190.3 5.4,182.4 15.3,177.6" fill="#8AA2CE" fill-opacity="0.46"/>
<polygon points="60.3,390.3 49.1,393.2 49.4,382.7" fill="#A2E29C" fill-opacity="0.64"/>
<polygon points="114.1,307.7 109.4,316.0 106.1,313.7 101.3,308.3 111.5,307.3" fill="#96DC9C" fill-opacity="0.45"/>
<polygon points="232.5,378.9 220.9,390.8 220.8,370.9" fill="#96DC9C" fill-opacity="0.68"/>
<polygon points="32.5,427.6 23.0,437.1 4.6,431.6 11.5,418.0 17.4,420.3" fill="#A2E29C" fill-opacity="0.66"/>
<polygon points="193.0,215.4 188.4,226.5 171.6,212.6 182.7,207.4" fill="#8AA2CE" fill-opacity="0.45"/>
<polygon points="101.8,206.8 100.4,212.8 91.9,208.4 96.5,204.9" fill="#8AA2CE" fill-opacity="0.64"/>
<polygon points="217.7,419.0 210.6,421.0 204.9,417.9 209.9,409.5" fill="#A2E29C" fill-opacity="0.43"/>
<polygon points="77.2,352.9 68.7,354.9 68.9,342.3" fill="#96DC9C" fill-opacity="0.49"/>
<polygon points="32.6,342.4 21.8,348.0 24.8,337.7" fill="#96DC9C" fill-opacity="0.63"/>
<polygon points="157.7,289.7 159.6,298.3 146.9,295.5 147.5,289.1 150.3,281.8" fill="#96DC9C" fill-opacity="0.46"/>
<polygon points="163.2,373.7 156.5,378.9 150.3,377.5 158.5,368.7" fill="#96DC9C" fill-opacity="0.55"/>
<polygon points="65.5,380.4 58.5,386.5 56.3,382.5 61.3,374.6" fill="#A2E29C" fill-opacity="0.39"/>
<polygon points="191.1,192.8 184.3,199.6 183.0,191.7" fill="#96DC9C" fill-opacity="0.37"/>
<polygon points="19.6,226.6 9.3,231.3 7.7,216.2" fill="#8AA2CE" fill-opacity="0.51"/>
<polygon points="177.2,202.0 168.3,204.7 165.2,197.1" fill="#96DC9C" fill-opacity="0.63"/>
<polygon points="238.4,337.4 228.6,343.0 225.9,332.5" fill="#96DC9C" fill-opacity="0.50"/>
<polygon points="139.2,206.8 137.0,210.3 130.1,208.6 129.3,203.2 133.3,199.1" fill="#A2E29C" fill-opacity="0.38"/>
<polygon points="21.8,304.3 7.3,311.5 9.7,299.3" fill="#96DC9C" fill-opacity="0.43"/>
<polygon points="95.5,324.7 87.3,330.1 87.3,320.0" fill="#A2E29C" fill-opacity="0.48"/>
<polygon points="130.2,307.1 118.4,310.2 111.5,307.1 116.5,298.5" fill="#96DC9C" fill-opacity="0.38"/>
<polygon points="63.5,231.3 58.2,242.1 42.4,234.6 54.7,231.1" fill="#8AA2CE" fill-opacity="0.40"/>
<polygon points="233.0,366.6 222.8,369.4 217.3,368.3 221.4,359.5" fill="#96DC9C" fill-opacity="0.61"/>
<polygon points="176.0,376.7 154.2,386.0 155.3,370.0" fill="#A2E29C" fill-opacity="0.60"/>
<polygon points="168.8,195.6 154.0,203.8 151.8,193.6" fill="#96DC9C" fill-opacity="0.46"/>
<polygon points="165.3,412.0 161.5,414.4 158.4,411.8 161.0,406.9" fill="#A2E29C" fill-opacity="0.49"/>
<polygon points="129.5,271.8 128.3,274.3 120.8,272.8 122.1,269.7 129.3,266.9" fill="#A2E29C" fill-opacity="0.48"/>
<polygon points="70.5,236.6 57.2,239.1 59.3,227.7" fill="#84B4C8" fill-opacity="0.37"/>
<polygon points="80.7,390.3 72.6,395.7 69.6,393.9 63.3,387.8 79.2,384.4" fill="#A2E29C" fill-opacity="0.55"/>
<polygon points="94.8,211.0 81.1,218.2 72.7,209.3 81.0,206.9" fill="#8AA2CE" fill-opacity="0.70"/>
<polygon points="8.1,308.5 -1.2,314.5 0.7,306.8" fill="#96DC9C" fill-opacity="0.44"/>
<polygon points="207.8,313.0 192.9,315.1 188.4,306.5" fill="#96DC9C" fill-opacity="0.63"/>
<polygon points="91.6,375.2 87.7,381.1 84.1,379.0 81.0,370.4 89.5,371.4" fill="#96DC9C" fill-opacity="0.48"/>
<polygon points="11.0,408.7 3.1,417.1 -13.6,411.9 3.1,402.0" fill="#96DC9C" fill-opacity="0.48"/>
<polygon points="200.4,306.6 188.0,310.2 184.8,310.0 184.9,302.4 196.5,298.3" fill="#8AA2CE" fill-opacity="0.41"/>
<polygon points="34.6,409.2 10.0,411.7 12.5,399.1" fill="#96DC9C" fill-opacity="0.45"/>
<polygon points="153.7,344.7 140.7,354.6 132.9,340.0" fill="#A2E29C" fill-opacity="0.68"/>
<polygon points="104.6,206.4 99.7,220.1 91.0,210.9 92.0,205.7 97.4,199.0" fill="#84B4C8" fill-opacity="0.65"/>
<polygon points="70.1,325.0 64.8,327.3 56.5,322.5 65.4,317.6" fill="#96DC9C" fill-opacity="0.59"/>
<polygon points="167.1,327.7 160.5,333.8 160.4,323.2" fill="#96DC9C" fill-opacity="0.55"/>
<polygon points="138.2,187.7 131.7,194.2 118.8,187.3 128.9,182.8" fill="#8AA2CE" fill-opacity="0.43"/>
<polygon points="61.6,430.5 57.7,429.7 51.4,428.7 53.0,427.4 55.7,424.1" fill="#A2E29C" fill-opacity="0.55"/>
<polygon points="61.0,251.0 51.8,264.3 40.0,250.1 53.8,245.1" fill="#8AA2CE" fill-opacity="0.63"/>
<polygon points="35.6,238.7 28.3,246.8 17.7,240.8 28.2,231.8" fill="#96DC9C" fill-opacity="0.41"/>
<polygon points="68.9,192.2 64.3,199.0 52.7,196.9 55.9,190.1 67.3,189.1" fill="#8AA2CE" fill-opacity="0.67"/>
<polygon points="50.4,414.6 46.8,423.8 41.7,413.8 45.0,406.3" fill="#96DC9C" fill-opacity="0.62"/>
<polygon points="153.4,188.4 143.6,189.6 145.7,182.8" fill="#8AA2CE" fill-opacity="0.41"/>
<polygon points="39.0,322.3 30.9,327.0 30.3,319.2 34.6,312.9" fill="#96DC9C" fill-opacity="0.56"/>
<polygon points="79.1,213.1 66.3,217.7 66.3,210.3" fill="#96DC9C" fill-opacity="0.55"/>
<polygon points="185.6,378.6 179.0,381.3 172.9,378.2 180.1,371.0" fill="#A2E29C" fill-opacity="0.58"/>
<polygon points="79.7,282.5 67.2,292.5 54.0,284.5 67.1,277.3" fill="#84B4C8" fill-opacity="0.43"/>
<polygon points="77.0,388.4 66.0,392.5 62.3,382.4" fill="#96DC9C" fill-opacity="0.42"/>
<polygon points="68.7,248.6 67.1,251.4 59.5,249.2 61.5,241.5 67.2,244.7" fill="#96DC9C" fill-opacity="0.52"/>
<polygon points="166.4,199.9 153.9,204.2 157.6,190.8" fill="#A2E29C" fill-opacity="0.46"/>
<polygon points="114.9,277.2 105.7,283.5 98.2,278.8 107.0,269.7" fill="#A2E29C" fill-opacity="0.35"/>
<polygon points="163.1,368.9 155.3,376.1 151.6,372.3 152.7,364.9" fill="#96DC9C" fill-opacity="0.46"/>
<polygon points="143.9,248.7 133.2,252.9 134.5,242.1" fill="#96DC9C" fill-opacity="0.39"/>
<polygon points="64.7,223.8 53.3,226.3 57.6,218.2" fill="#8AA2CE" fill-opacity="0.46"/>
<polygon points="229.7,377.3 219.1,385.4 214.5,373.1 221.3,364.8" fill="#96DC9C" fill-opacity="0.50"/>
<polygon points="137.6,221.9 125.6,226.2 120.7,220.9 120.3,218.2 137.2,210.5" fill="#96DC9C" fill-opacity="0.40"/>
<polygon points="52.4,235.4 47.2,243.5 38.7,234.1 48.0,227.2" fill="#96DC9C" fill-opacity="0.35"/>
<polygon points="156.1,181.2 146.0,188.3 142.6,183.4 150.1,174.0" fill="#8AA2CE" fill-opacity="0.37"/>
<polygon points="216.6,410.3 209.3,415.8 201.2,413.3 204.1,407.7 211.5,404.9" fill="#96DC9C" fill-opacity="0.36"/>
<polygon points="85.1,333.2 74.1,340.9 64.2,332.2 80.8,323.0" fill="#96DC9C" fill-opacity="0.62"/>
<polygon points="23.7,227.6 19.0,232.7 10.5,232.7 12.9,225.5 21.8,224.8" fill="#84B4C8" fill-opacity="0.56"/>
<polygon points="111.5,193.0 101.9,199.2 100.3,189.1" fill="#84B4C8" fill-opacity="0.45"/>
<polygon points="243.9,355.7 231.8,359.6 227.4,353.5 237.4,345.1" fill="#96DC9C" fill-opacity="0.52"/>
<polygon points="75.2,317.4 64.6,328.6 60.4,319.7 56.9,316.1 69.1,310.5" fill="#96DC9C" fill-opacity="0.41"/>
<polygon points="16.6,247.3 8.4,250.8 -1.1,250.7 -2.3,244.5 8.2,241.0" fill="#8AA2CE" fill-opacity="0.35"/>
<polygon points="80.5,397.6 73.4,401.7 65.6,391.7" fill="#96DC9C" fill-opacity="0.41"/>
<polygon points="164.3,247.2 159.9,250.2 151.4,246.1 160.2,239.8" fill="#84B4C8" fill-opacity="0.48"/>
<polygon points="243.1,230.2 240.1,236.2 228.0,226.1 237.7,221.3" fill="#84B4C8" fill-opacity="0.40"/>
<polygon points="194.2,249.0 189.7,261.6 175.1,252.5 182.7,248.7" fill="#96DC9C" fill-opacity="0.37"/>
<polygon points="91.8,428.6 82.5,428.9 78.5,421.7" fill="#A2E29C" fill-opacity="0.37"/>
<polygon points="17.5,371.9 12.7,376.8 10.9,369.1" fill="#96DC9C" fill-opacity="0.44"/>
<polygon points="38.4,389.4 33.7,398.5 21.7,394.3 18.6,385.4 35.9,383.0" fill="#96DC9C" fill-opacity="0.46"/>
<polygon points="208.7,243.0 194.4,249.8 199.5,236.4" fill="#96DC9C" fill-opacity="0.58"/>
<polygon points="184.7,290.0 186.5,298.4 170.0,293.0 166.4,283.4 183.5,276.6" fill="#96DC9C" fill-opacity="0.66"/>
<polygon points="31.3,427.7 17.3,436.5 13.5,430.8 14.3,424.7 21.9,423.2" fill="#96DC9C" fill-opacity="0.49"/>
<polygon points="128.6,409.4 118.9,420.8 115.5,417.8 109.2,410.5 123.8,404.0" fill="#A2E29C" fill-opacity="0.70"/>
<polygon points="47.1,219.7 44.9,221.1 40.0,220.2 45.8,216.1" fill="#96DC9C" fill-opacity="0.41"/>
<polygon points="66.4,385.5 62.2,388.3 59.2,386.4 56.9,382.1 62.4,382.2" fill="#A2E29C" fill-opacity="0.57"/>
<polygon points="227.0,346.3 218.6,355.1 206.1,343.1 219.2,340.6" fill="#96DC9C" fill-opacity="0.43"/>
<polygon points="107.5,322.0 102.5,332.0 91.5,320.4 98.5,314.0" fill="#96DC9C" fill-opacity="0.39"/>
<polygon points="188.5,318.9 181.5,321.5 179.9,312.1" fill="#96DC9C" fill-opacity="0.60"/>
<polygon points="42.0,263.5 37.4,268.4 36.2,265.7 41.2,260.0" fill="#96DC9C" fill-opacity="0.37"/>
<polygon points="226.6,177.2 219.0,187.4 218.4,174.4" fill="#8AA2CE" fill-opacity="0.42"/>
<polygon points="96.7,365.8 92.9,368.6 87.2,365.1 86.0,362.5 90.6,359.5" fill="#96DC9C" fill-opacity="0.46"/>
<polygon points="219.1,412.0 209.8,417.4 206.2,411.8 214.2,404.4" fill="#A2E29C" fill-opacity="0.44"/>
<polygon points="38.7,425.5 26.5,430.5 21.7,430.3 18.5,421.7 27.7,417.5" fill="#A2E29C" fill-opacity="0.48"/>
<polygon points="26.2,372.4 17.7,378.3 21.4,367.8" fill="#96DC9C" fill-opacity="0.55"/>
<polygon points="93.0,351.4 88.9,358.0 80.6,353.5 83.9,348.0 90.5,341.2" fill="#A2E29C" fill-opacity="0.42"/>
<polygon points="197.6,215.8 190.8,221.2 188.0,215.6 194.8,209.0" fill="#8AA2CE" fill-opacity="0.59"/>
<polygon points="57.4,328.0 45.4,337.2 42.1,323.1" fill="#96DC9C" fill-opacity="0.49"/>
<polygon points="44.0,341.7 33.5,351.5 19.7,344.9 30.4,338.8" fill="#96DC9C" fill-opacity="0.51"/>
<polygon points="31.2,355.1 25.1,361.9 10.8,356.8 12.1,348.4 26.2,345.6" fill="#A2E29C" fill-opacity="0.48"/>
<polygon points="7.9,294.0 4.3,296.8 -4.6,294.9 -3.9,292.8 3.7,289.9" fill="#A2E29C" fill-opacity="0.53"/>
<polygon points="239.4,344.6 229.3,358.6 224.9,344.2" fill="#A2E29C" fill-opacity="0.65"/>
<polygon points="109.1,329.3 103.9,330.1 97.1,327.9 98.2,319.5" fill="#96DC9C" fill-opacity="0.45"/>
<polygon points="182.6,314.6 174.4,320.1 172.1,310.8" fill="#96DC9C" fill-opacity="0.41"/>
<polygon points="84.3,274.4 82.4,279.7 74.7,275.1 74.7,273.2 79.7,271.6" fill="#A2E29C" fill-opacity="0.64"/>
<polygon points="106.2,412.2 104.7,417.1 92.0,413.7 94.6,410.1 104.8,404.4" fill="#A2E29C" fill-opacity="0.43"/>
<polygon points="235.8,228.2 221.6,234.8 214.6,220.6" fill="#8AA2CE" fill-opacity="0.43"/>
<polygon points="153.9,205.5 152.7,212.9 133.8,205.6 138.2,201.9 148.1,195.5" fill="#8AA2CE" fill-opacity="0.56"/>
<polygon points="68.2,348.4 58.4,353.6 60.9,345.7" fill="#96DC9C" fill-opacity="0.59"/>
<polygon points="34.1,206.9 32.7,215.3 17.4,202.7 33.1,198.0" fill="#84B4C8" fill-opacity="0.38"/>
<polygon points="76.5,293.6 71.6,299.6 68.6,296.8 73.8,290.8" fill="#96DC9C" fill-opacity="0.62"/>
<polygon points="17.9,276.3 14.0,284.7 5.7,283.1 3.6,277.1 14.6,274.5" fill="#A2E29C" fill-opacity="0.48"/>
<polygon points="223.7,416.2 216.1,426.0 205.4,416.9 216.1,409.6" fill="#A2E29C" fill-opacity="0.52"/>
<polygon points="201.4,193.0 197.6,198.7 194.8,193.7 197.3,190.2" fill="#8AA2CE" fill-opacity="0.41"/>
<polygon points="128.8,269.1 121.9,275.6 112.8,274.3 108.2,265.0 117.7,263.1" fill="#96DC9C" fill-opacity="0.47"/>
<polygon points="55.7,306.1 46.6,312.5 39.3,311.2 45.0,304.9 47.1,304.6" fill="#96DC9C" fill-opacity="0.70"/>
<polygon points="61.8,402.9 55.3,407.6 53.0,403.0 57.2,399.1" fill="#96DC9C" fill-opacity="0.39"/>
<polygon points="125.4,417.0 121.2,419.7 117.7,412.9" fill="#A2E29C" fill-opacity="0.59"/>
<polygon points="206.1,178.7 199.8,180.5 198.2,175.0" fill="#8AA2CE" fill-opacity="0.46"/>
<polygon points="191.3,220.2 185.0,223.4 177.7,219.2 185.3,214.4" fill="#A2E29C" fill-opacity="0.42"/>
<polygon points="207.9,407.3 192.2,416.9 193.8,404.1" fill="#A2E29C" fill-opacity="0.68"/>
<polygon points="144.6,252.3 138.2,257.8 138.5,248.4" fill="#8AA2CE" fill-opacity="0.63"/>
<polygon points="24.4,232.6 13.1,244.0 13.3,227.7" fill="#96DC9C" fill-opacity="0.43"/>
<polygon points="113.2,181.2 111.2,183.5 107.3,183.1 107.3,178.9 110.7,178.0" fill="#84B4C8" fill-opacity="0.38"/>
<polygon points="11.8,195.2 2.2,202.3 1.3,195.3 3.9,188.5" fill="#96DC9C" fill-opacity="0.52"/>
<polygon points="225.8,388.0 216.5,391.7 211.7,393.7 212.1,383.0 221.6,381.4" fill="#A2E29C" fill-opacity="0.67"/>
<polygon points="35.3,336.1 26.1,339.9 19.6,339.6 21.0,330.4 26.3,329.5" fill="#96DC9C" fill-opacity="0.46"/>
<polygon points="64.8,214.6 61.1,218.0 54.4,214.3 58.2,211.1" fill="#8AA2CE" fill-opacity="0.51"/>
<polygon points="12.5,362.2 0.7,369.4 1.8,358.6" fill="#96DC9C" fill-opacity="0.60"/>
<polygon points="24.7,223.5 17.7,227.1 19.6,221.7" fill="#A2E29C" fill-opacity="0.36"/>
<polygon points="229.8,322.0 215.8,326.7 203.2,323.9 213.4,310.8" fill="#96DC9C" fill-opacity="0.67"/>
<polygon points="36.6,176.4 24.4,187.9 23.4,181.5 29.6,173.3" fill="#8AA2CE" fill-opacity="0.58"/>
<polygon points="223.7,424.0 214.8,432.9 208.5,429.8 212.1,424.0 216.8,420.2" fill="#A2E29C" fill-opacity="0.58"/>
<polygon points="178.5,210.2 166.4,213.9 165.4,207.2" fill="#A2E29C" fill-opacity="0.64"/>
<polygon points="153.8,363.6 144.0,363.0 142.7,355.7" fill="#96DC9C" fill-opacity="0.47"/>
<polygon points="28.6,410.8 19.1,415.5 13.0,417.6 9.0,402.8 22.0,401.2" fill="#96DC9C" fill-opacity="0.62"/>
<polygon points="189.8,429.2 181.6,432.2 176.7,422.6" fill="#A2E29C" fill-opacity="0.49"/>
<polygon points="151.6,361.7 141.1,371.3 133.0,364.7 135.6,353.0" fill="#96DC9C" fill-opacity="0.53"/>
<polygon points="79.0,300.1 63.6,302.1 69.8,293.1" fill="#96DC9C" fill-opacity="0.54"/>
<polygon points="83.9,265.4 76.5,276.5 67.3,277.4 68.6,264.5 80.5,263.2" fill="#96DC9C" fill-opacity="0.38"/>
<polygon points="26.3,346.8 18.1,348.2 9.0,346.6 13.6,339.5 20.4,337.1" fill="#96DC9C" fill-opacity="0.46"/>
<polygon points="118.3,303.9 115.3,307.9 112.4,305.3 110.7,302.6 115.1,299.6" fill="#96DC9C" fill-opacity="0.60"/>
<polygon points="227.7,348.0 221.9,356.0 212.3,343.2 220.9,341.7" fill="#A2E29C" fill-opacity="0.60"/>
<polygon points="105.2,223.0 95.7,228.5 87.0,229.3 90.6,221.7 93.3,215.2" fill="#96DC9C" fill-opacity="0.38"/>
<polygon points="44.6,321.2 43.2,328.9 32.9,319.3 39.8,315.0" fill="#96DC9C" fill-opacity="0.66"/>
<polygon points="174.6,390.2 168.8,393.4 159.1,384.5 163.7,381.6" fill="#96DC9C" fill-opacity="0.40"/>
<polygon points="215.5,263.2 212.0,265.9 207.8,263.1 212.6,257.4" fill="#8AA2CE" fill-opacity="0.42"/>
<polygon points="40.6,321.8 28.8,324.6 22.6,321.7 28.2,313.2" fill="#96DC9C" fill-opacity="0.54"/>
<polygon points="29.7,353.2 20.3,356.1 8.9,354.9 16.3,348.9 21.1,345.3" fill="#96DC9C" fill-opacity="0.39"/>
<polygon points="197.1,325.8 185.7,332.0 190.1,322.6" fill="#96DC9C" fill-opacity="0.57"/>
<polygon points="117.3,277.2 108.2,281.9 104.4,278.2 99.3,272.5 111.4,265.4" fill="#A2E29C" fill-opacity="0.41"/>
<polygon points="78.5,282.5 67.0,287.2 63.0,281.4 69.7,277.5" fill="#A2E29C" fill-opacity="0.61"/>
<polygon points="242.6,366.3 236.0,372.7 233.2,366.9 238.0,362.8" fill="#96DC9C" fill-opacity="0.38"/>
<polygon points="34.3,190.4 28.7,196.1 23.0,193.4 25.0,187.9 28.1,187.2" fill="#8AA2CE" fill-opacity="0.64"/>
<polygon points="33.9,364.0 21.7,369.6 19.1,362.8" fill="#96DC9C" fill-opacity="0.41"/>
<polygon points="201.3,394.6 190.3,401.2 191.8,393.3" fill="#96DC9C" fill-opacity="0.55"/>
<polygon points="55.6,363.8 41.9,368.9 42.4,360.1" fill="#96DC9C" fill-opacity="0.54"/>
<polygon points="154.9,231.9 144.0,239.1 140.6,230.3 149.4,227.8" fill="#84B4C8" fill-opacity="0.40"/>
<polygon points="148.3,251.7 140.5,258.6 137.3,257.5 136.4,250.4 145.4,248.6" fill="#8AA2CE" fill-opacity="0.44"/>
<polygon points="17.7,217.8 12.3,220.2 2.8,218.0 -0.1,212.4 7.9,210.2" fill="#96DC9C" fill-opacity="0.45"/>
<polygon points="76.9,224.4 61.2,227.4 60.6,218.5" fill="#8AA2CE" fill-opacity="0.53"/>
<polygon points="136.3,307.2 127.6,312.8 116.0,307.4 127.3,301.9" fill="#96DC9C" fill-opacity="0.68"/>
<polygon points="234.5,423.5 226.6,432.9 220.4,427.3 232.3,420.1" fill="#A2E29C" fill-opacity="0.57"/>
<polygon points="208.0,341.9 201.9,352.6 194.6,349.6 196.9,343.1 200.8,336.3" fill="#A2E29C" fill-opacity="0.44"/>
<polygon points="48.9,319.6 43.9,321.3 40.6,317.4 43.1,313.9" fill="#96DC9C" fill-opacity="0.58"/>
<polygon points="220.1,198.0 210.1,205.0 199.6,204.6 199.6,198.3 210.7,194.4" fill="#96DC9C" fill-opacity="0.54"/>
<polygon points="46.4,231.2 36.1,234.2 29.8,229.4 39.6,225.0" fill="#8AA2CE" fill-opacity="0.56"/>
<polygon points="109.6,428.4 106.9,431.6 99.1,429.6 97.7,422.2 106.3,423.9" fill="#A2E29C" fill-opacity="0.56"/>
<polygon points="242.7,176.1 230.9,183.8 230.0,167.0" fill="#84B4C8" fill-opacity="0.45"/>
<polygon points="102.5,296.3 92.0,299.0 91.2,289.4" fill="#A2E29C" fill-opacity="0.61"/>
<polygon points="227.6,293.3 223.9,299.3 218.1,295.9 218.0,289.6" fill="#96DC9C" fill-opacity="0.63"/>
<polygon points="67.7,397.7 60.1,402.2 59.1,396.8" fill="#96DC9C" fill-opacity="0.52"/>
<polygon points="137.4,223.2 128.0,228.0 123.6,215.9" fill="#84B4C8" fill-opacity="0.51"/>
<polygon points="110.8,305.5 100.0,316.0 97.8,300.8" fill="#84B4C8" fill-opacity="0.65"/>
<polygon points="232.4,289.0 225.0,290.9 225.1,280.2" fill="#96DC9C" fill-opacity="0.49"/>
<polygon points="60.6,260.4 55.0,270.0 42.0,262.7 51.7,252.6" fill="#96DC9C" fill-opacity="0.64"/>
<polygon points="137.3,198.3 133.2,201.3 129.2,200.6 122.3,196.0 136.9,193.4" fill="#8AA2CE" fill-opacity="0.45"/>
<polygon points="9.5,358.0 -2.2,364.8 -3.5,357.4" fill="#96DC9C" fill-opacity="0.62"/>
<polygon points="52.9,305.1 46.2,311.7 36.8,310.7 39.6,303.5 43.4,297.5" fill="#A2E29C" fill-opacity="0.45"/>
<polygon points="220.7,406.0 214.0,410.0 209.8,406.4 216.1,398.9" fill="#96DC9C" fill-opacity="0.37"/>
<polygon points="87.1,254.4 69.1,255.6 70.8,244.2" fill="#96DC9C" fill-opacity="0.57"/>
<polygon points="82.0,387.4 75.0,392.1 67.3,388.7 72.4,380.2" fill="#96DC9C" fill-opacity="0.53"/>
<polygon points="201.5,343.2 196.0,346.0 186.9,345.7 181.8,334.8 191.9,331.9" fill="#A2E29C" fill-opacity="0.47"/>
<polygon points="41.1,236.6 39.7,242.0 25.7,238.0 30.7,233.5 38.4,232.1" fill="#8AA2CE" fill-opacity="0.56"/>
<polygon points="126.9,431.2 123.0,434.4 112.9,432.4 114.3,425.5 119.0,424.0" fill="#96DC9C" fill-opacity="0.65"/>
<polygon points="14.2,305.5 5.1,313.3 2.0,308.2 1.3,303.8 6.1,302.9" fill="#96DC9C" fill-opacity="0.67"/>
<polygon points="80.3,262.9 69.3,272.2 66.8,259.0" fill="#8AA2CE" fill-opacity="0.44"/>
<polygon points="214.2,353.3 210.8,357.5 203.5,354.3 211.0,347.7" fill="#A2E29C" fill-opacity="0.68"/>
<polygon points="7.7,359.0 -0.1,362.6 -2.4,359.4 4.6,354.7" fill="#96DC9C" fill-opacity="0.68"/>
<polygon points="68.7,311.6 55.9,318.1 49.0,308.2 57.5,303.8" fill="#A2E29C" fill-opacity="0.38"/>
<polygon points="108.4,353.7 95.3,357.9 94.4,346.4" fill="#A2E29C" fill-opacity="0.61"/>
<polygon points="127.8,350.2 120.5,354.3 120.4,346.7" fill="#96DC9C" fill-opacity="0.59"/>
<polygon points="231.3,411.7 227.2,420.0 222.1,415.4 219.4,410.4 225.4,410.4" fill="#96DC9C" fill-opacity="0.61"/>
<polygon points="63.6,249.5 55.8,255.8 53.2,250.3 58.2,249.5" fill="#96DC9C" fill-opacity="0.51"/>
<polygon points="112.9,331.2 110.9,336.8 95.1,332.5 95.7,321.8 112.3,322.5" fill="#A2E29C" fill-opacity="0.47"/>
<polygon points="83.0,303.5 79.1,308.1 75.2,302.3 79.9,301.3" fill="#A2E29C" fill-opacity="0.48"/>
<polygon points="171.9,409.6 158.3,423.6 147.0,408.3 156.8,400.0" fill="#96DC9C" fill-opacity="0.53"/>
<polygon points="117.7,197.2 116.7,203.4 109.0,197.6 116.1,194.0" fill="#96DC9C" fill-opacity="0.42"/>
<polygon points="116.5,413.9 116.9,418.0 106.2,416.1 104.4,409.2 112.8,406.1" fill="#96DC9C" fill-opacity="0.61"/>
<polygon points="187.8,429.1 181.6,430.4 171.8,424.3 181.5,422.6" fill="#96DC9C" fill-opacity="0.57"/>
<polygon points="187.0,171.8 177.4,177.3 177.1,168.5" fill="#8AA2CE" fill-opacity="0.68"/>
<polygon points="71.3,204.5 60.3,210.1 53.4,208.2 55.5,195.5 67.1,197.7" fill="#96DC9C" fill-opacity="0.61"/>
<polygon points="229.4,400.3 217.3,404.6 203.0,399.8 208.8,388.4 225.1,390.0" fill="#96DC9C" fill-opacity="0.56"/>
<polygon points="76.2,188.8 65.8,197.1 68.0,185.8" fill="#A2E29C" fill-opacity="0.58"/>
<polygon points="10.3,290.3 5.3,291.1 -0.9,293.1 -1.2,284.0 6.7,278.3" fill="#8AA2CE" fill-opacity="0.56"/>
<polygon points="244.0,219.2 237.4,227.8 231.2,224.0 229.0,219.4 235.0,211.1" fill="#96DC9C" fill-opacity="0.69"/>
<polygon points="231.1,343.9 224.1,349.8 214.9,349.9 215.2,342.3 222.5,340.7" fill="#A2E29C" fill-opacity="0.54"/>
<polygon points="208.8,405.1 202.2,408.4 198.1,406.0 204.5,401.1" fill="#96DC9C" fill-opacity="0.45"/>
<polygon points="77.4,202.4 66.0,209.3 67.1,196.1" fill="#8AA2CE" fill-opacity="0.52"/>
<polygon points="34.9,188.1 33.9,194.9 21.5,193.7 25.0,185.3 29.6,183.0" fill="#8AA2CE" fill-opacity="0.43"/>
<polygon points="229.6,330.5 224.5,337.4 217.1,335.5 215.9,327.7 225.8,325.7" fill="#96DC9C" fill-opacity="0.36"/>
<polygon points="38.1,273.6 34.9,280.7 30.6,275.0 34.8,268.5" fill="#96DC9C" fill-opacity="0.58"/>
<polygon points="40.3,226.0 33.3,232.3 29.4,228.9 31.0,225.0 37.6,224.1" fill="#96DC9C" fill-opacity="0.36"/>
<polygon points="130.5,231.8 112.9,240.0 111.0,229.9" fill="#8AA2CE" fill-opacity="0.58"/>
<polygon points="80.2,188.7 76.9,194.8 65.4,187.8 73.5,184.0" fill="#8AA2CE" fill-opacity="0.51"/>
<polygon points="42.6,201.7 30.9,211.2 24.0,199.9 36.0,194.6" fill="#A2E29C" fill-opacity="0.50"/>
<polygon points="170.9,409.0 170.6,413.2 162.1,412.7 161.2,406.1 165.7,401.8" fill="#A2E29C" fill-opacity="0.54"/>
<polygon points="124.9,358.0 119.0,361.6 112.5,357.4 121.2,353.9" fill="#A2E29C" fill-opacity="0.49"/>
<polygon points="200.1,343.0 191.6,346.4 194.8,340.9" fill="#A2E29C" fill-opacity="0.37"/>
<polygon points="60.6,398.4 51.4,401.7 52.1,391.2" fill="#A2E29C" fill-opacity="0.37"/>
<polygon points="247.1,192.2 239.8,202.1 227.2,197.8 226.2,193.1 236.2,188.8" fill="#A2E29C" fill-opacity="0.68"/>
<polygon points="213.1,180.4 205.3,181.1 204.8,174.3" fill="#8AA2CE" fill-opacity="0.58"/>
<polygon points="22.1,188.3 11.2,200.2 11.9,186.2" fill="#84B4C8" fill-opacity="0.40"/>
<polygon points="81.5,349.1 81.3,356.6 65.4,347.8 77.1,340.9" fill="#96DC9C" fill-opacity="0.41"/>
<polygon points="48.5,365.4 46.2,368.7 41.1,367.1 38.3,364.8 44.9,362.1" fill="#A2E29C" fill-opacity="0.40"/>
<polygon points="131.3,182.4 131.3,190.5 119.4,188.0 121.3,180.5 128.6,180.0" fill="#84B4C8" fill-opacity="0.39"/>
<polygon points="70.0,374.1 57.8,383.4 48.8,376.5 58.9,369.7" fill="#96DC9C" fill-opacity="0.47"/>
<polygon points="117.6,233.7 110.1,242.7 103.7,242.2 105.0,235.3 107.7,229.8" fill="#8AA2CE" fill-opacity="0.42"/>
<polygon points="95.7,215.6 90.8,218.9 86.1,216.0 88.6,211.7" fill="#96DC9C" fill-opacity="0.37"/>
<polygon points="88.1,249.7 69.9,253.9 78.0,242.9" fill="#84B4C8" fill-opacity="0.38"/>
<polygon points="17.4,314.1 14.7,314.2 4.4,312.6 7.3,307.3 10.4,304.9" fill="#A2E29C" fill-opacity="0.70"/>
<polygon points="84.2,369.5 76.5,376.3 67.5,374.1 66.8,368.3 80.3,363.2" fill="#96DC9C" fill-opacity="0.53"/>
<polygon points="121.9,188.9 110.5,192.5 109.4,180.3" fill="#84B4C8" fill-opacity="0.45"/>
<polygon points="115.1,393.3 103.6,400.1 95.4,392.6 104.2,387.9" fill="#96DC9C" fill-opacity="0.63"/>
<polygon points="182.9,313.5 167.7,322.2 161.0,311.1" fill="#96DC9C" fill-opacity="0.64"/>
<polygon points="191.9,355.1 184.4,357.9 183.3,352.9" fill="#96DC9C" fill-opacity="0.63"/>
<polygon points="47.1,187.7 34.4,193.8 28.6,190.3 28.0,180.3 39.4,177.8" fill="#84B4C8" fill-opacity="0.55"/>
<polygon points="62.9,192.9 61.4,194.0 54.9,192.3 54.6,190.0 60.8,186.6" fill="#8AA2CE" fill-opacity="0.68"/>
<polygon points="118.5,373.2 110.4,383.0 102.2,379.0 105.2,373.0 110.9,368.3" fill="#96DC9C" fill-opacity="0.60"/>
<polygon points="160.6,291.2 143.8,295.2 136.3,286.8 146.5,284.0" fill="#8AA2CE" fill-opacity="0.65"/>
<polygon points="159.1,362.0 148.6,366.1 139.7,361.7 149.1,350.8" fill="#A2E29C" fill-opacity="0.38"/>
<polygon points="157.0,408.3 149.8,412.9 144.5,408.9 149.9,403.1" fill="#96DC9C" fill-opacity="0.38"/>
<polygon points="242.4,176.6 235.5,181.2 226.3,175.5 236.1,166.3" fill="#96DC9C" fill-opacity="0.53"/>
<polygon points="210.9,256.8 206.2,259.4 200.6,257.9 199.2,254.3 206.1,248.5" fill="#A2E29C" fill-opacity="0.52"/>
<polygon points="57.8,187.7 47.1,194.7 46.6,183.5" fill="#84B4C8" fill-opacity="0.69"/>
<polygon points="137.6,430.4 118.2,433.6 118.3,416.5" fill="#96DC9C" fill-opacity="0.47"/>
<polygon points="147.1,175.9 134.5,185.0 130.7,174.4 135.3,173.0" fill="#84B4C8" fill-opacity="0.60"/>
<polygon points="37.0,200.8 23.1,205.5 17.2,191.1" fill="#8AA2CE" fill-opacity="0.57"/>
<polygon points="188.6,423.2 182.9,437.0 166.5,429.3 171.2,425.7 181.7,422.4" fill="#96DC9C" fill-opacity="0.61"/>
<polygon points="178.2,429.0 170.6,434.3 171.2,425.2" fill="#A2E29C" fill-opacity="0.52"/>
<polygon points="157.1,378.9 155.3,383.4 151.3,381.1 152.3,376.9 157.4,375.1" fill="#96DC9C" fill-opacity="0.57"/>
<polygon points="196.7,179.2 189.8,182.2 186.9,174.8" fill="#8AA2CE" fill-opacity="0.64"/>
<polygon points="145.6,275.9 139.0,281.4 130.7,280.5 134.7,273.0 137.9,271.4" fill="#A2E29C" fill-opacity="0.38"/>
<polygon points="234.7,270.1 227.8,276.7 221.7,268.7 230.7,265.1" fill="#A2E29C" fill-opacity="0.59"/>
<polygon points="55.1,312.9 45.9,317.0 47.9,304.3" fill="#A2E29C" fill-opacity="0.63"/>
<polygon points="128.7,202.3 123.9,209.0 110.5,201.1 125.3,193.6" fill="#8AA2CE" fill-opacity="0.49"/>
<polygon points="228.2,301.5 222.9,308.1 216.4,303.1 219.3,299.1 224.7,298.0" fill="#96DC9C" fill-opacity="0.42"/>
<polygon points="94.9,321.7 92.3,325.9 85.8,324.5 87.8,320.1 93.6,318.6" fill="#A2E29C" fill-opacity="0.54"/>
<polygon points="74.8,412.4 60.4,415.4 57.4,404.5" fill="#96DC9C" fill-opacity="0.54"/>
<polygon points="209.8,312.8 200.6,322.3 192.2,315.8 195.1,310.8 202.5,304.8" fill="#A2E29C" fill-opacity="0.54"/>
<polygon points="133.9,275.1 124.6,279.5 125.9,269.4" fill="#8AA2CE" fill-opacity="0.51"/>
<polygon points="74.8,235.6 73.8,239.9 70.2,237.4 69.5,234.0 74.2,231.9" fill="#8AA2CE" fill-opacity="0.65"/>
<polygon points="134.0,351.9 120.8,358.2 123.1,343.6" fill="#96DC9C" fill-opacity="0.45"/>
<polygon points="172.1,384.0 165.5,388.1 166.3,380.1" fill="#A2E29C" fill-opacity="0.39"/>
<polygon points="129.0,220.5 117.5,228.4 114.2,217.8" fill="#84B4C8" fill-opacity="0.54"/>
<polygon points="36.1,353.7 25.5,357.7 18.4,353.0 22.2,343.3" fill="#96DC9C" fill-opacity="0.46"/>
<polygon points="210.7,223.4 200.8,228.9 192.2,225.4 200.1,218.0" fill="#84B4C8" fill-opacity="0.37"/>
<polygon points="102.6,278.5 103.9,281.9 96.1,279.3 97.0,272.9 101.9,275.6" fill="#84B4C8" fill-opacity="0.46"/>
<polygon points="73.3,323.9 67.4,329.6 58.7,324.3 60.0,318.1 63.9,314.7" fill="#96DC9C" fill-opacity="0.48"/>
<polygon points="215.5,407.1 203.2,407.5 195.2,400.4 204.8,394.8" fill="#A2E29C" fill-opacity="0.36"/>
<polygon points="119.5,356.5 112.8,363.0 105.5,360.7 102.4,351.9 114.1,345.7" fill="#96DC9C" fill-opacity="0.39"/>
<polygon points="79.0,174.9 79.1,178.4 71.3,175.7 71.4,171.5 77.1,171.0" fill="#8AA2CE" fill-opacity="0.61"/>
<polygon points="179.3,345.7 174.6,352.6 170.1,351.9 172.2,343.7 173.1,340.7" fill="#96DC9C" fill-opacity="0.65"/>
<polygon points="219.1,314.7 207.6,320.9 204.7,313.0 209.1,303.5" fill="#96DC9C" fill-opacity="0.55"/>
<polygon points="160.1,187.6 154.9,192.3 147.2,186.4 152.7,184.1" fill="#8AA2CE" fill-opacity="0.56"/>
<polygon points="19.7,350.9 9.8,359.7 1.1,350.3 9.3,338.3" fill="#96DC9C" fill-opacity="0.36"/>
<polygon points="160.1,366.1 155.0,371.3 151.0,369.9 151.6,366.5 156.3,364.3" fill="#96DC9C" fill-opacity="0.52"/>
<polygon points="210.8,239.5 206.7,243.8 192.6,236.3 204.3,228.0" fill="#96DC9C" fill-opacity="0.66"/>
<polygon points="107.8,371.4 102.4,374.6 98.6,370.3 99.2,365.8 107.4,364.4" fill="#96DC9C" fill-opacity="0.61"/>
<polygon points="140.7,359.8 135.1,362.3 128.9,354.8" fill="#96DC9C" fill-opacity="0.66"/>
<polygon points="219.6,354.6 213.5,361.6 206.8,358.4 210.5,353.7 216.5,353.2" fill="#A2E29C" fill-opacity="0.44"/>
<polygon points="155.1,301.6 152.7,307.2 144.0,302.2 146.6,295.6" fill="#96DC9C" fill-opacity="0.69"/>
<polygon points="240.0,346.6 232.8,352.9 226.4,347.3 235.8,340.4" fill="#A2E29C" fill-opacity="0.51"/>
<polygon points="194.6,303.2 193.5,307.8 184.9,305.2 188.3,299.3" fill="#A2E29C" fill-opacity="0.50"/>
<polygon points="34.8,387.6 22.7,394.7 14.7,388.7 21.4,376.1" fill="#96DC9C" fill-opacity="0.56"/>
<polygon points="201.2,421.8 187.9,429.7 176.9,420.2 186.4,410.1" fill="#A2E29C" fill-opacity="0.42"/>
<polygon points="28.5,392.5 26.5,400.1 16.0,394.5 13.6,389.8 22.8,386.2" fill="#A2E29C" fill-opacity="0.52"/>
<polygon points="107.0,321.3 96.3,331.0 91.7,323.6 97.3,311.3" fill="#96DC9C" fill-opacity="0.61"/>
<polygon points="246.0,354.5 233.2,360.9 238.1,351.6" fill="#A2E29C" fill-opacity="0.67"/>
<polygon points="241.7,298.0 230.4,304.1 231.0,297.2" fill="#A2E29C" fill-opacity="0.59"/>
<polygon points="236.5,392.2 231.6,403.1 221.6,399.0 220.4,392.0 229.3,392.0" fill="#96DC9C" fill-opacity="0.48"/>
<polygon points="167.5,281.4 161.3,290.7 148.1,286.6 155.1,275.6" fill="#8AA2CE" fill-opacity="0.46"/>
<polygon points="39.0,252.1 33.6,254.3 28.1,253.2 26.8,248.4 35.8,248.3" fill="#8AA2CE" fill-opacity="0.68"/>
<polygon points="174.0,365.8 164.4,374.3 150.1,371.4 151.6,357.1 159.3,356.2" fill="#A2E29C" fill-opacity="0.39"/>
<polygon points="134.5,272.1 131.0,282.2 122.3,281.4 119.3,270.1 126.0,269.9" fill="#84B4C8" fill-opacity="0.70"/>
<polygon points="170.1,268.7 158.1,272.3 161.6,262.6" fill="#A2E29C" fill-opacity="0.47"/>
<polygon points="135.3,345.5 124.7,357.0 119.9,345.7" fill="#96DC9C" fill-opacity="0.51"/>
<polygon points="62.0,327.4 54.3,337.2 53.1,323.9" fill="#A2E29C" fill-opacity="0.53"/>
<polygon points="117.2,236.3 111.8,239.4 106.8,238.2 106.7,233.8 113.9,231.9" fill="#8AA2CE" fill-opacity="0.57"/>
<polygon points="237.8,419.5 230.6,425.0 231.8,417.4" fill="#A2E29C" fill-opacity="0.63"/>
<polygon points="159.5,334.0 150.6,337.7 146.9,333.0 149.5,326.8" fill="#A2E29C" fill-opacity="0.55"/>
<polygon points="42.1,278.4 36.0,282.7 31.3,278.0 37.4,275.0" fill="#8AA2CE" fill-opacity="0.41"/>
<polygon points="18.9,248.2 6.0,253.7 3.9,247.8 13.0,240.6" fill="#A2E29C" fill-opacity="0.56"/>
<polygon points="99.5,272.7 88.8,282.4 86.4,270.7" fill="#96DC9C" fill-opacity="0.47"/>
<polygon points="249.8,311.3 243.3,317.6 230.3,315.8 228.3,304.5 237.0,306.6" fill="#A2E29C" fill-opacity="0.36"/>
<polygon points="226.6,330.7 220.9,331.9 223.0,325.4" fill="#A2E29C" fill-opacity="0.63"/>
<polygon points="128.5,364.7 121.6,378.4 107.7,369.9 113.5,361.9 120.8,363.7" fill="#96DC9C" fill-opacity="0.41"/>
<polygon points="230.4,393.9 228.3,396.5 216.9,397.3 220.8,388.7 224.1,386.9" fill="#A2E29C" fill-opacity="0.61"/>
<polygon points="45.0,235.9 38.8,241.1 34.8,234.9" fill="#84B4C8" fill-opacity="0.39"/>
<polygon points="210.3,387.4 198.8,393.2 202.3,378.9" fill="#A2E29C" fill-opacity="0.65"/>
<polygon points="236.9,238.0 230.9,243.7 226.3,241.5 234.5,236.2" fill="#96DC9C" fill-opacity="0.40"/>
<polygon points="103.5,309.2 97.8,311.9 94.8,310.0 99.6,303.9" fill="#8AA2CE" fill-opacity="0.37"/>
</g>
</g>
<rect x="624.6" y="21" width="45" height="44.4" fill="#fff"/>
<line x1="650.80" y1="30.16" x2="651.06" y2="28.89" stroke="#888" stroke-width="0.7"/>
<line x1="655.71" y1="32.19" x2="656.43" y2="31.11" stroke="#888" stroke-width="0.7"/>
<line x1="659.46" y1="35.94" x2="660.54" y2="35.22" stroke="#888" stroke-width="0.7"/>
<line x1="661.49" y1="40.85" x2="662.76" y2="40.59" stroke="#888" stroke-width="0.7"/>
<line x1="661.49" y1="46.15" x2="662.76" y2="46.41" stroke="#888" stroke-width="0.7"/>
<line x1="659.46" y1="51.06" x2="660.54" y2="51.78" stroke="#888" stroke-width="0.7"/>
<line x1="655.71" y1="54.81" x2="656.43" y2="55.89" stroke="#888" stroke-width="0.7"/>
<line x1="650.80" y1="56.84" x2="651.06" y2="58.11" stroke="#888" stroke-width="0.7"/>
<line x1="645.50" y1="56.84" x2="645.24" y2="58.11" stroke="#888" stroke-width="0.7"/>
<line x1="640.59" y1="54.81" x2="639.87" y2="55.89" stroke="#888" stroke-width="0.7"/>
<line x1="636.84" y1="51.06" x2="635.76" y2="51.78" stroke="#888" stroke-width="0.7"/>
<line x1="634.81" y1="46.15" x2="633.54" y2="46.41" stroke="#888" stroke-width="0.7"/>
<line x1="634.81" y1="40.85" x2="633.54" y2="40.59" stroke="#888" stroke-width="0.7"/>
<line x1="636.84" y1="35.94" x2="635.76" y2="35.22" stroke="#888" stroke-width="0.7"/>
<line x1="640.59" y1="32.19" x2="639.87" y2="31.11" stroke="#888" stroke-width="0.7"/>
<line x1="645.50" y1="30.16" x2="645.24" y2="28.89" stroke="#888" stroke-width="0.7"/>
<circle cx="648.15" cy="43.5" r="12.35" fill="none" stroke="#111" stroke-width="2.0"/>
<path d="M648.15,43.5L649.14,39.12L655.93,35.72Z" fill="#fff" stroke="#222" stroke-width="0.3"/>
<path d="M648.15,43.5L652.53,42.51L655.93,35.72Z" fill="#111"/>
<path d="M648.15,43.5L652.53,44.49L655.93,51.28Z" fill="#fff" stroke="#222" stroke-width="0.3"/>
<path d="M648.15,43.5L649.14,47.88L655.93,51.28Z" fill="#111"/>
<path d="M648.15,43.5L647.16,47.88L640.37,51.28Z" fill="#fff" stroke="#222" stroke-width="0.3"/>
<path d="M648.15,43.5L643.77,44.49L640.37,51.28Z" fill="#111"/>
<path d="M648.15,43.5L643.77,42.51L640.37,35.72Z" fill="#fff" stroke="#222" stroke-width="0.3"/>
<path d="M648.15,43.5L647.16,39.12L640.37,35.72Z" fill="#111"/>
<path d="M648.15,43.5L645.15,38.30L648.15,27.80Z" fill="#fff" stroke="#222" stroke-width="0.3"/>
<path d="M648.15,43.5L651.15,38.30L648.15,27.80Z" fill="#111"/>
<path d="M648.15,43.5L653.35,40.50L663.85,43.50Z" fill="#fff" stroke="#222" stroke-width="0.3"/>
<path d="M648.15,43.5L653.35,46.50L663.85,43.50Z" fill="#111"/>
<path d="M648.15,43.5L651.15,48.70L648.15,59.20Z" fill="#fff" stroke="#222" stroke-width="0.3"/>
<path d="M648.15,43.5L645.15,48.70L648.15,59.20Z" fill="#111"/>
<path d="M648.15,43.5L642.95,46.50L632.45,43.50Z" fill="#fff" stroke="#222" stroke-width="0.3"/>
<path d="M648.15,43.5L642.95,40.50L632.45,43.50Z" fill="#111"/>
<circle cx="648.15" cy="43.5" r="0.9" fill="#777"/>
<text x="648.4" y="26.3" class="cp" text-anchor="middle">N</text>
<text x="648.2" y="65.2" class="cp" text-anchor="middle">S</text>
<text x="629.2" y="45.9" class="cp" text-anchor="middle">W</text>
<text x="666.4" y="46.2" class="cp" text-anchor="middle">E</text>
<g fill="none" stroke="#5a5a5a" stroke-width="0.55">
<polyline points="125.0,74.2 158.7,74.2 225.0,144.0"/>
<polyline points="186.0,68.3 204.0,68.3 229.4,131.8"/>
<polyline points="239.4,69.0 232.6,122.9"/>
<polyline points="286.0,91.2 281.6,91.2 261.1,129.0"/>
<polyline points="101.0,100.7 133.7,100.7 213.5,154.7"/>
<polyline points="108.0,136.3 146.8,136.3 205.6,169.6"/>
<polyline points="121.0,169.0 153.3,169.0 198.2,181.1"/>
<polyline points="156.0,202.0 189.3,202.0 251.8,221.9"/>
<polyline points="278.0,148.3 248.8,148.3 231.4,135.5"/>
<polyline points="265.2,238.1 268.0,205.0"/>
<polyline points="328.4,177.7 345.0,96.5 373.0,96.5"/>
<polyline points="323.2,197.2 357.7,155.4 385.0,155.4"/>
<polyline points="310.1,236.9 338.5,208.7 356.0,208.7"/>
<polyline points="377.9,238.8 387.5,222.6 403.0,222.6"/>
<polyline points="343.8,239.0 358.7,301.4 381.0,301.4"/>
<polyline points="312.5,243.8 327.6,365.5 351.0,365.5"/>
<polyline points="268.3,255.9 265.5,300.0"/>
<polyline points="474.0,180.0 487.6,207.8"/>
<polyline points="505.2,207.4 506.3,240.0"/>
<polyline points="514.3,208.0 532.0,115.5 556.0,115.5"/>
<polyline points="526.7,191.0 579.3,135.0 614.0,135.0"/>
<polyline points="546.1,230.3 580.4,201.5 613.0,201.5"/>
<polyline points="559.0,247.6 582.8,256.4 613.0,256.4"/>
</g>
<circle cx="231.9" cy="124.0" r="0.9" fill="#F8766D"/>
<circle cx="229.4" cy="131.8" r="0.9" fill="#00A5FF"/>
<circle cx="231.4" cy="135.5" r="0.9" fill="#E6870B"/>
<circle cx="261.1" cy="129.0" r="0.9" fill="#00BFC4"/>
<circle cx="225.0" cy="144.0" r="0.9" fill="#FC61D5"/>
<circle cx="213.5" cy="154.7" r="0.9" fill="#00A5FF"/>
<circle cx="205.6" cy="169.6" r="0.9" fill="#00C1A2"/>
<circle cx="198.2" cy="181.1" r="0.9" fill="#CC7AFF"/>
<circle cx="328.4" cy="177.7" r="0.9" fill="#F8766D"/>
<circle cx="323.2" cy="197.2" r="0.9" fill="#E6870B"/>
<circle cx="251.8" cy="221.9" r="0.9" fill="#00A5FF"/>
<circle cx="265.2" cy="238.1" r="0.9" fill="#00C090"/>
<circle cx="268.3" cy="255.9" r="0.9" fill="#F564E3"/>
<circle cx="310.1" cy="236.9" r="0.9" fill="#A0202A"/>
<circle cx="312.5" cy="243.8" r="0.9" fill="#E6870B"/>
<circle cx="343.8" cy="239.0" r="0.9" fill="#F8766D"/>
<circle cx="377.9" cy="238.8" r="0.9" fill="#E18A00"/>
<circle cx="487.6" cy="207.8" r="0.9" fill="#FF61C6"/>
<circle cx="505.2" cy="207.4" r="0.9" fill="#C04090"/>
<circle cx="514.3" cy="208.0" r="0.9" fill="#005030"/>
<circle cx="526.7" cy="191.0" r="0.9" fill="#E8A0A0"/>
<circle cx="546.1" cy="230.3" r="0.9" fill="#FF3070"/>
<circle cx="559.0" cy="247.6" r="0.9" fill="#00A080"/>
<g stroke="#333" stroke-width="0.38" stroke-opacity="0.85">
<path d="M123.70,62.50L123.70,46.20A16.3,16.3 0 0 1 138.59,55.87Z" fill="#EE8043" stroke="#EE8043" stroke-width="0.2"/>
<path d="M123.70,62.50L138.59,55.87A16.3,16.3 0 0 1 139.75,59.67Z" fill="#DC8D00" stroke="#DC8D00" stroke-width="0.2"/>
<path d="M123.70,62.50L139.75,59.67A16.3,16.3 0 0 1 139.98,63.35Z" fill="#D79000" stroke="#D79000" stroke-width="0.2"/>
<path d="M123.70,62.50L139.98,63.35A16.3,16.3 0 0 1 139.37,66.99Z" fill="#D19300" stroke="#D19300" stroke-width="0.2"/>
<path d="M123.70,62.50L139.37,66.99A16.3,16.3 0 0 1 137.96,70.40Z" fill="#CB9600" stroke="#CB9600" stroke-width="0.2"/>
<path d="M123.70,62.50L137.96,70.40A16.3,16.3 0 0 1 136.19,72.98Z" fill="#C59900" stroke="#C59900" stroke-width="0.2"/>
<path d="M123.70,62.50L136.19,72.98A16.3,16.3 0 0 1 134.39,74.80Z" fill="#BE9C00" stroke="#BE9C00" stroke-width="0.2"/>
<path d="M123.70,62.50L134.39,74.80A16.3,16.3 0 0 1 121.71,78.68Z" fill="#81AD00" stroke="#81AD00" stroke-width="0.2"/>
<path d="M123.70,62.50L121.71,78.68A16.3,16.3 0 0 1 116.81,77.27Z" fill="#24B700" stroke="#24B700" stroke-width="0.2"/>
<path d="M123.70,62.50L116.81,77.27A16.3,16.3 0 0 1 108.03,66.99Z" fill="#00BA38" stroke="#00BA38" stroke-width="0.2"/>
<path d="M123.70,62.50L108.03,66.99A16.3,16.3 0 0 1 108.20,57.46Z" fill="#00BB49" stroke="#00BB49" stroke-width="0.2"/>
<path d="M123.70,62.50L108.20,57.46A16.3,16.3 0 0 1 114.35,49.15Z" fill="#E56DF5" stroke="#E56DF5" stroke-width="0.2"/>
<path d="M123.70,62.50L114.35,49.15A16.3,16.3 0 0 1 123.70,46.20Z" fill="#FC61D5" stroke="#FC61D5" stroke-width="0.2"/>
<line x1="123.70" y1="62.50" x2="123.70" y2="46.20"/>
<line x1="123.70" y1="62.50" x2="138.59" y2="55.87"/>
<line x1="123.70" y1="62.50" x2="139.75" y2="59.67"/>
<line x1="123.70" y1="62.50" x2="139.98" y2="63.35"/>
<line x1="123.70" y1="62.50" x2="139.37" y2="66.99"/>
<line x1="123.70" y1="62.50" x2="137.96" y2="70.40"/>
<line x1="123.70" y1="62.50" x2="136.19" y2="72.98"/>
<line x1="123.70" y1="62.50" x2="134.39" y2="74.80"/>
<line x1="123.70" y1="62.50" x2="121.71" y2="78.68"/>
<line x1="123.70" y1="62.50" x2="116.81" y2="77.27"/>
<line x1="123.70" y1="62.50" x2="108.03" y2="66.99"/>
<line x1="123.70" y1="62.50" x2="108.20" y2="57.46"/>
<line x1="123.70" y1="62.50" x2="114.35" y2="49.15"/>
<circle cx="123.7" cy="62.5" r="16.3" fill="none"/>
<path d="M185.70,55.70L182.58,39.65A16.35,16.35 0 0 1 185.70,39.35Z" fill="#F8766D" stroke="#F8766D" stroke-width="0.2"/>
<path d="M185.70,55.70L185.70,39.35A16.35,16.35 0 0 1 188.54,39.60Z" fill="#EA842F" stroke="#EA842F" stroke-width="0.2"/>
<path d="M185.70,55.70L188.54,39.60A16.35,16.35 0 0 1 191.29,40.34Z" fill="#E18A00" stroke="#E18A00" stroke-width="0.2"/>
<path d="M185.70,55.70L191.29,40.34A16.35,16.35 0 0 1 193.12,41.13Z" fill="#D79000" stroke="#D79000" stroke-width="0.2"/>
<path d="M185.70,55.70L193.12,41.13A16.35,16.35 0 0 1 201.25,50.65Z" fill="#8CAB00" stroke="#8CAB00" stroke-width="0.2"/>
<path d="M185.70,55.70L201.25,50.65A16.35,16.35 0 0 1 201.80,52.86Z" fill="#75AF00" stroke="#75AF00" stroke-width="0.2"/>
<path d="M185.70,55.70L201.80,52.86A16.35,16.35 0 0 1 202.04,56.27Z" fill="#24B700" stroke="#24B700" stroke-width="0.2"/>
<path d="M185.70,55.70L202.04,56.27A16.35,16.35 0 0 1 198.93,65.31Z" fill="#00BA38" stroke="#00BA38" stroke-width="0.2"/>
<path d="M185.70,55.70L198.93,65.31A16.35,16.35 0 0 1 196.21,68.22Z" fill="#00C1A2" stroke="#00C1A2" stroke-width="0.2"/>
<path d="M185.70,55.70L196.21,68.22A16.35,16.35 0 0 1 185.70,72.05Z" fill="#E56DF5" stroke="#E56DF5" stroke-width="0.2"/>
<path d="M185.70,55.70L185.70,72.05A16.35,16.35 0 0 1 179.05,70.64Z" fill="#EB69F0" stroke="#EB69F0" stroke-width="0.2"/>
<path d="M185.70,55.70L179.05,70.64A16.35,16.35 0 0 1 176.32,69.09Z" fill="#F066EA" stroke="#F066EA" stroke-width="0.2"/>
<path d="M185.70,55.70L176.32,69.09A16.35,16.35 0 0 1 173.55,66.64Z" fill="#F564E3" stroke="#F564E3" stroke-width="0.2"/>
<path d="M185.70,55.70L173.55,66.64A16.35,16.35 0 0 1 171.54,63.88Z" fill="#F962DD" stroke="#F962DD" stroke-width="0.2"/>
<path d="M185.70,55.70L171.54,63.88A16.35,16.35 0 0 1 169.55,53.14Z" fill="#FC61D5" stroke="#FC61D5" stroke-width="0.2"/>
<path d="M185.70,55.70L169.55,53.14A16.35,16.35 0 0 1 182.58,39.65Z" fill="#FF61C6" stroke="#FF61C6" stroke-width="0.2"/>
<line x1="185.70" y1="55.70" x2="182.58" y2="39.65"/>
<line x1="185.70" y1="55.70" x2="185.70" y2="39.35"/>
<line x1="185.70" y1="55.70" x2="188.54" y2="39.60"/>
<line x1="185.70" y1="55.70" x2="191.29" y2="40.34"/>
<line x1="185.70" y1="55.70" x2="193.12" y2="41.13"/>
<line x1="185.70" y1="55.70" x2="201.25" y2="50.65"/>
<line x1="185.70" y1="55.70" x2="201.80" y2="52.86"/>
<line x1="185.70" y1="55.70" x2="202.04" y2="56.27"/>
<line x1="185.70" y1="55.70" x2="198.93" y2="65.31"/>
<line x1="185.70" y1="55.70" x2="196.21" y2="68.22"/>
<line x1="185.70" y1="55.70" x2="185.70" y2="72.05"/>
<line x1="185.70" y1="55.70" x2="179.05" y2="70.64"/>
<line x1="185.70" y1="55.70" x2="176.32" y2="69.09"/>
<line x1="185.70" y1="55.70" x2="173.55" y2="66.64"/>
<line x1="185.70" y1="55.70" x2="171.54" y2="63.88"/>
<line x1="185.70" y1="55.70" x2="169.55" y2="53.14"/>
<circle cx="185.7" cy="55.7" r="16.35" fill="none"/>
<path d="M249.30,64.70L249.30,48.40A16.3,16.3 0 0 1 254.07,49.11Z" fill="#81AD00" stroke="#81AD00" stroke-width="0.2"/>
<path d="M249.30,64.70L254.07,49.11A16.3,16.3 0 0 1 262.14,54.66Z" fill="#00B821" stroke="#00B821" stroke-width="0.2"/>
<path d="M249.30,64.70L262.14,54.66A16.3,16.3 0 0 1 264.41,58.59Z" fill="#00BA38" stroke="#00BA38" stroke-width="0.2"/>
<path d="M249.30,64.70L264.41,58.59A16.3,16.3 0 0 1 265.58,63.85Z" fill="#00C1A2" stroke="#00C1A2" stroke-width="0.2"/>
<path d="M249.30,64.70L265.58,63.85A16.3,16.3 0 0 1 263.82,72.10Z" fill="#EB69F0" stroke="#EB69F0" stroke-width="0.2"/>
<path d="M249.30,64.70L263.82,72.10A16.3,16.3 0 0 1 233.98,59.13Z" fill="#FE61CE" stroke="#FE61CE" stroke-width="0.2"/>
<path d="M249.30,64.70L233.98,59.13A16.3,16.3 0 0 1 236.63,54.44Z" fill="#FF61C6" stroke="#FF61C6" stroke-width="0.2"/>
<path d="M249.30,64.70L236.63,54.44A16.3,16.3 0 0 1 249.30,48.40Z" fill="#FF6A99" stroke="#FF6A99" stroke-width="0.2"/>
<line x1="249.30" y1="64.70" x2="249.30" y2="48.40"/>
<line x1="249.30" y1="64.70" x2="254.07" y2="49.11"/>
<line x1="249.30" y1="64.70" x2="262.14" y2="54.66"/>
<line x1="249.30" y1="64.70" x2="264.41" y2="58.59"/>
<line x1="249.30" y1="64.70" x2="265.58" y2="63.85"/>
<line x1="249.30" y1="64.70" x2="263.82" y2="72.10"/>
<line x1="249.30" y1="64.70" x2="233.98" y2="59.13"/>
<line x1="249.30" y1="64.70" x2="236.63" y2="54.44"/>
<circle cx="249.3" cy="64.7" r="16.3" fill="none"/>
<path d="M293.00,74.90L293.00,58.50A16.4,16.4 0 0 1 293.00,91.30Z" fill="#00C1AB" stroke="#00C1AB" stroke-width="0.2"/>
<path d="M293.00,74.90L293.00,91.30A16.4,16.4 0 0 1 293.00,58.50Z" fill="#FE61CE" stroke="#FE61CE" stroke-width="0.2"/>
<line x1="293.00" y1="74.90" x2="293.00" y2="58.50"/>
<line x1="293.00" y1="74.90" x2="293.00" y2="91.30"/>
<circle cx="293.0" cy="74.9" r="16.4" fill="none"/>
<path d="M100.80,92.60L96.86,76.78A16.3,16.3 0 0 1 100.80,76.30Z" fill="#F8766D" stroke="#F8766D" stroke-width="0.2"/>
<path d="M100.80,92.60L100.80,76.30A16.3,16.3 0 0 1 102.22,76.36Z" fill="#F8766D" stroke="#F8766D" stroke-width="0.2"/>
<path d="M100.80,92.60L102.22,76.36A16.3,16.3 0 0 1 106.37,77.28Z" fill="#F27D52" stroke="#F27D52" stroke-width="0.2"/>
<path d="M100.80,92.60L106.37,77.28A16.3,16.3 0 0 1 110.61,79.58Z" fill="#EE8043" stroke="#EE8043" stroke-width="0.2"/>
<path d="M100.80,92.60L110.61,79.58A16.3,16.3 0 0 1 116.21,87.29Z" fill="#DC8D00" stroke="#DC8D00" stroke-width="0.2"/>
<path d="M100.80,92.60L116.21,87.29A16.3,16.3 0 0 1 117.04,91.18Z" fill="#D19300" stroke="#D19300" stroke-width="0.2"/>
<path d="M100.80,92.60L117.04,91.18A16.3,16.3 0 0 1 116.85,95.43Z" fill="#9FA600" stroke="#9FA600" stroke-width="0.2"/>
<path d="M100.80,92.60L116.85,95.43A16.3,16.3 0 0 1 115.06,100.50Z" fill="#24B700" stroke="#24B700" stroke-width="0.2"/>
<path d="M100.80,92.60L115.06,100.50A16.3,16.3 0 0 1 89.07,103.92Z" fill="#E56DF5" stroke="#E56DF5" stroke-width="0.2"/>
<path d="M100.80,92.60L89.07,103.92A16.3,16.3 0 0 1 84.80,95.71Z" fill="#EB69F0" stroke="#EB69F0" stroke-width="0.2"/>
<path d="M100.80,92.60L84.80,95.71A16.3,16.3 0 0 1 84.75,89.77Z" fill="#F564E3" stroke="#F564E3" stroke-width="0.2"/>
<path d="M100.80,92.60L84.75,89.77A16.3,16.3 0 0 1 86.68,84.45Z" fill="#FC61D5" stroke="#FC61D5" stroke-width="0.2"/>
<path d="M100.80,92.60L86.68,84.45A16.3,16.3 0 0 1 89.89,80.49Z" fill="#FF61C6" stroke="#FF61C6" stroke-width="0.2"/>
<path d="M100.80,92.60L89.89,80.49A16.3,16.3 0 0 1 93.40,78.08Z" fill="#FF62BD" stroke="#FF62BD" stroke-width="0.2"/>
<path d="M100.80,92.60L93.40,78.08A16.3,16.3 0 0 1 96.86,76.78Z" fill="#FF65AC" stroke="#FF65AC" stroke-width="0.2"/>
<line x1="100.80" y1="92.60" x2="96.86" y2="76.78"/>
<line x1="100.80" y1="92.60" x2="100.80" y2="76.30"/>
<line x1="100.80" y1="92.60" x2="102.22" y2="76.36"/>
<line x1="100.80" y1="92.60" x2="106.37" y2="77.28"/>
<line x1="100.80" y1="92.60" x2="110.61" y2="79.58"/>
<line x1="100.80" y1="92.60" x2="116.21" y2="87.29"/>
<line x1="100.80" y1="92.60" x2="117.04" y2="91.18"/>
<line x1="100.80" y1="92.60" x2="116.85" y2="95.43"/>
<line x1="100.80" y1="92.60" x2="115.06" y2="100.50"/>
<line x1="100.80" y1="92.60" x2="89.07" y2="103.92"/>
<line x1="100.80" y1="92.60" x2="84.80" y2="95.71"/>
<line x1="100.80" y1="92.60" x2="84.75" y2="89.77"/>
<line x1="100.80" y1="92.60" x2="86.68" y2="84.45"/>
<line x1="100.80" y1="92.60" x2="89.89" y2="80.49"/>
<line x1="100.80" y1="92.60" x2="93.40" y2="78.08"/>
<circle cx="100.8" cy="92.6" r="16.3" fill="none"/>
<path d="M107.00,132.50L97.65,119.15A16.3,16.3 0 0 1 107.00,116.20Z" fill="#FF6D8E" stroke="#FF6D8E" stroke-width="0.2"/>
<path d="M107.00,132.50L107.00,116.20A16.3,16.3 0 0 1 112.57,117.18Z" fill="#E18A00" stroke="#E18A00" stroke-width="0.2"/>
<path d="M107.00,132.50L112.57,117.18A16.3,16.3 0 0 1 116.11,118.99Z" fill="#DC8D00" stroke="#DC8D00" stroke-width="0.2"/>
<path d="M107.00,132.50L116.11,118.99A16.3,16.3 0 0 1 120.35,123.15Z" fill="#75AF00" stroke="#75AF00" stroke-width="0.2"/>
<path d="M107.00,132.50L120.35,123.15A16.3,16.3 0 0 1 122.32,126.93Z" fill="#68B100" stroke="#68B100" stroke-width="0.2"/>
<path d="M107.00,132.50L122.32,126.93A16.3,16.3 0 0 1 123.30,132.50Z" fill="#00BA38" stroke="#00BA38" stroke-width="0.2"/>
<path d="M107.00,132.50L123.30,132.50A16.3,16.3 0 0 1 122.94,135.89Z" fill="#00BB49" stroke="#00BB49" stroke-width="0.2"/>
<path d="M107.00,132.50L122.94,135.89A16.3,16.3 0 0 1 117.69,144.80Z" fill="#00BC58" stroke="#00BC58" stroke-width="0.2"/>
<path d="M107.00,132.50L117.69,144.80A16.3,16.3 0 0 1 113.89,147.27Z" fill="#00C086" stroke="#00C086" stroke-width="0.2"/>
<path d="M107.00,132.50L113.89,147.27A16.3,16.3 0 0 1 108.99,148.68Z" fill="#00BAE1" stroke="#00BAE1" stroke-width="0.2"/>
<path d="M107.00,132.50L108.99,148.68A16.3,16.3 0 0 1 104.73,148.64Z" fill="#E56DF5" stroke="#E56DF5" stroke-width="0.2"/>
<path d="M107.00,132.50L104.73,148.64A16.3,16.3 0 0 1 95.08,143.62Z" fill="#F564E3" stroke="#F564E3" stroke-width="0.2"/>
<path d="M107.00,132.50L95.08,143.62A16.3,16.3 0 0 1 90.90,135.05Z" fill="#FC61D5" stroke="#FC61D5" stroke-width="0.2"/>
<path d="M107.00,132.50L90.90,135.05A16.3,16.3 0 0 1 97.65,119.15Z" fill="#FF61C6" stroke="#FF61C6" stroke-width="0.2"/>
<line x1="107.00" y1="132.50" x2="97.65" y2="119.15"/>
<line x1="107.00" y1="132.50" x2="107.00" y2="116.20"/>
<line x1="107.00" y1="132.50" x2="112.57" y2="117.18"/>
<line x1="107.00" y1="132.50" x2="116.11" y2="118.99"/>
<line x1="107.00" y1="132.50" x2="120.35" y2="123.15"/>
<line x1="107.00" y1="132.50" x2="122.32" y2="126.93"/>
<line x1="107.00" y1="132.50" x2="123.30" y2="132.50"/>
<line x1="107.00" y1="132.50" x2="122.94" y2="135.89"/>
<line x1="107.00" y1="132.50" x2="117.69" y2="144.80"/>
<line x1="107.00" y1="132.50" x2="113.89" y2="147.27"/>
<line x1="107.00" y1="132.50" x2="108.99" y2="148.68"/>
<line x1="107.00" y1="132.50" x2="104.73" y2="148.64"/>
<line x1="107.00" y1="132.50" x2="95.08" y2="143.62"/>
<line x1="107.00" y1="132.50" x2="90.90" y2="135.05"/>
<circle cx="107.0" cy="132.5" r="16.3" fill="none"/>
<path d="M120.60,170.90L116.68,155.18A16.2,16.2 0 0 1 120.60,154.70Z" fill="#FA7379" stroke="#FA7379" stroke-width="0.2"/>
<path d="M120.60,170.90L120.60,154.70A16.2,16.2 0 0 1 123.97,155.05Z" fill="#EE8043" stroke="#EE8043" stroke-width="0.2"/>
<path d="M120.60,170.90L123.97,155.05A16.2,16.2 0 0 1 128.94,157.01Z" fill="#D79000" stroke="#D79000" stroke-width="0.2"/>
<path d="M120.60,170.90L128.94,157.01A16.2,16.2 0 0 1 132.06,159.44Z" fill="#44B500" stroke="#44B500" stroke-width="0.2"/>
<path d="M120.60,170.90L132.06,159.44A16.2,16.2 0 0 1 134.34,162.32Z" fill="#24B700" stroke="#24B700" stroke-width="0.2"/>
<path d="M120.60,170.90L134.34,162.32A16.2,16.2 0 0 1 136.45,167.53Z" fill="#00BB49" stroke="#00BB49" stroke-width="0.2"/>
<path d="M120.60,170.90L136.45,167.53A16.2,16.2 0 0 1 136.79,171.47Z" fill="#00C086" stroke="#00C086" stroke-width="0.2"/>
<path d="M120.60,170.90L136.79,171.47A16.2,16.2 0 0 1 134.63,179.00Z" fill="#00C1A2" stroke="#00C1A2" stroke-width="0.2"/>
<path d="M120.60,170.90L134.63,179.00A16.2,16.2 0 0 1 132.06,182.36Z" fill="#00BECC" stroke="#00BECC" stroke-width="0.2"/>
<path d="M120.60,170.90L132.06,182.36A16.2,16.2 0 0 1 124.52,186.62Z" fill="#E56DF5" stroke="#E56DF5" stroke-width="0.2"/>
<path d="M120.60,170.90L124.52,186.62A16.2,16.2 0 0 1 104.95,175.09Z" fill="#F564E3" stroke="#F564E3" stroke-width="0.2"/>
<path d="M120.60,170.90L104.95,175.09A16.2,16.2 0 0 1 104.82,167.26Z" fill="#FC61D5" stroke="#FC61D5" stroke-width="0.2"/>
<path d="M120.60,170.90L104.82,167.26A16.2,16.2 0 0 1 108.95,159.65Z" fill="#FF61C6" stroke="#FF61C6" stroke-width="0.2"/>
<path d="M120.60,170.90L108.95,159.65A16.2,16.2 0 0 1 116.68,155.18Z" fill="#FF65AC" stroke="#FF65AC" stroke-width="0.2"/>
<line x1="120.60" y1="170.90" x2="116.68" y2="155.18"/>
<line x1="120.60" y1="170.90" x2="120.60" y2="154.70"/>
<line x1="120.60" y1="170.90" x2="123.97" y2="155.05"/>
<line x1="120.60" y1="170.90" x2="128.94" y2="157.01"/>
<line x1="120.60" y1="170.90" x2="132.06" y2="159.44"/>
<line x1="120.60" y1="170.90" x2="134.34" y2="162.32"/>
<line x1="120.60" y1="170.90" x2="136.45" y2="167.53"/>
<line x1="120.60" y1="170.90" x2="136.79" y2="171.47"/>
<line x1="120.60" y1="170.90" x2="134.63" y2="179.00"/>
<line x1="120.60" y1="170.90" x2="132.06" y2="182.36"/>
<line x1="120.60" y1="170.90" x2="124.52" y2="186.62"/>
<line x1="120.60" y1="170.90" x2="104.95" y2="175.09"/>
<line x1="120.60" y1="170.90" x2="104.82" y2="167.26"/>
<line x1="120.60" y1="170.90" x2="108.95" y2="159.65"/>
<circle cx="120.6" cy="170.9" r="16.2" fill="none"/>
<path d="M155.55,199.50L155.55,183.25A16.25,16.25 0 0 1 167.63,188.63Z" fill="#F57A60" stroke="#F57A60" stroke-width="0.2"/>
<path d="M155.55,199.50L167.63,188.63A16.25,16.25 0 0 1 171.09,194.75Z" fill="#00BBDA" stroke="#00BBDA" stroke-width="0.2"/>
<path d="M155.55,199.50L171.09,194.75A16.25,16.25 0 0 1 171.80,199.50Z" fill="#42A0FF" stroke="#42A0FF" stroke-width="0.2"/>
<path d="M155.55,199.50L171.80,199.50A16.25,16.25 0 0 1 170.16,206.62Z" fill="#619CFF" stroke="#619CFF" stroke-width="0.2"/>
<path d="M155.55,199.50L170.16,206.62A16.25,16.25 0 0 1 166.84,211.19Z" fill="#9B8EFF" stroke="#9B8EFF" stroke-width="0.2"/>
<path d="M155.55,199.50L166.84,211.19A16.25,16.25 0 0 1 163.43,213.71Z" fill="#A989FF" stroke="#A989FF" stroke-width="0.2"/>
<path d="M155.55,199.50L163.43,213.71A16.25,16.25 0 0 1 159.76,215.20Z" fill="#B684FF" stroke="#B684FF" stroke-width="0.2"/>
<path d="M155.55,199.50L159.76,215.20A16.25,16.25 0 0 1 155.55,215.75Z" fill="#C27FFF" stroke="#C27FFF" stroke-width="0.2"/>
<path d="M155.55,199.50L155.55,215.75A16.25,16.25 0 0 1 149.73,214.67Z" fill="#CC7AFF" stroke="#CC7AFF" stroke-width="0.2"/>
<path d="M155.55,199.50L149.73,214.67A16.25,16.25 0 0 1 145.10,211.95Z" fill="#E56DF5" stroke="#E56DF5" stroke-width="0.2"/>
<path d="M155.55,199.50L145.10,211.95A16.25,16.25 0 0 1 140.82,206.37Z" fill="#F564E3" stroke="#F564E3" stroke-width="0.2"/>
<path d="M155.55,199.50L140.82,206.37A16.25,16.25 0 0 1 139.46,201.76Z" fill="#FC61D5" stroke="#FC61D5" stroke-width="0.2"/>
<path d="M155.55,199.50L139.46,201.76A16.25,16.25 0 0 1 139.46,197.24Z" fill="#FF61C6" stroke="#FF61C6" stroke-width="0.2"/>
<path d="M155.55,199.50L139.46,197.24A16.25,16.25 0 0 1 140.59,193.15Z" fill="#FF63B5" stroke="#FF63B5" stroke-width="0.2"/>
<path d="M155.55,199.50L140.59,193.15A16.25,16.25 0 0 1 143.86,188.21Z" fill="#FF67A2" stroke="#FF67A2" stroke-width="0.2"/>
<path d="M155.55,199.50L143.86,188.21A16.25,16.25 0 0 1 147.18,185.57Z" fill="#FF6A99" stroke="#FF6A99" stroke-width="0.2"/>
<path d="M155.55,199.50L147.18,185.57A16.25,16.25 0 0 1 150.80,183.96Z" fill="#FF6D8E" stroke="#FF6D8E" stroke-width="0.2"/>
<path d="M155.55,199.50L150.80,183.96A16.25,16.25 0 0 1 155.55,183.25Z" fill="#FD7084" stroke="#FD7084" stroke-width="0.2"/>
<line x1="155.55" y1="199.50" x2="155.55" y2="183.25"/>
<line x1="155.55" y1="199.50" x2="167.63" y2="188.63"/>
<line x1="155.55" y1="199.50" x2="171.09" y2="194.75"/>
<line x1="155.55" y1="199.50" x2="171.80" y2="199.50"/>
<line x1="155.55" y1="199.50" x2="170.16" y2="206.62"/>
<line x1="155.55" y1="199.50" x2="166.84" y2="211.19"/>
<line x1="155.55" y1="199.50" x2="163.43" y2="213.71"/>
<line x1="155.55" y1="199.50" x2="159.76" y2="215.20"/>
<line x1="155.55" y1="199.50" x2="155.55" y2="215.75"/>
<line x1="155.55" y1="199.50" x2="149.73" y2="214.67"/>
<line x1="155.55" y1="199.50" x2="145.10" y2="211.95"/>
<line x1="155.55" y1="199.50" x2="140.82" y2="206.37"/>
<line x1="155.55" y1="199.50" x2="139.46" y2="201.76"/>
<line x1="155.55" y1="199.50" x2="139.46" y2="197.24"/>
<line x1="155.55" y1="199.50" x2="140.59" y2="193.15"/>
<line x1="155.55" y1="199.50" x2="143.86" y2="188.21"/>
<line x1="155.55" y1="199.50" x2="147.18" y2="185.57"/>
<line x1="155.55" y1="199.50" x2="150.80" y2="183.96"/>
<circle cx="155.55" cy="199.5" r="16.25" fill="none"/>
<path d="M278.40,156.50L272.86,141.28A16.2,16.2 0 0 1 278.40,140.30Z" fill="#FF6D8E" stroke="#FF6D8E" stroke-width="0.2"/>
<path d="M278.40,156.50L278.40,140.30A16.2,16.2 0 0 1 283.94,141.28Z" fill="#E18A00" stroke="#E18A00" stroke-width="0.2"/>
<path d="M278.40,156.50L283.94,141.28A16.2,16.2 0 0 1 289.24,144.46Z" fill="#DC8D00" stroke="#DC8D00" stroke-width="0.2"/>
<path d="M278.40,156.50L289.24,144.46A16.2,16.2 0 0 1 292.70,148.89Z" fill="#00BD64" stroke="#00BD64" stroke-width="0.2"/>
<path d="M278.40,156.50L292.70,148.89A16.2,16.2 0 0 1 294.35,153.69Z" fill="#00BF7B" stroke="#00BF7B" stroke-width="0.2"/>
<path d="M278.40,156.50L294.35,153.69A16.2,16.2 0 0 1 294.54,157.91Z" fill="#00C090" stroke="#00C090" stroke-width="0.2"/>
<path d="M278.40,156.50L294.54,157.91A16.2,16.2 0 0 1 293.08,163.35Z" fill="#00C1A2" stroke="#00C1A2" stroke-width="0.2"/>
<path d="M278.40,156.50L293.08,163.35A16.2,16.2 0 0 1 291.17,166.47Z" fill="#00C0B4" stroke="#00C0B4" stroke-width="0.2"/>
<path d="M278.40,156.50L291.17,166.47A16.2,16.2 0 0 1 286.98,170.24Z" fill="#00BECC" stroke="#00BECC" stroke-width="0.2"/>
<path d="M278.40,156.50L286.98,170.24A16.2,16.2 0 0 1 281.21,172.45Z" fill="#9B8EFF" stroke="#9B8EFF" stroke-width="0.2"/>
<path d="M278.40,156.50L281.21,172.45A16.2,16.2 0 0 1 270.79,170.80Z" fill="#E56DF5" stroke="#E56DF5" stroke-width="0.2"/>
<path d="M278.40,156.50L270.79,170.80A16.2,16.2 0 0 1 265.29,166.02Z" fill="#EB69F0" stroke="#EB69F0" stroke-width="0.2"/>
<path d="M278.40,156.50L265.29,166.02A16.2,16.2 0 0 1 263.72,149.65Z" fill="#F564E3" stroke="#F564E3" stroke-width="0.2"/>
<path d="M278.40,156.50L263.72,149.65A16.2,16.2 0 0 1 272.86,141.28Z" fill="#FF61C6" stroke="#FF61C6" stroke-width="0.2"/>
<line x1="278.40" y1="156.50" x2="272.86" y2="141.28"/>
<line x1="278.40" y1="156.50" x2="278.40" y2="140.30"/>
<line x1="278.40" y1="156.50" x2="283.94" y2="141.28"/>
<line x1="278.40" y1="156.50" x2="289.24" y2="144.46"/>
<line x1="278.40" y1="156.50" x2="292.70" y2="148.89"/>
<line x1="278.40" y1="156.50" x2="294.35" y2="153.69"/>
<line x1="278.40" y1="156.50" x2="294.54" y2="157.91"/>
<line x1="278.40" y1="156.50" x2="293.08" y2="163.35"/>
<line x1="278.40" y1="156.50" x2="291.17" y2="166.47"/>
<line x1="278.40" y1="156.50" x2="286.98" y2="170.24"/>
<line x1="278.40" y1="156.50" x2="281.21" y2="172.45"/>
<line x1="278.40" y1="156.50" x2="270.79" y2="170.80"/>
<line x1="278.40" y1="156.50" x2="265.29" y2="166.02"/>
<line x1="278.40" y1="156.50" x2="263.72" y2="149.65"/>
<circle cx="278.4" cy="156.5" r="16.2" fill="none"/>
<path d="M275.70,200.00L275.70,183.70A16.3,16.3 0 0 1 283.60,185.74Z" fill="#24B700" stroke="#24B700" stroke-width="0.2"/>
<path d="M275.70,200.00L283.60,185.74A16.3,16.3 0 0 1 287.02,188.27Z" fill="#00B821" stroke="#00B821" stroke-width="0.2"/>
<path d="M275.70,200.00L287.02,188.27A16.3,16.3 0 0 1 289.67,191.60Z" fill="#00BC58" stroke="#00BC58" stroke-width="0.2"/>
<path d="M275.70,200.00L289.67,191.60A16.3,16.3 0 0 1 291.29,195.23Z" fill="#F066EA" stroke="#F066EA" stroke-width="0.2"/>
<path d="M275.70,200.00L291.29,195.23A16.3,16.3 0 0 1 269.86,215.22Z" fill="#F564E3" stroke="#F564E3" stroke-width="0.2"/>
<path d="M275.70,200.00L269.86,215.22A16.3,16.3 0 0 1 261.73,191.60Z" fill="#FE61CE" stroke="#FE61CE" stroke-width="0.2"/>
<path d="M275.70,200.00L261.73,191.60A16.3,16.3 0 0 1 275.70,183.70Z" fill="#FF67A2" stroke="#FF67A2" stroke-width="0.2"/>
<line x1="275.70" y1="200.00" x2="275.70" y2="183.70"/>
<line x1="275.70" y1="200.00" x2="283.60" y2="185.74"/>
<line x1="275.70" y1="200.00" x2="287.02" y2="188.27"/>
<line x1="275.70" y1="200.00" x2="289.67" y2="191.60"/>
<line x1="275.70" y1="200.00" x2="291.29" y2="195.23"/>
<line x1="275.70" y1="200.00" x2="269.86" y2="215.22"/>
<line x1="275.70" y1="200.00" x2="261.73" y2="191.60"/>
<circle cx="275.7" cy="200.0" r="16.3" fill="none"/>
<path d="M373.80,90.50L373.80,74.30A16.2,16.2 0 0 1 385.26,79.04Z" fill="#75AF00" stroke="#75AF00" stroke-width="0.2"/>
<path d="M373.80,90.50L385.26,79.04A16.2,16.2 0 0 1 388.48,83.65Z" fill="#44B500" stroke="#44B500" stroke-width="0.2"/>
<path d="M373.80,90.50L388.48,83.65A16.2,16.2 0 0 1 389.75,87.69Z" fill="#24B700" stroke="#24B700" stroke-width="0.2"/>
<path d="M373.80,90.50L389.75,87.69A16.2,16.2 0 0 1 389.94,91.91Z" fill="#00BA38" stroke="#00BA38" stroke-width="0.2"/>
<path d="M373.80,90.50L389.94,91.91A16.2,16.2 0 0 1 389.02,96.04Z" fill="#00BB49" stroke="#00BB49" stroke-width="0.2"/>
<path d="M373.80,90.50L389.02,96.04A16.2,16.2 0 0 1 387.83,98.60Z" fill="#00C086" stroke="#00C086" stroke-width="0.2"/>
<path d="M373.80,90.50L387.83,98.60A16.2,16.2 0 0 1 386.03,101.13Z" fill="#00BFC4" stroke="#00BFC4" stroke-width="0.2"/>
<path d="M373.80,90.50L386.03,101.13A16.2,16.2 0 0 1 381.90,104.53Z" fill="#DD71FA" stroke="#DD71FA" stroke-width="0.2"/>
<path d="M373.80,90.50L381.90,104.53A16.2,16.2 0 0 1 360.53,99.79Z" fill="#E56DF5" stroke="#E56DF5" stroke-width="0.2"/>
<path d="M373.80,90.50L360.53,99.79A16.2,16.2 0 0 1 358.15,94.69Z" fill="#F066EA" stroke="#F066EA" stroke-width="0.2"/>
<path d="M373.80,90.50L358.15,94.69A16.2,16.2 0 0 1 357.66,89.09Z" fill="#F564E3" stroke="#F564E3" stroke-width="0.2"/>
<path d="M373.80,90.50L357.66,89.09A16.2,16.2 0 0 1 359.77,82.40Z" fill="#FC61D5" stroke="#FC61D5" stroke-width="0.2"/>
<path d="M373.80,90.50L359.77,82.40A16.2,16.2 0 0 1 362.96,78.46Z" fill="#FF61C6" stroke="#FF61C6" stroke-width="0.2"/>
<path d="M373.80,90.50L362.96,78.46A16.2,16.2 0 0 1 365.70,76.47Z" fill="#FF63B5" stroke="#FF63B5" stroke-width="0.2"/>
<path d="M373.80,90.50L365.70,76.47A16.2,16.2 0 0 1 373.80,74.30Z" fill="#FF6D8E" stroke="#FF6D8E" stroke-width="0.2"/>
<line x1="373.80" y1="90.50" x2="373.80" y2="74.30"/>
<line x1="373.80" y1="90.50" x2="385.26" y2="79.04"/>
<line x1="373.80" y1="90.50" x2="388.48" y2="83.65"/>
<line x1="373.80" y1="90.50" x2="389.75" y2="87.69"/>
<line x1="373.80" y1="90.50" x2="389.94" y2="91.91"/>
<line x1="373.80" y1="90.50" x2="389.02" y2="96.04"/>
<line x1="373.80" y1="90.50" x2="387.83" y2="98.60"/>
<line x1="373.80" y1="90.50" x2="386.03" y2="101.13"/>
<line x1="373.80" y1="90.50" x2="381.90" y2="104.53"/>
<line x1="373.80" y1="90.50" x2="360.53" y2="99.79"/>
<line x1="373.80" y1="90.50" x2="358.15" y2="94.69"/>
<line x1="373.80" y1="90.50" x2="357.66" y2="89.09"/>
<line x1="373.80" y1="90.50" x2="359.77" y2="82.40"/>
<line x1="373.80" y1="90.50" x2="362.96" y2="78.46"/>
<line x1="373.80" y1="90.50" x2="365.70" y2="76.47"/>
<circle cx="373.8" cy="90.5" r="16.2" fill="none"/>
<path d="M386.00,157.20L386.00,141.00A16.2,16.2 0 0 1 390.74,141.71Z" fill="#D79000" stroke="#D79000" stroke-width="0.2"/>
<path d="M386.00,157.20L390.74,141.71A16.2,16.2 0 0 1 398.77,147.23Z" fill="#68B100" stroke="#68B100" stroke-width="0.2"/>
<path d="M386.00,157.20L398.77,147.23A16.2,16.2 0 0 1 401.22,151.66Z" fill="#00C086" stroke="#00C086" stroke-width="0.2"/>
<path d="M386.00,157.20L401.22,151.66A16.2,16.2 0 0 1 397.65,168.45Z" fill="#E56DF5" stroke="#E56DF5" stroke-width="0.2"/>
<path d="M386.00,157.20L397.65,168.45A16.2,16.2 0 0 1 369.86,158.61Z" fill="#EB69F0" stroke="#EB69F0" stroke-width="0.2"/>
<path d="M386.00,157.20L369.86,158.61A16.2,16.2 0 0 1 370.98,151.13Z" fill="#F564E3" stroke="#F564E3" stroke-width="0.2"/>
<path d="M386.00,157.20L370.98,151.13A16.2,16.2 0 0 1 376.94,143.77Z" fill="#FC61D5" stroke="#FC61D5" stroke-width="0.2"/>
<path d="M386.00,157.20L376.94,143.77A16.2,16.2 0 0 1 386.00,141.00Z" fill="#FF62BD" stroke="#FF62BD" stroke-width="0.2"/>
<line x1="386.00" y1="157.20" x2="386.00" y2="141.00"/>
<line x1="386.00" y1="157.20" x2="390.74" y2="141.71"/>
<line x1="386.00" y1="157.20" x2="398.77" y2="147.23"/>
<line x1="386.00" y1="157.20" x2="401.22" y2="151.66"/>
<line x1="386.00" y1="157.20" x2="397.65" y2="168.45"/>
<line x1="386.00" y1="157.20" x2="369.86" y2="158.61"/>
<line x1="386.00" y1="157.20" x2="370.98" y2="151.13"/>
<line x1="386.00" y1="157.20" x2="376.94" y2="143.77"/>
<circle cx="386.0" cy="157.2" r="16.2" fill="none"/>
<path d="M356.40,201.80L356.40,185.70A16.1,16.1 0 0 1 364.69,188.00Z" fill="#8CAB00" stroke="#8CAB00" stroke-width="0.2"/>
<path d="M356.40,201.80L364.69,188.00A16.1,16.1 0 0 1 367.78,190.42Z" fill="#58B300" stroke="#58B300" stroke-width="0.2"/>
<path d="M356.40,201.80L367.78,190.42A16.1,16.1 0 0 1 370.62,194.24Z" fill="#24B700" stroke="#24B700" stroke-width="0.2"/>
<path d="M356.40,201.80L370.62,194.24A16.1,16.1 0 0 1 372.26,199.00Z" fill="#00B821" stroke="#00B821" stroke-width="0.2"/>
<path d="M356.40,201.80L372.26,199.00A16.1,16.1 0 0 1 372.26,204.60Z" fill="#00BA38" stroke="#00BA38" stroke-width="0.2"/>
<path d="M356.40,201.80L372.26,204.60A16.1,16.1 0 0 1 370.99,208.60Z" fill="#00C090" stroke="#00C090" stroke-width="0.2"/>
<path d="M356.40,201.80L370.99,208.60A16.1,16.1 0 0 1 369.59,211.03Z" fill="#00C1A2" stroke="#00C1A2" stroke-width="0.2"/>
<path d="M356.40,201.80L369.59,211.03A16.1,16.1 0 0 1 367.78,213.18Z" fill="#00C0B4" stroke="#00C0B4" stroke-width="0.2"/>
<path d="M356.40,201.80L367.78,213.18A16.1,16.1 0 0 1 364.45,215.74Z" fill="#E56DF5" stroke="#E56DF5" stroke-width="0.2"/>
<path d="M356.40,201.80L364.45,215.74A16.1,16.1 0 0 1 361.91,216.93Z" fill="#EB69F0" stroke="#EB69F0" stroke-width="0.2"/>
<path d="M356.40,201.80L361.91,216.93A16.1,16.1 0 0 1 358.92,217.70Z" fill="#F066EA" stroke="#F066EA" stroke-width="0.2"/>
<path d="M356.40,201.80L358.92,217.70A16.1,16.1 0 0 1 341.09,196.82Z" fill="#F564E3" stroke="#F564E3" stroke-width="0.2"/>
<path d="M356.40,201.80L341.09,196.82A16.1,16.1 0 0 1 343.21,192.57Z" fill="#FC61D5" stroke="#FC61D5" stroke-width="0.2"/>
<path d="M356.40,201.80L343.21,192.57A16.1,16.1 0 0 1 346.05,189.47Z" fill="#FF61C6" stroke="#FF61C6" stroke-width="0.2"/>
<path d="M356.40,201.80L346.05,189.47A16.1,16.1 0 0 1 349.60,187.21Z" fill="#FF62BD" stroke="#FF62BD" stroke-width="0.2"/>
<path d="M356.40,201.80L349.60,187.21A16.1,16.1 0 0 1 353.60,185.94Z" fill="#FF65AC" stroke="#FF65AC" stroke-width="0.2"/>
<path d="M356.40,201.80L353.60,185.94A16.1,16.1 0 0 1 356.40,185.70Z" fill="#FF6D8E" stroke="#FF6D8E" stroke-width="0.2"/>
<line x1="356.40" y1="201.80" x2="356.40" y2="185.70"/>
<line x1="356.40" y1="201.80" x2="364.69" y2="188.00"/>
<line x1="356.40" y1="201.80" x2="367.78" y2="190.42"/>
<line x1="356.40" y1="201.80" x2="370.62" y2="194.24"/>
<line x1="356.40" y1="201.80" x2="372.26" y2="199.00"/>
<line x1="356.40" y1="201.80" x2="372.26" y2="204.60"/>
<line x1="356.40" y1="201.80" x2="370.99" y2="208.60"/>
<line x1="356.40" y1="201.80" x2="369.59" y2="211.03"/>
<line x1="356.40" y1="201.80" x2="367.78" y2="213.18"/>
<line x1="356.40" y1="201.80" x2="364.45" y2="215.74"/>
<line x1="356.40" y1="201.80" x2="361.91" y2="216.93"/>
<line x1="356.40" y1="201.80" x2="358.92" y2="217.70"/>
<line x1="356.40" y1="201.80" x2="341.09" y2="196.82"/>
<line x1="356.40" y1="201.80" x2="343.21" y2="192.57"/>
<line x1="356.40" y1="201.80" x2="346.05" y2="189.47"/>
<line x1="356.40" y1="201.80" x2="349.60" y2="187.21"/>
<line x1="356.40" y1="201.80" x2="353.60" y2="185.94"/>
<circle cx="356.4" cy="201.8" r="16.1" fill="none"/>
<path d="M403.80,216.90L403.80,200.60A16.3,16.3 0 1 1 391.13,227.16Z" fill="#E56DF5" stroke="#E56DF5" stroke-width="0.2"/>
<path d="M403.80,216.90L391.13,227.16A16.3,16.3 0 0 1 403.80,200.60Z" fill="#FF61C6" stroke="#FF61C6" stroke-width="0.2"/>
<line x1="403.80" y1="216.90" x2="403.80" y2="200.60"/>
<line x1="403.80" y1="216.90" x2="391.13" y2="227.16"/>
<circle cx="403.8" cy="216.9" r="16.3" fill="none"/>
<path d="M470.60,171.60L470.60,155.50A16.1,16.1 0 0 1 475.31,156.20Z" fill="#B0A100" stroke="#B0A100" stroke-width="0.2"/>
<path d="M470.60,171.60L475.31,156.20A16.1,16.1 0 0 1 480.06,158.57Z" fill="#00BD64" stroke="#00BD64" stroke-width="0.2"/>
<path d="M470.60,171.60L480.06,158.57A16.1,16.1 0 0 1 486.08,167.16Z" fill="#00BF7B" stroke="#00BF7B" stroke-width="0.2"/>
<path d="M470.60,171.60L486.08,167.16A16.1,16.1 0 0 1 486.70,171.60Z" fill="#00C090" stroke="#00C090" stroke-width="0.2"/>
<path d="M470.60,171.60L486.70,171.60A16.1,16.1 0 0 1 465.62,186.91Z" fill="#00A8FF" stroke="#00A8FF" stroke-width="0.2"/>
<path d="M470.60,171.60L465.62,186.91A16.1,16.1 0 0 1 457.25,162.60Z" fill="#42A0FF" stroke="#42A0FF" stroke-width="0.2"/>
<path d="M470.60,171.60L457.25,162.60A16.1,16.1 0 0 1 470.60,155.50Z" fill="#FF61C6" stroke="#FF61C6" stroke-width="0.2"/>
<line x1="470.60" y1="171.60" x2="470.60" y2="155.50"/>
<line x1="470.60" y1="171.60" x2="475.31" y2="156.20"/>
<line x1="470.60" y1="171.60" x2="480.06" y2="158.57"/>
<line x1="470.60" y1="171.60" x2="486.08" y2="167.16"/>
<line x1="470.60" y1="171.60" x2="486.70" y2="171.60"/>
<line x1="470.60" y1="171.60" x2="465.62" y2="186.91"/>
<line x1="470.60" y1="171.60" x2="457.25" y2="162.60"/>
<circle cx="470.6" cy="171.6" r="16.1" fill="none"/>
<path d="M556.60,114.50L556.60,98.20A16.3,16.3 0 0 1 564.75,100.38Z" fill="#E18A00" stroke="#E18A00" stroke-width="0.2"/>
<path d="M556.60,114.50L564.75,100.38A16.3,16.3 0 0 1 571.49,107.87Z" fill="#00B2F3" stroke="#00B2F3" stroke-width="0.2"/>
<path d="M556.60,114.50L571.49,107.87A16.3,16.3 0 1 1 540.34,115.64Z" fill="#42A0FF" stroke="#42A0FF" stroke-width="0.2"/>
<path d="M556.60,114.50L540.34,115.64A16.3,16.3 0 0 1 556.60,98.20Z" fill="#FF61C6" stroke="#FF61C6" stroke-width="0.2"/>
<line x1="556.60" y1="114.50" x2="556.60" y2="98.20"/>
<line x1="556.60" y1="114.50" x2="564.75" y2="100.38"/>
<line x1="556.60" y1="114.50" x2="571.49" y2="107.87"/>
<line x1="556.60" y1="114.50" x2="540.34" y2="115.64"/>
<circle cx="556.6" cy="114.5" r="16.3" fill="none"/>
<path d="M615.00,133.00L615.00,116.65A16.35,16.35 0 0 1 627.52,122.49Z" fill="#F57A60" stroke="#F57A60" stroke-width="0.2"/>
<path d="M615.00,133.00L627.52,122.49A16.35,16.35 0 0 1 630.93,136.68Z" fill="#B79F00" stroke="#B79F00" stroke-width="0.2"/>
<path d="M615.00,133.00L630.93,136.68A16.35,16.35 0 0 1 622.42,147.57Z" fill="#A8A400" stroke="#A8A400" stroke-width="0.2"/>
<path d="M615.00,133.00L622.42,147.57A16.35,16.35 0 0 1 609.14,148.26Z" fill="#8B93FF" stroke="#8B93FF" stroke-width="0.2"/>
<path d="M615.00,133.00L609.14,148.26A16.35,16.35 0 0 1 602.66,122.27Z" fill="#E56DF5" stroke="#E56DF5" stroke-width="0.2"/>
<path d="M615.00,133.00L602.66,122.27A16.35,16.35 0 0 1 615.00,116.65Z" fill="#FF62BD" stroke="#FF62BD" stroke-width="0.2"/>
<line x1="615.00" y1="133.00" x2="615.00" y2="116.65"/>
<line x1="615.00" y1="133.00" x2="627.52" y2="122.49"/>
<line x1="615.00" y1="133.00" x2="630.93" y2="136.68"/>
<line x1="615.00" y1="133.00" x2="622.42" y2="147.57"/>
<line x1="615.00" y1="133.00" x2="609.14" y2="148.26"/>
<line x1="615.00" y1="133.00" x2="602.66" y2="122.27"/>
<circle cx="615.0" cy="133.0" r="16.35" fill="none"/>
<path d="M613.20,199.20L613.20,182.85A16.35,16.35 0 0 1 621.13,184.90Z" fill="#E18A00" stroke="#E18A00" stroke-width="0.2"/>
<path d="M613.20,199.20L621.13,184.90A16.35,16.35 0 0 1 627.50,191.27Z" fill="#A8A400" stroke="#A8A400" stroke-width="0.2"/>
<path d="M613.20,199.20L627.50,191.27A16.35,16.35 0 0 1 629.55,199.20Z" fill="#00B5ED" stroke="#00B5ED" stroke-width="0.2"/>
<path d="M613.20,199.20L629.55,199.20A16.35,16.35 0 0 1 627.36,207.38Z" fill="#00AFF7" stroke="#00AFF7" stroke-width="0.2"/>
<path d="M613.20,199.20L627.36,207.38A16.35,16.35 0 0 1 621.38,213.36Z" fill="#00A8FF" stroke="#00A8FF" stroke-width="0.2"/>
<path d="M613.20,199.20L621.38,213.36A16.35,16.35 0 0 1 605.27,213.50Z" fill="#42A0FF" stroke="#42A0FF" stroke-width="0.2"/>
<path d="M613.20,199.20L605.27,213.50A16.35,16.35 0 0 1 598.04,205.32Z" fill="#8B93FF" stroke="#8B93FF" stroke-width="0.2"/>
<path d="M613.20,199.20L598.04,205.32A16.35,16.35 0 0 1 598.26,192.55Z" fill="#E56DF5" stroke="#E56DF5" stroke-width="0.2"/>
<path d="M613.20,199.20L598.26,192.55A16.35,16.35 0 0 1 605.52,184.76Z" fill="#FC61D5" stroke="#FC61D5" stroke-width="0.2"/>
<path d="M613.20,199.20L605.52,184.76A16.35,16.35 0 0 1 613.20,182.85Z" fill="#FF65AC" stroke="#FF65AC" stroke-width="0.2"/>
<line x1="613.20" y1="199.20" x2="613.20" y2="182.85"/>
<line x1="613.20" y1="199.20" x2="621.13" y2="184.90"/>
<line x1="613.20" y1="199.20" x2="627.50" y2="191.27"/>
<line x1="613.20" y1="199.20" x2="629.55" y2="199.20"/>
<line x1="613.20" y1="199.20" x2="627.36" y2="207.38"/>
<line x1="613.20" y1="199.20" x2="621.38" y2="213.36"/>
<line x1="613.20" y1="199.20" x2="605.27" y2="213.50"/>
<line x1="613.20" y1="199.20" x2="598.04" y2="205.32"/>
<line x1="613.20" y1="199.20" x2="598.26" y2="192.55"/>
<line x1="613.20" y1="199.20" x2="605.52" y2="184.76"/>
<circle cx="613.2" cy="199.2" r="16.35" fill="none"/>
<path d="M506.40,248.40L506.40,231.80A16.6,16.6 0 0 1 519.48,238.18Z" fill="#00AFF7" stroke="#00AFF7" stroke-width="0.2"/>
<path d="M506.40,248.40L519.48,238.18A16.6,16.6 0 1 1 506.40,231.80Z" fill="#42A0FF" stroke="#42A0FF" stroke-width="0.2"/>
<line x1="506.40" y1="248.40" x2="506.40" y2="231.80"/>
<line x1="506.40" y1="248.40" x2="519.48" y2="238.18"/>
<circle cx="506.4" cy="248.4" r="16.6" fill="none"/>
<path d="M613.40,249.60L613.40,233.00A16.6,16.6 0 0 1 626.48,239.38Z" fill="#00B2F3" stroke="#00B2F3" stroke-width="0.2"/>
<path d="M613.40,249.60L626.48,239.38A16.6,16.6 0 1 1 599.80,240.08Z" fill="#42A0FF" stroke="#42A0FF" stroke-width="0.2"/>
<path d="M613.40,249.60L599.80,240.08A16.6,16.6 0 0 1 613.40,233.00Z" fill="#F564E3" stroke="#F564E3" stroke-width="0.2"/>
<line x1="613.40" y1="249.60" x2="613.40" y2="233.00"/>
<line x1="613.40" y1="249.60" x2="626.48" y2="239.38"/>
<line x1="613.40" y1="249.60" x2="599.80" y2="240.08"/>
<circle cx="613.4" cy="249.6" r="16.6" fill="none"/>
<path d="M431.50,268.90L431.50,252.80A16.1,16.1 0 0 1 444.01,258.77Z" fill="#E6870B" stroke="#E6870B" stroke-width="0.2"/>
<path d="M431.50,268.90L444.01,258.77A16.1,16.1 0 0 1 447.25,272.25Z" fill="#E18A00" stroke="#E18A00" stroke-width="0.2"/>
<path d="M431.50,268.90L447.25,272.25A16.1,16.1 0 0 1 439.06,283.12Z" fill="#00BE70" stroke="#00BE70" stroke-width="0.2"/>
<path d="M431.50,268.90L439.06,283.12A16.1,16.1 0 0 1 425.21,283.72Z" fill="#00ACFC" stroke="#00ACFC" stroke-width="0.2"/>
<path d="M431.50,268.90L425.21,283.72A16.1,16.1 0 0 1 415.95,273.07Z" fill="#42A0FF" stroke="#42A0FF" stroke-width="0.2"/>
<path d="M431.50,268.90L415.95,273.07A16.1,16.1 0 0 1 431.50,252.80Z" fill="#FE61CE" stroke="#FE61CE" stroke-width="0.2"/>
<line x1="431.50" y1="268.90" x2="431.50" y2="252.80"/>
<line x1="431.50" y1="268.90" x2="444.01" y2="258.77"/>
<line x1="431.50" y1="268.90" x2="447.25" y2="272.25"/>
<line x1="431.50" y1="268.90" x2="439.06" y2="283.12"/>
<line x1="431.50" y1="268.90" x2="425.21" y2="283.72"/>
<line x1="431.50" y1="268.90" x2="415.95" y2="273.07"/>
<circle cx="431.5" cy="268.9" r="16.1" fill="none"/>
<path d="M265.50,307.50L265.50,291.25A16.25,16.25 0 0 1 270.25,291.96Z" fill="#E18A00" stroke="#E18A00" stroke-width="0.2"/>
<path d="M265.50,307.50L270.25,291.96A16.25,16.25 0 0 1 280.95,302.48Z" fill="#B0A100" stroke="#B0A100" stroke-width="0.2"/>
<path d="M265.50,307.50L280.95,302.48A16.25,16.25 0 0 1 281.75,307.50Z" fill="#A8A400" stroke="#A8A400" stroke-width="0.2"/>
<path d="M265.50,307.50L281.75,307.50A16.25,16.25 0 0 1 280.77,313.06Z" fill="#00BA38" stroke="#00BA38" stroke-width="0.2"/>
<path d="M265.50,307.50L280.77,313.06A16.25,16.25 0 0 1 278.81,316.82Z" fill="#00BB49" stroke="#00BB49" stroke-width="0.2"/>
<path d="M265.50,307.50L278.81,316.82A16.25,16.25 0 0 1 274.82,320.81Z" fill="#00BC58" stroke="#00BC58" stroke-width="0.2"/>
<path d="M265.50,307.50L274.82,320.81A16.25,16.25 0 0 1 271.06,322.77Z" fill="#00B7E7" stroke="#00B7E7" stroke-width="0.2"/>
<path d="M265.50,307.50L271.06,322.77A16.25,16.25 0 0 1 266.92,323.69Z" fill="#00B5ED" stroke="#00B5ED" stroke-width="0.2"/>
<path d="M265.50,307.50L266.92,323.69A16.25,16.25 0 0 1 262.68,323.50Z" fill="#00B2F3" stroke="#00B2F3" stroke-width="0.2"/>
<path d="M265.50,307.50L262.68,323.50A16.25,16.25 0 0 1 255.50,320.31Z" fill="#00AFF7" stroke="#00AFF7" stroke-width="0.2"/>
<path d="M265.50,307.50L255.50,320.31A16.25,16.25 0 0 1 250.05,302.48Z" fill="#00ACFC" stroke="#00ACFC" stroke-width="0.2"/>
<path d="M265.50,307.50L250.05,302.48A16.25,16.25 0 0 1 252.19,298.18Z" fill="#A989FF" stroke="#A989FF" stroke-width="0.2"/>
<path d="M265.50,307.50L252.19,298.18A16.25,16.25 0 0 1 255.95,294.35Z" fill="#B684FF" stroke="#B684FF" stroke-width="0.2"/>
<path d="M265.50,307.50L255.95,294.35A16.25,16.25 0 0 1 259.94,292.23Z" fill="#F564E3" stroke="#F564E3" stroke-width="0.2"/>
<path d="M265.50,307.50L259.94,292.23A16.25,16.25 0 0 1 265.50,291.25Z" fill="#FF65AC" stroke="#FF65AC" stroke-width="0.2"/>
<line x1="265.50" y1="307.50" x2="265.50" y2="291.25"/>
<line x1="265.50" y1="307.50" x2="270.25" y2="291.96"/>
<line x1="265.50" y1="307.50" x2="280.95" y2="302.48"/>
<line x1="265.50" y1="307.50" x2="281.75" y2="307.50"/>
<line x1="265.50" y1="307.50" x2="280.77" y2="313.06"/>
<line x1="265.50" y1="307.50" x2="278.81" y2="316.82"/>
<line x1="265.50" y1="307.50" x2="274.82" y2="320.81"/>
<line x1="265.50" y1="307.50" x2="271.06" y2="322.77"/>
<line x1="265.50" y1="307.50" x2="266.92" y2="323.69"/>
<line x1="265.50" y1="307.50" x2="262.68" y2="323.50"/>
<line x1="265.50" y1="307.50" x2="255.50" y2="320.31"/>
<line x1="265.50" y1="307.50" x2="250.05" y2="302.48"/>
<line x1="265.50" y1="307.50" x2="252.19" y2="298.18"/>
<line x1="265.50" y1="307.50" x2="255.95" y2="294.35"/>
<line x1="265.50" y1="307.50" x2="259.94" y2="292.23"/>
<circle cx="265.5" cy="307.5" r="16.25" fill="none"/>
<path d="M381.30,300.90L381.30,284.70A16.2,16.2 0 0 1 391.27,288.13Z" fill="#81AD00" stroke="#81AD00" stroke-width="0.2"/>
<path d="M381.30,300.90L391.27,288.13A16.2,16.2 0 0 1 396.79,296.16Z" fill="#00B5ED" stroke="#00B5ED" stroke-width="0.2"/>
<path d="M381.30,300.90L396.79,296.16A16.2,16.2 0 1 1 381.30,284.70Z" fill="#EB69F0" stroke="#EB69F0" stroke-width="0.2"/>
<line x1="381.30" y1="300.90" x2="381.30" y2="284.70"/>
<line x1="381.30" y1="300.90" x2="391.27" y2="288.13"/>
<line x1="381.30" y1="300.90" x2="396.79" y2="296.16"/>
<circle cx="381.3" cy="300.9" r="16.2" fill="none"/>
<path d="M351.60,367.10L351.60,350.80A16.3,16.3 0 0 1 365.72,375.25Z" fill="#E56DF5" stroke="#E56DF5" stroke-width="0.2"/>
<path d="M351.60,367.10L365.72,375.25A16.3,16.3 0 0 1 337.34,375.00Z" fill="#F564E3" stroke="#F564E3" stroke-width="0.2"/>
<path d="M351.60,367.10L337.34,375.00A16.3,16.3 0 0 1 339.49,356.19Z" fill="#FE61CE" stroke="#FE61CE" stroke-width="0.2"/>
<path d="M351.60,367.10L339.49,356.19A16.3,16.3 0 0 1 351.60,350.80Z" fill="#FF67A2" stroke="#FF67A2" stroke-width="0.2"/>
<line x1="351.60" y1="367.10" x2="351.60" y2="350.80"/>
<line x1="351.60" y1="367.10" x2="365.72" y2="375.25"/>
<line x1="351.60" y1="367.10" x2="337.34" y2="375.00"/>
<line x1="351.60" y1="367.10" x2="339.49" y2="356.19"/>
<circle cx="351.6" cy="367.1" r="16.3" fill="none"/>
<path d="M450.70,364.90L450.70,348.70A16.2,16.2 0 0 1 464.59,356.56Z" fill="#C27FFF" stroke="#C27FFF" stroke-width="0.2"/>
<path d="M450.70,364.90L464.59,356.56A16.2,16.2 0 1 1 450.70,348.70Z" fill="#F962DD" stroke="#F962DD" stroke-width="0.2"/>
<line x1="450.70" y1="364.90" x2="450.70" y2="348.70"/>
<line x1="450.70" y1="364.90" x2="464.59" y2="356.56"/>
<circle cx="450.7" cy="364.9" r="16.2" fill="none"/>
<path d="M616.90,338.30L616.90,322.10A16.2,16.2 0 0 1 625.48,324.56Z" fill="#E18A00" stroke="#E18A00" stroke-width="0.2"/>
<path d="M616.90,338.30L625.48,324.56A16.2,16.2 0 0 1 631.92,332.23Z" fill="#00BD64" stroke="#00BD64" stroke-width="0.2"/>
<path d="M616.90,338.30L631.92,332.23A16.2,16.2 0 0 1 632.85,341.11Z" fill="#00C0BC" stroke="#00C0BC" stroke-width="0.2"/>
<path d="M616.90,338.30L632.85,341.11A16.2,16.2 0 0 1 629.13,348.93Z" fill="#00AFF7" stroke="#00AFF7" stroke-width="0.2"/>
<path d="M616.90,338.30L629.13,348.93A16.2,16.2 0 0 1 621.09,353.95Z" fill="#42A0FF" stroke="#42A0FF" stroke-width="0.2"/>
<path d="M616.90,338.30L621.09,353.95A16.2,16.2 0 0 1 612.71,353.95Z" fill="#7897FF" stroke="#7897FF" stroke-width="0.2"/>
<path d="M616.90,338.30L612.71,353.95A16.2,16.2 0 0 1 604.49,348.71Z" fill="#C27FFF" stroke="#C27FFF" stroke-width="0.2"/>
<path d="M616.90,338.30L604.49,348.71A16.2,16.2 0 0 1 616.90,322.10Z" fill="#F962DD" stroke="#F962DD" stroke-width="0.2"/>
<line x1="616.90" y1="338.30" x2="616.90" y2="322.10"/>
<line x1="616.90" y1="338.30" x2="625.48" y2="324.56"/>
<line x1="616.90" y1="338.30" x2="631.92" y2="332.23"/>
<line x1="616.90" y1="338.30" x2="632.85" y2="341.11"/>
<line x1="616.90" y1="338.30" x2="629.13" y2="348.93"/>
<line x1="616.90" y1="338.30" x2="621.09" y2="353.95"/>
<line x1="616.90" y1="338.30" x2="612.71" y2="353.95"/>
<line x1="616.90" y1="338.30" x2="604.49" y2="348.71"/>
<circle cx="616.9" cy="338.3" r="16.2" fill="none"/>
<path d="M585.90,392.10L585.90,375.90A16.2,16.2 0 0 1 591.44,376.88Z" fill="#F8766D" stroke="#F8766D" stroke-width="0.2"/>
<path d="M585.90,392.10L591.44,376.88A16.2,16.2 0 0 1 596.74,380.06Z" fill="#68B100" stroke="#68B100" stroke-width="0.2"/>
<path d="M585.90,392.10L596.74,380.06A16.2,16.2 0 0 1 600.20,384.49Z" fill="#00BAE1" stroke="#00BAE1" stroke-width="0.2"/>
<path d="M585.90,392.10L600.20,384.49A16.2,16.2 0 0 1 602.09,391.53Z" fill="#00B5ED" stroke="#00B5ED" stroke-width="0.2"/>
<path d="M585.90,392.10L602.09,391.53A16.2,16.2 0 0 1 596.53,404.33Z" fill="#00AFF7" stroke="#00AFF7" stroke-width="0.2"/>
<path d="M585.90,392.10L596.53,404.33A16.2,16.2 0 0 1 581.16,407.59Z" fill="#00A8FF" stroke="#00A8FF" stroke-width="0.2"/>
<path d="M585.90,392.10L581.16,407.59A16.2,16.2 0 0 1 576.61,405.37Z" fill="#A989FF" stroke="#A989FF" stroke-width="0.2"/>
<path d="M585.90,392.10L576.61,405.37A16.2,16.2 0 0 1 571.73,399.95Z" fill="#B684FF" stroke="#B684FF" stroke-width="0.2"/>
<path d="M585.90,392.10L571.73,399.95A16.2,16.2 0 0 1 569.95,394.91Z" fill="#E56DF5" stroke="#E56DF5" stroke-width="0.2"/>
<path d="M585.90,392.10L569.95,394.91A16.2,16.2 0 0 1 569.95,389.29Z" fill="#F066EA" stroke="#F066EA" stroke-width="0.2"/>
<path d="M585.90,392.10L569.95,389.29A16.2,16.2 0 0 1 580.36,376.88Z" fill="#F962DD" stroke="#F962DD" stroke-width="0.2"/>
<path d="M585.90,392.10L580.36,376.88A16.2,16.2 0 0 1 585.90,375.90Z" fill="#FF62BD" stroke="#FF62BD" stroke-width="0.2"/>
<line x1="585.90" y1="392.10" x2="585.90" y2="375.90"/>
<line x1="585.90" y1="392.10" x2="591.44" y2="376.88"/>
<line x1="585.90" y1="392.10" x2="596.74" y2="380.06"/>
<line x1="585.90" y1="392.10" x2="600.20" y2="384.49"/>
<line x1="585.90" y1="392.10" x2="602.09" y2="391.53"/>
<line x1="585.90" y1="392.10" x2="596.53" y2="404.33"/>
<line x1="585.90" y1="392.10" x2="581.16" y2="407.59"/>
<line x1="585.90" y1="392.10" x2="576.61" y2="405.37"/>
<line x1="585.90" y1="392.10" x2="571.73" y2="399.95"/>
<line x1="585.90" y1="392.10" x2="569.95" y2="394.91"/>
<line x1="585.90" y1="392.10" x2="569.95" y2="389.29"/>
<line x1="585.90" y1="392.10" x2="580.36" y2="376.88"/>
<circle cx="585.9" cy="392.1" r="16.2" fill="none"/>
</g>
<text x="234.0" y="124.2" class="st">SCLYS</text>
<text x="229.4" y="131.0" class="st">SCPZS</text>
<text x="233.0" y="137.7" class="st">SCSSS</text>
<text x="263.0" y="131.8" class="st">SCLJS</text>
<text x="222.5" y="150.7" class="st">SCGTS</text>
<text x="216.0" y="157.1" class="st">SCXFS</text>
<text x="208.0" y="171.9" class="st">SCJFS</text>
<text x="200.7" y="183.0" class="st">SCYFS</text>
<text x="299.9" y="181.0" class="st">CQWGS</text>
<text x="296.3" y="200.5" class="st">CQYCQ</text>
<text x="245.2" y="228.9" class="st">SCSZZ</text>
<text x="244.0" y="242.4" class="st">SCJJL</text>
<text x="270.8" y="258.5" class="st">YNYJX</text>
<text x="312.5" y="239.2" class="st">SCBZL</text>
<text x="314.9" y="246.6" class="st">SCXYX</text>
<text x="345.8" y="238.0" class="st">GZCSS</text>
<text x="379.0" y="243.9" class="st">GZTZX</text>
<text x="425.1" y="294.0" class="st">GZSNX</text>
<text x="473.7" y="216.3" class="st">HBLFX</text>
<text x="490.5" y="204.4" class="st">HNXXT</text>
<text x="516.2" y="211.4" class="st">HNYSX</text>
<text x="529.8" y="194.6" class="st">HNSZX</text>
<text x="548.2" y="234.8" class="st">HNYLX</text>
<text x="558.3" y="244.8" class="st">HNAHX</text>
<text x="468.7" y="368.2" class="st">GZQDN</text>
<text x="578.1" y="328.2" class="st">HNJDX</text>
<text x="603.6" y="385.7" class="st">HNHYZ</text>
<rect x="31.70" y="222.30" width="8.80" height="8.80" fill="#F8766D" stroke="#1a1a1a" stroke-width="1.0"/>
<text x="44.10" y="229.30" class="lg">haplo-1</text>
<rect x="31.70" y="232.23" width="8.80" height="8.80" fill="#F57A60" stroke="#1a1a1a" stroke-width="1.0"/>
<text x="44.10" y="239.23" class="lg">haplo-2</text>
<rect x="31.70" y="242.16" width="8.80" height="8.80" fill="#F27D52" stroke="#1a1a1a" stroke-width="1.0"/>
<text x="44.10" y="249.16" class="lg">haplo-3</text>
<rect x="31.70" y="252.09" width="8.80" height="8.80" fill="#EE8043" stroke="#1a1a1a" stroke-width="1.0"/>
<text x="44.10" y="259.09" class="lg">haplo-4</text>
<rect x="31.70" y="262.02" width="8.80" height="8.80" fill="#EA842F" stroke="#1a1a1a" stroke-width="1.0"/>
<text x="44.10" y="269.02" class="lg">haplo-5</text>
<rect x="31.70" y="271.95" width="8.80" height="8.80" fill="#E6870B" stroke="#1a1a1a" stroke-width="1.0"/>
<text x="44.10" y="278.95" class="lg">haplo-6</text>
<rect x="31.70" y="281.88" width="8.80" height="8.80" fill="#E18A00" stroke="#1a1a1a" stroke-width="1.0"/>
<text x="44.10" y="288.88" class="lg">haplo-7</text>
<rect x="31.70" y="291.81" width="8.80" height="8.80" fill="#DC8D00" stroke="#1a1a1a" stroke-width="1.0"/>
<text x="44.10" y="298.81" class="lg">haplo-8</text>
<rect x="31.70" y="301.74" width="8.80" height="8.80" fill="#D79000" stroke="#1a1a1a" stroke-width="1.0"/>
<text x="44.10" y="308.74" class="lg">haplo-9</text>
<rect x="31.70" y="311.67" width="8.80" height="8.80" fill="#D19300" stroke="#1a1a1a" stroke-width="1.0"/>
<text x="44.10" y="318.67" class="lg">haplo-10</text>
<rect x="31.70" y="321.60" width="8.80" height="8.80" fill="#CB9600" stroke="#1a1a1a" stroke-width="1.0"/>
<text x="44.10" y="328.60" class="lg">haplo-11</text>
<rect x="31.70" y="331.53" width="8.80" height="8.80" fill="#C59900" stroke="#1a1a1a" stroke-width="1.0"/>
<text x="44.10" y="338.53" class="lg">haplo-12</text>
<rect x="31.70" y="341.46" width="8.80" height="8.80" fill="#BE9C00" stroke="#1a1a1a" stroke-width="1.0"/>
<text x="44.10" y="348.46" class="lg">haplo-13</text>
<rect x="31.70" y="351.39" width="8.80" height="8.80" fill="#B79F00" stroke="#1a1a1a" stroke-width="1.0"/>
<text x="44.10" y="358.39" class="lg">haplo-14</text>
<rect x="31.70" y="361.32" width="8.80" height="8.80" fill="#B0A100" stroke="#1a1a1a" stroke-width="1.0"/>
<text x="44.10" y="368.32" class="lg">haplo-15</text>
<rect x="31.70" y="371.25" width="8.80" height="8.80" fill="#A8A400" stroke="#1a1a1a" stroke-width="1.0"/>
<text x="44.10" y="378.25" class="lg">haplo-16</text>
<rect x="31.70" y="381.18" width="8.80" height="8.80" fill="#9FA600" stroke="#1a1a1a" stroke-width="1.0"/>
<text x="44.10" y="388.18" class="lg">haplo-17</text>
<rect x="31.70" y="391.11" width="8.80" height="8.80" fill="#96A900" stroke="#1a1a1a" stroke-width="1.0"/>
<text x="44.10" y="398.11" class="lg">haplo-18</text>
<rect x="31.70" y="401.04" width="8.80" height="8.80" fill="#8CAB00" stroke="#1a1a1a" stroke-width="1.0"/>
<text x="44.10" y="408.04" class="lg">haplo-19</text>
<rect x="31.70" y="410.97" width="8.80" height="8.80" fill="#81AD00" stroke="#1a1a1a" stroke-width="1.0"/>
<text x="44.10" y="417.97" class="lg">haplo-20</text>
<rect x="78.40" y="222.30" width="8.80" height="8.80" fill="#75AF00" stroke="#1a1a1a" stroke-width="1.0"/>
<text x="90.80" y="229.30" class="lg">haplo-21</text>
<rect x="78.40" y="232.23" width="8.80" height="8.80" fill="#68B100" stroke="#1a1a1a" stroke-width="1.0"/>
<text x="90.80" y="239.23" class="lg">haplo-22</text>
<rect x="78.40" y="242.16" width="8.80" height="8.80" fill="#58B300" stroke="#1a1a1a" stroke-width="1.0"/>
<text x="90.80" y="249.16" class="lg">haplo-23</text>
<rect x="78.40" y="252.09" width="8.80" height="8.80" fill="#44B500" stroke="#1a1a1a" stroke-width="1.0"/>
<text x="90.80" y="259.09" class="lg">haplo-24</text>
<rect x="78.40" y="262.02" width="8.80" height="8.80" fill="#24B700" stroke="#1a1a1a" stroke-width="1.0"/>
<text x="90.80" y="269.02" class="lg">haplo-25</text>
<rect x="78.40" y="271.95" width="8.80" height="8.80" fill="#00B821" stroke="#1a1a1a" stroke-width="1.0"/>
<text x="90.80" y="278.95" class="lg">haplo-26</text>
<rect x="78.40" y="281.88" width="8.80" height="8.80" fill="#00BA38" stroke="#1a1a1a" stroke-width="1.0"/>
<text x="90.80" y="288.88" class="lg">haplo-27</text>
<rect x="78.40" y="291.81" width="8.80" height="8.80" fill="#00BB49" stroke="#1a1a1a" stroke-width="1.0"/>
<text x="90.80" y="298.81" class="lg">haplo-28</text>
<rect x="78.40" y="301.74" width="8.80" height="8.80" fill="#00BC58" stroke="#1a1a1a" stroke-width="1.0"/>
<text x="90.80" y="308.74" class="lg">haplo-29</text>
<rect x="78.40" y="311.67" width="8.80" height="8.80" fill="#00BD64" stroke="#1a1a1a" stroke-width="1.0"/>
<text x="90.80" y="318.67" class="lg">haplo-30</text>
<rect x="78.40" y="321.60" width="8.80" height="8.80" fill="#00BE70" stroke="#1a1a1a" stroke-width="1.0"/>
<text x="90.80" y="328.60" class="lg">haplo-31</text>
<rect x="78.40" y="331.53" width="8.80" height="8.80" fill="#00BF7B" stroke="#1a1a1a" stroke-width="1.0"/>
<text x="90.80" y="338.53" class="lg">haplo-32</text>
<rect x="78.40" y="341.46" width="8.80" height="8.80" fill="#00C086" stroke="#1a1a1a" stroke-width="1.0"/>
<text x="90.80" y="348.46" class="lg">haplo-33</text>
<rect x="78.40" y="351.39" width="8.80" height="8.80" fill="#00C090" stroke="#1a1a1a" stroke-width="1.0"/>
<text x="90.80" y="358.39" class="lg">haplo-34</text>
<rect x="78.40" y="361.32" width="8.80" height="8.80" fill="#00C199" stroke="#1a1a1a" stroke-width="1.0"/>
<text x="90.80" y="368.32" class="lg">haplo-35</text>
<rect x="78.40" y="371.25" width="8.80" height="8.80" fill="#00C1A2" stroke="#1a1a1a" stroke-width="1.0"/>
<text x="90.80" y="378.25" class="lg">haplo-36</text>
<rect x="78.40" y="381.18" width="8.80" height="8.80" fill="#00C1AB" stroke="#1a1a1a" stroke-width="1.0"/>
<text x="90.80" y="388.18" class="lg">haplo-37</text>
<rect x="78.40" y="391.11" width="8.80" height="8.80" fill="#00C0B4" stroke="#1a1a1a" stroke-width="1.0"/>
<text x="90.80" y="398.11" class="lg">haplo-38</text>
<rect x="78.40" y="401.04" width="8.80" height="8.80" fill="#00C0BC" stroke="#1a1a1a" stroke-width="1.0"/>
<text x="90.80" y="408.04" class="lg">haplo-39</text>
<rect x="78.40" y="410.97" width="8.80" height="8.80" fill="#00BFC4" stroke="#1a1a1a" stroke-width="1.0"/>
<text x="90.80" y="417.97" class="lg">haplo-40</text>
<rect x="126.50" y="222.30" width="8.80" height="8.80" fill="#00BECC" stroke="#1a1a1a" stroke-width="1.0"/>
<text x="138.90" y="229.30" class="lg">haplo-41</text>
<rect x="126.50" y="232.23" width="8.80" height="8.80" fill="#00BDD3" stroke="#1a1a1a" stroke-width="1.0"/>
<text x="138.90" y="239.23" class="lg">haplo-42</text>
<rect x="126.50" y="242.16" width="8.80" height="8.80" fill="#00BBDA" stroke="#1a1a1a" stroke-width="1.0"/>
<text x="138.90" y="249.16" class="lg">haplo-43</text>
<rect x="126.50" y="252.09" width="8.80" height="8.80" fill="#00BAE1" stroke="#1a1a1a" stroke-width="1.0"/>
<text x="138.90" y="259.09" class="lg">haplo-44</text>
<rect x="126.50" y="262.02" width="8.80" height="8.80" fill="#00B7E7" stroke="#1a1a1a" stroke-width="1.0"/>
<text x="138.90" y="269.02" class="lg">haplo-45</text>
<rect x="126.50" y="271.95" width="8.80" height="8.80" fill="#00B5ED" stroke="#1a1a1a" stroke-width="1.0"/>
<text x="138.90" y="278.95" class="lg">haplo-46</text>
<rect x="126.50" y="281.88" width="8.80" height="8.80" fill="#00B2F3" stroke="#1a1a1a" stroke-width="1.0"/>
<text x="138.90" y="288.88" class="lg">haplo-47</text>
<rect x="126.50" y="291.81" width="8.80" height="8.80" fill="#00AFF7" stroke="#1a1a1a" stroke-width="1.0"/>
<text x="138.90" y="298.81" class="lg">haplo-48</text>
<rect x="126.50" y="301.74" width="8.80" height="8.80" fill="#00ACFC" stroke="#1a1a1a" stroke-width="1.0"/>
<text x="138.90" y="308.74" class="lg">haplo-49</text>
<rect x="126.50" y="311.67" width="8.80" height="8.80" fill="#00A8FF" stroke="#1a1a1a" stroke-width="1.0"/>
<text x="138.90" y="318.67" class="lg">haplo-50</text>
<rect x="126.50" y="321.60" width="8.80" height="8.80" fill="#00A5FF" stroke="#1a1a1a" stroke-width="1.0"/>
<text x="138.90" y="328.60" class="lg">haplo-51</text>
<rect x="126.50" y="331.53" width="8.80" height="8.80" fill="#42A0FF" stroke="#1a1a1a" stroke-width="1.0"/>
<text x="138.90" y="338.53" class="lg">haplo-52</text>
<rect x="126.50" y="341.46" width="8.80" height="8.80" fill="#619CFF" stroke="#1a1a1a" stroke-width="1.0"/>
<text x="138.90" y="348.46" class="lg">haplo-53</text>
<rect x="126.50" y="351.39" width="8.80" height="8.80" fill="#7897FF" stroke="#1a1a1a" stroke-width="1.0"/>
<text x="138.90" y="358.39" class="lg">haplo-54</text>
<rect x="126.50" y="361.32" width="8.80" height="8.80" fill="#8B93FF" stroke="#1a1a1a" stroke-width="1.0"/>
<text x="138.90" y="368.32" class="lg">haplo-55</text>
<rect x="126.50" y="371.25" width="8.80" height="8.80" fill="#9B8EFF" stroke="#1a1a1a" stroke-width="1.0"/>
<text x="138.90" y="378.25" class="lg">haplo-56</text>
<rect x="126.50" y="381.18" width="8.80" height="8.80" fill="#A989FF" stroke="#1a1a1a" stroke-width="1.0"/>
<text x="138.90" y="388.18" class="lg">haplo-57</text>
<rect x="126.50" y="391.11" width="8.80" height="8.80" fill="#B684FF" stroke="#1a1a1a" stroke-width="1.0"/>
<text x="138.90" y="398.11" class="lg">haplo-58</text>
<rect x="126.50" y="401.04" width="8.80" height="8.80" fill="#C27FFF" stroke="#1a1a1a" stroke-width="1.0"/>
<text x="138.90" y="408.04" class="lg">haplo-59</text>
<rect x="126.50" y="410.97" width="8.80" height="8.80" fill="#CC7AFF" stroke="#1a1a1a" stroke-width="1.0"/>
<text x="138.90" y="417.97" class="lg">haplo-60</text>
<rect x="172.30" y="222.30" width="8.80" height="8.80" fill="#D575FE" stroke="#1a1a1a" stroke-width="1.0"/>
<text x="184.70" y="229.30" class="lg">haplo-61</text>
<rect x="172.30" y="232.23" width="8.80" height="8.80" fill="#DD71FA" stroke="#1a1a1a" stroke-width="1.0"/>
<text x="184.70" y="239.23" class="lg">haplo-62</text>
<rect x="172.30" y="242.16" width="8.80" height="8.80" fill="#E56DF5" stroke="#1a1a1a" stroke-width="1.0"/>
<text x="184.70" y="249.16" class="lg">haplo-63</text>
<rect x="172.30" y="252.09" width="8.80" height="8.80" fill="#EB69F0" stroke="#1a1a1a" stroke-width="1.0"/>
<text x="184.70" y="259.09" class="lg">haplo-64</text>
<rect x="172.30" y="262.02" width="8.80" height="8.80" fill="#F066EA" stroke="#1a1a1a" stroke-width="1.0"/>
<text x="184.70" y="269.02" class="lg">haplo-65</text>
<rect x="172.30" y="271.95" width="8.80" height="8.80" fill="#F564E3" stroke="#1a1a1a" stroke-width="1.0"/>
<text x="184.70" y="278.95" class="lg">haplo-66</text>
<rect x="172.30" y="281.88" width="8.80" height="8.80" fill="#F962DD" stroke="#1a1a1a" stroke-width="1.0"/>
<text x="184.70" y="288.88" class="lg">haplo-67</text>
<rect x="172.30" y="291.81" width="8.80" height="8.80" fill="#FC61D5" stroke="#1a1a1a" stroke-width="1.0"/>
<text x="184.70" y="298.81" class="lg">haplo-68</text>
<rect x="172.30" y="301.74" width="8.80" height="8.80" fill="#FE61CE" stroke="#1a1a1a" stroke-width="1.0"/>
<text x="184.70" y="308.74" class="lg">haplo-69</text>
<rect x="172.30" y="311.67" width="8.80" height="8.80" fill="#FF61C6" stroke="#1a1a1a" stroke-width="1.0"/>
<text x="184.70" y="318.67" class="lg">haplo-70</text>
<rect x="172.30" y="321.60" width="8.80" height="8.80" fill="#FF62BD" stroke="#1a1a1a" stroke-width="1.0"/>
<text x="184.70" y="328.60" class="lg">haplo-71</text>
<rect x="172.30" y="331.53" width="8.80" height="8.80" fill="#FF63B5" stroke="#1a1a1a" stroke-width="1.0"/>
<text x="184.70" y="338.53" class="lg">haplo-72</text>
<rect x="172.30" y="341.46" width="8.80" height="8.80" fill="#FF65AC" stroke="#1a1a1a" stroke-width="1.0"/>
<text x="184.70" y="348.46" class="lg">haplo-73</text>
<rect x="172.30" y="351.39" width="8.80" height="8.80" fill="#FF67A2" stroke="#1a1a1a" stroke-width="1.0"/>
<text x="184.70" y="358.39" class="lg">haplo-74</text>
<rect x="172.30" y="361.32" width="8.80" height="8.80" fill="#FF6A99" stroke="#1a1a1a" stroke-width="1.0"/>
<text x="184.70" y="368.32" class="lg">haplo-75</text>
<rect x="172.30" y="371.25" width="8.80" height="8.80" fill="#FF6D8E" stroke="#1a1a1a" stroke-width="1.0"/>
<text x="184.70" y="378.25" class="lg">haplo-76</text>
<rect x="172.30" y="381.18" width="8.80" height="8.80" fill="#FD7084" stroke="#1a1a1a" stroke-width="1.0"/>
<text x="184.70" y="388.18" class="lg">haplo-77</text>
<rect x="172.30" y="391.11" width="8.80" height="8.80" fill="#FA7379" stroke="#1a1a1a" stroke-width="1.0"/>
<text x="184.70" y="398.11" class="lg">haplo-78</text>
<rect x="32.8" y="434.4" width="11.600000000000001" height="3.8" fill="#000"/>
<rect x="44.4" y="434.7" width="11.600000000000001" height="3.1999999999999997" fill="rgba(255,255,255,0.32)" stroke="#111" stroke-width="0.7"/>
<rect x="56.0" y="434.4" width="11.599999999999994" height="3.8" fill="#000"/>
<rect x="67.6" y="434.7" width="11.600000000000009" height="3.1999999999999997" fill="rgba(255,255,255,0.32)" stroke="#111" stroke-width="0.7"/>
<rect x="79.2" y="434.4" width="46.39999999999999" height="3.8" fill="#000"/>
<rect x="125.6" y="434.7" width="46.400000000000006" height="3.1999999999999997" fill="rgba(255,255,255,0.32)" stroke="#111" stroke-width="0.7"/>
<rect x="172.0" y="434.4" width="46.400000000000006" height="3.8" fill="#000"/>
<text x="32.8" y="431.0" class="sb" text-anchor="middle">0</text>
<text x="56.0" y="431.0" class="sb" text-anchor="middle">25</text>
<text x="79.2" y="431.0" class="sb" text-anchor="middle">50</text>
<text x="125.6" y="431.0" class="sb" text-anchor="middle">100</text>
<text x="172.0" y="431.0" class="sb" text-anchor="middle">150</text>
<text x="218.4" y="431.0" class="sb" text-anchor="middle">200</text>
<text x="230.8" y="438.1" class="km">km</text>
<line x1="668.7" y1="65.5" x2="668.7" y2="461.5" stroke="#A9A99C" stroke-width="1.4"/>
<rect x="15" y="20" width="655.8" height="442.8" fill="none" stroke="#000" stroke-width="3"/>
<text x="69.0" y="15.9" class="ax" text-anchor="middle">100° E</text>
<text x="67.5" y="478.9" class="ax" text-anchor="middle">100° E</text>
<line x1="68.4" y1="20" x2="68.4" y2="22.5" stroke="#000" stroke-width="0.8"/>
<line x1="68.4" y1="460" x2="68.4" y2="462.5" stroke="#000" stroke-width="0.8"/>
<text x="160.5" y="15.9" class="ax" text-anchor="middle">102° E</text>
<text x="159.7" y="478.9" class="ax" text-anchor="middle">102° E</text>
<line x1="159.0" y1="20" x2="159.0" y2="22.5" stroke="#000" stroke-width="0.8"/>
<line x1="159.0" y1="460" x2="159.0" y2="462.5" stroke="#000" stroke-width="0.8"/>
<text x="251.7" y="15.9" class="ax" text-anchor="middle">104° E</text>
<text x="250.3" y="478.9" class="ax" text-anchor="middle">104° E</text>
<line x1="249.6" y1="20" x2="249.6" y2="22.5" stroke="#000" stroke-width="0.8"/>
<line x1="249.6" y1="460" x2="249.6" y2="462.5" stroke="#000" stroke-width="0.8"/>
<text x="342.8" y="15.9" class="ax" text-anchor="middle">106° E</text>
<text x="341.2" y="478.9" class="ax" text-anchor="middle">106° E</text>
<line x1="340.5" y1="20" x2="340.5" y2="22.5" stroke="#000" stroke-width="0.8"/>
<line x1="340.5" y1="460" x2="340.5" y2="462.5" stroke="#000" stroke-width="0.8"/>
<text x="433.4" y="15.9" class="ax" text-anchor="middle">108° E</text>
<text x="431.8" y="478.9" class="ax" text-anchor="middle">108° E</text>
<line x1="431.1" y1="20" x2="431.1" y2="22.5" stroke="#000" stroke-width="0.8"/>
<line x1="431.1" y1="460" x2="431.1" y2="462.5" stroke="#000" stroke-width="0.8"/>
<text x="523.8" y="15.9" class="ax" text-anchor="middle">110° E</text>
<text x="522.3" y="478.9" class="ax" text-anchor="middle">110° E</text>
<line x1="521.6" y1="20" x2="521.6" y2="22.5" stroke="#000" stroke-width="0.8"/>
<line x1="521.6" y1="460" x2="521.6" y2="462.5" stroke="#000" stroke-width="0.8"/>
<text x="614.5" y="15.9" class="ax" text-anchor="middle">112° E</text>
<text x="613.1" y="478.9" class="ax" text-anchor="middle">112° E</text>
<line x1="612.4" y1="20" x2="612.4" y2="22.5" stroke="#000" stroke-width="0.8"/>
<line x1="612.4" y1="460" x2="612.4" y2="462.5" stroke="#000" stroke-width="0.8"/>
<text transform="translate(10.5,78.3) rotate(-90)" x="0" y="0" class="ax axv" text-anchor="middle">32° N</text>
<text transform="translate(682.5,78.3) rotate(-90)" x="0" y="0" class="ax axv" text-anchor="middle">32° N</text>
<line x1="15" y1="79.4" x2="17.5" y2="79.4" stroke="#000" stroke-width="0.8"/>
<line x1="668" y1="79.4" x2="670.5" y2="79.4" stroke="#000" stroke-width="0.8"/>
<text transform="translate(10.5,170.5) rotate(-90)" x="0" y="0" class="ax axv" text-anchor="middle">30° N</text>
<text transform="translate(682.5,170.5) rotate(-90)" x="0" y="0" class="ax axv" text-anchor="middle">30° N</text>
<line x1="15" y1="170.1" x2="17.5" y2="170.1" stroke="#000" stroke-width="0.8"/>
<line x1="668" y1="170.1" x2="670.5" y2="170.1" stroke="#000" stroke-width="0.8"/>
<text transform="translate(10.5,260.5) rotate(-90)" x="0" y="0" class="ax axv" text-anchor="middle">28° N</text>
<text transform="translate(682.5,260.5) rotate(-90)" x="0" y="0" class="ax axv" text-anchor="middle">28° N</text>
<line x1="15" y1="261.4" x2="17.5" y2="261.4" stroke="#000" stroke-width="0.8"/>
<line x1="668" y1="261.4" x2="670.5" y2="261.4" stroke="#000" stroke-width="0.8"/>
<text transform="translate(10.5,351.8) rotate(-90)" x="0" y="0" class="ax axv" text-anchor="middle">26° N</text>
<text transform="translate(682.5,351.8) rotate(-90)" x="0" y="0" class="ax axv" text-anchor="middle">26° N</text>
<line x1="15" y1="351.5" x2="17.5" y2="351.5" stroke="#000" stroke-width="0.8"/>
<line x1="668" y1="351.5" x2="670.5" y2="351.5" stroke="#000" stroke-width="0.8"/>
<text transform="translate(10.5,441.9) rotate(-90)" x="0" y="0" class="ax axv" text-anchor="middle">24° N</text>
<text transform="translate(682.5,441.9) rotate(-90)" x="0" y="0" class="ax axv" text-anchor="middle">24° N</text>
<line x1="15" y1="442.3" x2="17.5" y2="442.3" stroke="#000" stroke-width="0.8"/>
<line x1="668" y1="442.3" x2="670.5" y2="442.3" stroke="#000" stroke-width="0.8"/>
</svg>
</body></html>
